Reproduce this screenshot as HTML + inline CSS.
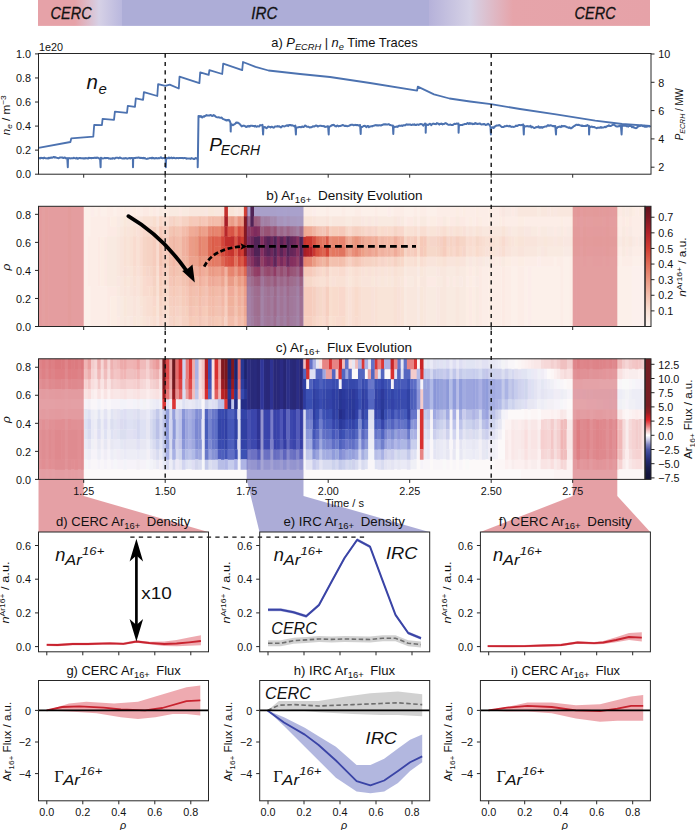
<!DOCTYPE html>
<html><head><meta charset="utf-8"><style>
html,body{margin:0;padding:0;background:#fff;}
body{width:695px;height:830px;position:relative;overflow:hidden;font-family:"Liberation Sans", sans-serif;}
</style></head><body>
<svg width="695" height="830" viewBox="0 0 695 830" style="position:absolute;left:0;top:0">
<defs>
<linearGradient id="band" x1="0" y1="0" x2="1" y2="0"><stop offset="0.0000" stop-color="#e6a2a8"/><stop offset="0.0605" stop-color="#e6a2a8"/><stop offset="0.0997" stop-color="#d6d1e6"/><stop offset="0.1364" stop-color="#bab8de"/><stop offset="0.1381" stop-color="#adadd7"/><stop offset="0.6381" stop-color="#adadd7"/><stop offset="0.6397" stop-color="#b6b2da"/><stop offset="0.7059" stop-color="#d6d2e6"/><stop offset="0.7761" stop-color="#e6a4aa"/><stop offset="1.0000" stop-color="#e6a2a8"/></linearGradient>
<linearGradient id="cbb" x1="0" y1="1" x2="0" y2="0"><stop offset="0.000" stop-color="#fcf5f2"/><stop offset="0.130" stop-color="#f9e0d4"/><stop offset="0.260" stop-color="#f3beac"/><stop offset="0.390" stop-color="#ea9680"/><stop offset="0.519" stop-color="#e06c56"/><stop offset="0.649" stop-color="#d23e32"/><stop offset="0.779" stop-color="#b22128"/><stop offset="0.909" stop-color="#7d1621"/><stop offset="1.000" stop-color="#5f121c"/></linearGradient>
<linearGradient id="cbc" x1="0" y1="1" x2="0" y2="0"><stop offset="-0.0019" stop-color="#121237"/><stop offset="0.0452" stop-color="#14143c"/><stop offset="0.1017" stop-color="#191e50"/><stop offset="0.1536" stop-color="#23286e"/><stop offset="0.2007" stop-color="#323c8c"/><stop offset="0.2478" stop-color="#4b55a5"/><stop offset="0.2902" stop-color="#8287c3"/><stop offset="0.3278" stop-color="#c8c8e6"/><stop offset="0.3655" stop-color="#ffffff"/><stop offset="0.4032" stop-color="#f5c8c8"/><stop offset="0.4456" stop-color="#eb7878"/><stop offset="0.4927" stop-color="#de2328"/><stop offset="0.5257" stop-color="#be1e23"/><stop offset="0.5539" stop-color="#961e23"/><stop offset="0.6105" stop-color="#781e23"/><stop offset="1.0014" stop-color="#731e23"/></linearGradient>
</defs>
<rect width="695" height="830" fill="#ffffff"/>
<rect x="38" y="0" width="612" height="25.9" fill="url(#band)"/>
<g font-family='"Liberation Sans", sans-serif' font-style="italic" font-size="17" fill="#111" stroke="#111" stroke-width="0.3">
<text x="50.6" y="19.2" textLength="41" lengthAdjust="spacingAndGlyphs">CERC</text>
<text x="251.3" y="19.2" textLength="26.2" lengthAdjust="spacingAndGlyphs">IRC</text>
<text x="574.6" y="19.2" textLength="41" lengthAdjust="spacingAndGlyphs">CERC</text>
</g>
<path fill="#fceae4" d="M38.50 206.30h3.61v10.37h-3.61zM38.50 216.32h3.61v10.37h-3.61zM38.50 226.33h3.61v10.37h-3.61zM38.50 236.35h3.61v10.37h-3.61zM38.50 246.37h3.61v10.37h-3.61zM38.50 256.38h3.61v10.37h-3.61zM38.50 266.40h3.61v10.37h-3.61zM38.50 276.42h3.61v10.37h-3.61zM38.50 286.43h3.61v10.37h-3.61zM38.50 296.45h3.61v10.37h-3.61zM38.50 306.47h3.61v10.37h-3.61zM38.50 316.48h3.61v10.37h-3.61zM97.18 236.35h3.61v10.37h-3.61zM97.18 246.37h3.61v10.37h-3.61zM97.18 256.38h3.61v10.37h-3.61zM97.18 266.40h3.61v10.37h-3.61zM97.18 276.42h3.61v10.37h-3.61zM103.70 236.35h3.61v10.37h-3.61zM103.70 246.37h3.61v10.37h-3.61zM103.70 256.38h3.61v10.37h-3.61zM103.70 266.40h3.61v10.37h-3.61zM103.70 276.42h3.61v10.37h-3.61zM106.96 216.32h3.61v10.37h-3.61zM106.96 226.33h3.61v10.37h-3.61zM106.96 286.43h3.61v10.37h-3.61zM106.96 296.45h3.61v10.37h-3.61zM106.96 306.47h3.61v10.37h-3.61zM106.96 316.48h3.61v10.37h-3.61zM110.22 226.33h3.61v10.37h-3.61zM110.22 286.43h3.61v10.37h-3.61zM113.48 226.33h3.61v10.37h-3.61zM113.48 286.43h3.61v10.37h-3.61zM116.74 316.48h3.61v10.37h-3.61zM142.82 206.30h3.61v10.37h-3.61zM146.08 206.30h3.61v10.37h-3.61zM152.60 206.30h3.61v10.37h-3.61zM178.68 206.30h3.61v10.37h-3.61zM253.66 206.30h3.61v10.37h-3.61zM256.92 206.30h3.61v10.37h-3.61zM403.62 276.42h3.61v10.37h-3.61zM406.88 216.32h3.61v10.37h-3.61zM410.14 216.32h3.61v10.37h-3.61zM426.44 276.42h3.61v10.37h-3.61zM429.70 276.42h3.61v10.37h-3.61zM432.96 276.42h3.61v10.37h-3.61zM436.22 216.32h3.61v10.37h-3.61zM439.48 216.32h3.61v10.37h-3.61zM446.00 276.42h3.61v10.37h-3.61zM449.26 216.32h3.61v10.37h-3.61zM452.52 216.32h3.61v10.37h-3.61zM452.52 276.42h3.61v10.37h-3.61zM459.04 216.32h3.61v10.37h-3.61zM462.30 216.32h3.61v10.37h-3.61zM468.82 266.40h3.61v10.37h-3.61zM468.82 286.43h3.61v10.37h-3.61zM468.82 296.45h3.61v10.37h-3.61zM468.82 306.47h3.61v10.37h-3.61zM468.82 316.48h3.61v10.37h-3.61zM475.34 216.32h3.61v10.37h-3.61zM478.60 266.40h3.61v10.37h-3.61zM478.60 276.42h3.61v10.37h-3.61zM478.60 286.43h3.61v10.37h-3.61zM478.60 296.45h3.61v10.37h-3.61zM478.60 306.47h3.61v10.37h-3.61zM478.60 316.48h3.61v10.37h-3.61zM491.64 256.38h3.61v10.37h-3.61zM498.16 206.30h3.61v10.37h-3.61zM498.16 256.38h3.61v10.37h-3.61zM501.42 216.32h3.61v10.37h-3.61zM501.42 266.40h3.61v10.37h-3.61zM501.42 276.42h3.61v10.37h-3.61zM501.42 286.43h3.61v10.37h-3.61zM501.42 296.45h3.61v10.37h-3.61zM501.42 306.47h3.61v10.37h-3.61zM501.42 316.48h3.61v10.37h-3.61zM511.20 206.30h3.61v10.37h-3.61zM537.28 226.33h3.61v10.37h-3.61zM553.58 226.33h3.61v10.37h-3.61zM563.36 226.33h3.61v10.37h-3.61zM576.40 216.32h3.61v10.37h-3.61zM579.66 206.30h3.61v10.37h-3.61zM579.66 236.35h3.61v10.37h-3.61zM586.18 226.33h3.61v10.37h-3.61zM586.18 246.37h3.61v10.37h-3.61zM589.44 226.33h3.61v10.37h-3.61zM589.44 246.37h3.61v10.37h-3.61zM602.48 226.33h3.61v10.37h-3.61zM602.48 246.37h3.61v10.37h-3.61zM605.74 216.32h3.61v10.37h-3.61zM612.26 206.30h3.61v10.37h-3.61zM615.52 226.33h3.61v10.37h-3.61zM615.52 246.37h3.61v10.37h-3.61zM618.78 206.30h3.61v10.37h-3.61zM622.04 216.32h3.61v10.37h-3.61zM625.30 226.33h3.61v10.37h-3.61zM625.30 246.37h3.61v10.37h-3.61zM628.56 216.32h3.61v10.37h-3.61zM635.08 236.35h3.61v10.37h-3.61zM644.86 236.35h0.49v10.37h-0.49z"/>
<path fill="#fcf0ea" d="M41.76 206.30h3.61v10.37h-3.61zM41.76 216.32h3.61v10.37h-3.61zM41.76 226.33h3.61v10.37h-3.61zM41.76 236.35h3.61v10.37h-3.61zM41.76 246.37h3.61v10.37h-3.61zM41.76 256.38h3.61v10.37h-3.61zM41.76 266.40h3.61v10.37h-3.61zM41.76 276.42h3.61v10.37h-3.61zM41.76 286.43h3.61v10.37h-3.61zM41.76 296.45h3.61v10.37h-3.61zM41.76 306.47h3.61v10.37h-3.61zM41.76 316.48h3.61v10.37h-3.61zM84.14 206.30h3.61v10.37h-3.61zM84.14 216.32h3.61v10.37h-3.61zM84.14 226.33h3.61v10.37h-3.61zM84.14 236.35h3.61v10.37h-3.61zM84.14 246.37h3.61v10.37h-3.61zM84.14 256.38h3.61v10.37h-3.61zM84.14 266.40h3.61v10.37h-3.61zM84.14 276.42h3.61v10.37h-3.61zM84.14 286.43h3.61v10.37h-3.61zM84.14 296.45h3.61v10.37h-3.61zM84.14 306.47h3.61v10.37h-3.61zM84.14 316.48h3.61v10.37h-3.61zM87.40 206.30h3.61v10.37h-3.61zM87.40 216.32h3.61v10.37h-3.61zM87.40 226.33h3.61v10.37h-3.61zM87.40 286.43h3.61v10.37h-3.61zM87.40 296.45h3.61v10.37h-3.61zM87.40 306.47h3.61v10.37h-3.61zM87.40 316.48h3.61v10.37h-3.61zM93.92 206.30h3.61v10.37h-3.61zM100.44 206.30h3.61v10.37h-3.61zM103.70 206.30h3.61v10.37h-3.61zM113.48 206.30h3.61v10.37h-3.61zM276.48 206.30h3.61v10.37h-3.61zM283.00 206.30h3.61v10.37h-3.61zM289.52 206.30h3.61v10.37h-3.61zM292.78 206.30h3.61v10.37h-3.61zM296.04 206.30h3.61v10.37h-3.61zM315.60 206.30h3.61v10.37h-3.61zM318.86 206.30h3.61v10.37h-3.61zM322.12 206.30h3.61v10.37h-3.61zM328.64 206.30h3.61v10.37h-3.61zM331.90 206.30h3.61v10.37h-3.61zM335.16 206.30h3.61v10.37h-3.61zM338.42 206.30h3.61v10.37h-3.61zM344.94 206.30h3.61v10.37h-3.61zM348.20 206.30h3.61v10.37h-3.61zM351.46 206.30h3.61v10.37h-3.61zM361.24 206.30h3.61v10.37h-3.61zM364.50 206.30h3.61v10.37h-3.61zM367.76 206.30h3.61v10.37h-3.61zM371.02 206.30h3.61v10.37h-3.61zM377.54 206.30h3.61v10.37h-3.61zM380.80 206.30h3.61v10.37h-3.61zM384.06 206.30h3.61v10.37h-3.61zM390.58 206.30h3.61v10.37h-3.61zM403.62 206.30h3.61v10.37h-3.61zM406.88 206.30h3.61v10.37h-3.61zM410.14 206.30h3.61v10.37h-3.61zM416.66 206.30h3.61v10.37h-3.61zM426.44 206.30h3.61v10.37h-3.61zM429.70 206.30h3.61v10.37h-3.61zM432.96 206.30h3.61v10.37h-3.61zM511.20 266.40h3.61v10.37h-3.61zM511.20 276.42h3.61v10.37h-3.61zM511.20 286.43h3.61v10.37h-3.61zM511.20 296.45h3.61v10.37h-3.61zM511.20 306.47h3.61v10.37h-3.61zM511.20 316.48h3.61v10.37h-3.61zM514.46 266.40h3.61v10.37h-3.61zM514.46 276.42h3.61v10.37h-3.61zM514.46 286.43h3.61v10.37h-3.61zM514.46 296.45h3.61v10.37h-3.61zM514.46 306.47h3.61v10.37h-3.61zM514.46 316.48h3.61v10.37h-3.61zM524.24 266.40h3.61v10.37h-3.61zM524.24 276.42h3.61v10.37h-3.61zM524.24 286.43h3.61v10.37h-3.61zM524.24 296.45h3.61v10.37h-3.61zM524.24 306.47h3.61v10.37h-3.61zM524.24 316.48h3.61v10.37h-3.61zM530.76 266.40h3.61v10.37h-3.61zM530.76 276.42h3.61v10.37h-3.61zM530.76 286.43h3.61v10.37h-3.61zM530.76 296.45h3.61v10.37h-3.61zM530.76 306.47h3.61v10.37h-3.61zM530.76 316.48h3.61v10.37h-3.61zM534.02 266.40h3.61v10.37h-3.61zM534.02 276.42h3.61v10.37h-3.61zM534.02 286.43h3.61v10.37h-3.61zM534.02 296.45h3.61v10.37h-3.61zM534.02 306.47h3.61v10.37h-3.61zM534.02 316.48h3.61v10.37h-3.61zM537.28 266.40h3.61v10.37h-3.61zM537.28 276.42h3.61v10.37h-3.61zM537.28 286.43h3.61v10.37h-3.61zM537.28 296.45h3.61v10.37h-3.61zM537.28 306.47h3.61v10.37h-3.61zM537.28 316.48h3.61v10.37h-3.61zM540.54 266.40h3.61v10.37h-3.61zM540.54 276.42h3.61v10.37h-3.61zM540.54 286.43h3.61v10.37h-3.61zM540.54 296.45h3.61v10.37h-3.61zM540.54 306.47h3.61v10.37h-3.61zM540.54 316.48h3.61v10.37h-3.61zM543.80 266.40h3.61v10.37h-3.61zM543.80 276.42h3.61v10.37h-3.61zM543.80 286.43h3.61v10.37h-3.61zM543.80 296.45h3.61v10.37h-3.61zM543.80 306.47h3.61v10.37h-3.61zM543.80 316.48h3.61v10.37h-3.61zM547.06 266.40h3.61v10.37h-3.61zM547.06 276.42h3.61v10.37h-3.61zM547.06 286.43h3.61v10.37h-3.61zM547.06 296.45h3.61v10.37h-3.61zM547.06 306.47h3.61v10.37h-3.61zM547.06 316.48h3.61v10.37h-3.61zM550.32 266.40h3.61v10.37h-3.61zM550.32 276.42h3.61v10.37h-3.61zM550.32 286.43h3.61v10.37h-3.61zM550.32 296.45h3.61v10.37h-3.61zM550.32 306.47h3.61v10.37h-3.61zM550.32 316.48h3.61v10.37h-3.61zM553.58 256.38h3.61v10.37h-3.61zM553.58 266.40h3.61v10.37h-3.61zM553.58 276.42h3.61v10.37h-3.61zM553.58 286.43h3.61v10.37h-3.61zM553.58 296.45h3.61v10.37h-3.61zM553.58 306.47h3.61v10.37h-3.61zM553.58 316.48h3.61v10.37h-3.61zM556.84 266.40h3.61v10.37h-3.61zM556.84 276.42h3.61v10.37h-3.61zM556.84 286.43h3.61v10.37h-3.61zM556.84 296.45h3.61v10.37h-3.61zM556.84 306.47h3.61v10.37h-3.61zM556.84 316.48h3.61v10.37h-3.61zM563.36 256.38h3.61v10.37h-3.61zM563.36 266.40h3.61v10.37h-3.61zM563.36 276.42h3.61v10.37h-3.61zM563.36 286.43h3.61v10.37h-3.61zM563.36 296.45h3.61v10.37h-3.61zM563.36 306.47h3.61v10.37h-3.61zM563.36 316.48h3.61v10.37h-3.61zM566.62 256.38h3.61v10.37h-3.61zM566.62 266.40h3.61v10.37h-3.61zM566.62 276.42h3.61v10.37h-3.61zM566.62 286.43h3.61v10.37h-3.61zM566.62 296.45h3.61v10.37h-3.61zM566.62 306.47h3.61v10.37h-3.61zM566.62 316.48h3.61v10.37h-3.61zM579.66 256.38h3.61v10.37h-3.61zM579.66 266.40h3.61v10.37h-3.61zM579.66 276.42h3.61v10.37h-3.61zM579.66 286.43h3.61v10.37h-3.61zM579.66 296.45h3.61v10.37h-3.61zM579.66 306.47h3.61v10.37h-3.61zM579.66 316.48h3.61v10.37h-3.61zM582.92 266.40h3.61v10.37h-3.61zM582.92 276.42h3.61v10.37h-3.61zM582.92 286.43h3.61v10.37h-3.61zM582.92 296.45h3.61v10.37h-3.61zM582.92 306.47h3.61v10.37h-3.61zM582.92 316.48h3.61v10.37h-3.61zM586.18 256.38h3.61v10.37h-3.61zM586.18 266.40h3.61v10.37h-3.61zM586.18 276.42h3.61v10.37h-3.61zM586.18 286.43h3.61v10.37h-3.61zM586.18 296.45h3.61v10.37h-3.61zM586.18 306.47h3.61v10.37h-3.61zM586.18 316.48h3.61v10.37h-3.61zM589.44 256.38h3.61v10.37h-3.61zM589.44 266.40h3.61v10.37h-3.61zM589.44 276.42h3.61v10.37h-3.61zM589.44 286.43h3.61v10.37h-3.61zM589.44 296.45h3.61v10.37h-3.61zM589.44 306.47h3.61v10.37h-3.61zM589.44 316.48h3.61v10.37h-3.61zM592.70 266.40h3.61v10.37h-3.61zM592.70 276.42h3.61v10.37h-3.61zM592.70 286.43h3.61v10.37h-3.61zM592.70 296.45h3.61v10.37h-3.61zM592.70 306.47h3.61v10.37h-3.61zM592.70 316.48h3.61v10.37h-3.61zM595.96 266.40h3.61v10.37h-3.61zM595.96 276.42h3.61v10.37h-3.61zM595.96 286.43h3.61v10.37h-3.61zM595.96 296.45h3.61v10.37h-3.61zM595.96 306.47h3.61v10.37h-3.61zM595.96 316.48h3.61v10.37h-3.61zM599.22 266.40h3.61v10.37h-3.61zM599.22 276.42h3.61v10.37h-3.61zM599.22 286.43h3.61v10.37h-3.61zM599.22 296.45h3.61v10.37h-3.61zM599.22 306.47h3.61v10.37h-3.61zM599.22 316.48h3.61v10.37h-3.61zM602.48 256.38h3.61v10.37h-3.61zM602.48 266.40h3.61v10.37h-3.61zM602.48 276.42h3.61v10.37h-3.61zM602.48 286.43h3.61v10.37h-3.61zM602.48 296.45h3.61v10.37h-3.61zM602.48 306.47h3.61v10.37h-3.61zM602.48 316.48h3.61v10.37h-3.61zM605.74 266.40h3.61v10.37h-3.61zM605.74 276.42h3.61v10.37h-3.61zM605.74 286.43h3.61v10.37h-3.61zM605.74 296.45h3.61v10.37h-3.61zM605.74 306.47h3.61v10.37h-3.61zM605.74 316.48h3.61v10.37h-3.61zM609.00 256.38h3.61v10.37h-3.61zM609.00 266.40h3.61v10.37h-3.61zM609.00 276.42h3.61v10.37h-3.61zM609.00 286.43h3.61v10.37h-3.61zM609.00 296.45h3.61v10.37h-3.61zM609.00 306.47h3.61v10.37h-3.61zM609.00 316.48h3.61v10.37h-3.61zM612.26 256.38h3.61v10.37h-3.61zM612.26 266.40h3.61v10.37h-3.61zM612.26 276.42h3.61v10.37h-3.61zM612.26 286.43h3.61v10.37h-3.61zM612.26 296.45h3.61v10.37h-3.61zM612.26 306.47h3.61v10.37h-3.61zM612.26 316.48h3.61v10.37h-3.61zM615.52 266.40h3.61v10.37h-3.61zM615.52 276.42h3.61v10.37h-3.61zM615.52 286.43h3.61v10.37h-3.61zM615.52 296.45h3.61v10.37h-3.61zM615.52 306.47h3.61v10.37h-3.61zM615.52 316.48h3.61v10.37h-3.61zM618.78 256.38h3.61v10.37h-3.61zM618.78 266.40h3.61v10.37h-3.61zM618.78 276.42h3.61v10.37h-3.61zM618.78 286.43h3.61v10.37h-3.61zM618.78 296.45h3.61v10.37h-3.61zM618.78 306.47h3.61v10.37h-3.61zM618.78 316.48h3.61v10.37h-3.61zM622.04 266.40h3.61v10.37h-3.61zM622.04 276.42h3.61v10.37h-3.61zM622.04 286.43h3.61v10.37h-3.61zM622.04 296.45h3.61v10.37h-3.61zM622.04 306.47h3.61v10.37h-3.61zM622.04 316.48h3.61v10.37h-3.61zM625.30 266.40h3.61v10.37h-3.61zM625.30 276.42h3.61v10.37h-3.61zM625.30 286.43h3.61v10.37h-3.61zM625.30 296.45h3.61v10.37h-3.61zM625.30 306.47h3.61v10.37h-3.61zM625.30 316.48h3.61v10.37h-3.61zM628.56 266.40h3.61v10.37h-3.61zM628.56 276.42h3.61v10.37h-3.61zM628.56 286.43h3.61v10.37h-3.61zM628.56 296.45h3.61v10.37h-3.61zM628.56 306.47h3.61v10.37h-3.61zM628.56 316.48h3.61v10.37h-3.61zM631.82 256.38h3.61v10.37h-3.61zM635.08 256.38h3.61v10.37h-3.61zM638.34 256.38h3.61v10.37h-3.61zM644.86 256.38h0.49v10.37h-0.49z"/>
<path fill="#fcede4" d="M45.02 206.30h3.61v10.37h-3.61zM45.02 216.32h3.61v10.37h-3.61zM45.02 226.33h3.61v10.37h-3.61zM45.02 236.35h3.61v10.37h-3.61zM45.02 246.37h3.61v10.37h-3.61zM45.02 256.38h3.61v10.37h-3.61zM45.02 266.40h3.61v10.37h-3.61zM45.02 276.42h3.61v10.37h-3.61zM45.02 286.43h3.61v10.37h-3.61zM45.02 296.45h3.61v10.37h-3.61zM45.02 306.47h3.61v10.37h-3.61zM45.02 316.48h3.61v10.37h-3.61zM100.44 236.35h3.61v10.37h-3.61zM100.44 246.37h3.61v10.37h-3.61zM100.44 256.38h3.61v10.37h-3.61zM100.44 266.40h3.61v10.37h-3.61zM100.44 276.42h3.61v10.37h-3.61zM110.22 216.32h3.61v10.37h-3.61zM110.22 296.45h3.61v10.37h-3.61zM110.22 306.47h3.61v10.37h-3.61zM110.22 316.48h3.61v10.37h-3.61zM113.48 216.32h3.61v10.37h-3.61zM113.48 296.45h3.61v10.37h-3.61zM113.48 306.47h3.61v10.37h-3.61zM113.48 316.48h3.61v10.37h-3.61zM123.26 206.30h3.61v10.37h-3.61zM133.04 206.30h3.61v10.37h-3.61zM149.34 206.30h3.61v10.37h-3.61zM162.38 206.30h3.61v10.37h-3.61zM165.64 206.30h3.61v10.37h-3.61zM416.66 276.42h3.61v10.37h-3.61zM429.70 216.32h3.61v10.37h-3.61zM432.96 216.32h3.61v10.37h-3.61zM446.00 216.32h3.61v10.37h-3.61zM455.78 206.30h3.61v10.37h-3.61zM462.30 206.30h3.61v10.37h-3.61zM465.56 266.40h3.61v10.37h-3.61zM465.56 286.43h3.61v10.37h-3.61zM465.56 296.45h3.61v10.37h-3.61zM465.56 306.47h3.61v10.37h-3.61zM465.56 316.48h3.61v10.37h-3.61zM468.82 216.32h3.61v10.37h-3.61zM468.82 276.42h3.61v10.37h-3.61zM472.08 266.40h3.61v10.37h-3.61zM472.08 286.43h3.61v10.37h-3.61zM472.08 296.45h3.61v10.37h-3.61zM472.08 306.47h3.61v10.37h-3.61zM472.08 316.48h3.61v10.37h-3.61zM475.34 206.30h3.61v10.37h-3.61zM478.60 216.32h3.61v10.37h-3.61zM488.38 206.30h3.61v10.37h-3.61zM488.38 216.32h3.61v10.37h-3.61zM488.38 266.40h3.61v10.37h-3.61zM488.38 276.42h3.61v10.37h-3.61zM488.38 286.43h3.61v10.37h-3.61zM488.38 296.45h3.61v10.37h-3.61zM488.38 306.47h3.61v10.37h-3.61zM488.38 316.48h3.61v10.37h-3.61zM494.90 256.38h3.61v10.37h-3.61zM498.16 216.32h3.61v10.37h-3.61zM504.68 256.38h3.61v10.37h-3.61zM507.94 256.38h3.61v10.37h-3.61zM517.72 216.32h3.61v10.37h-3.61zM517.72 256.38h3.61v10.37h-3.61zM520.98 216.32h3.61v10.37h-3.61zM520.98 256.38h3.61v10.37h-3.61zM560.10 216.32h3.61v10.37h-3.61zM569.88 216.32h3.61v10.37h-3.61zM573.14 216.32h3.61v10.37h-3.61zM582.92 216.32h3.61v10.37h-3.61zM592.70 216.32h3.61v10.37h-3.61zM595.96 216.32h3.61v10.37h-3.61zM599.22 216.32h3.61v10.37h-3.61zM609.00 226.33h3.61v10.37h-3.61zM609.00 246.37h3.61v10.37h-3.61zM612.26 226.33h3.61v10.37h-3.61zM612.26 246.37h3.61v10.37h-3.61zM615.52 216.32h3.61v10.37h-3.61zM625.30 216.32h3.61v10.37h-3.61zM631.82 206.30h3.61v10.37h-3.61zM638.34 206.30h3.61v10.37h-3.61zM641.60 206.30h3.61v10.37h-3.61zM641.60 216.32h3.61v10.37h-3.61zM641.60 226.33h3.61v10.37h-3.61zM641.60 246.37h3.61v10.37h-3.61z"/>
<path fill="#fcede7" d="M48.28 206.30h3.61v10.37h-3.61zM48.28 216.32h3.61v10.37h-3.61zM48.28 226.33h3.61v10.37h-3.61zM48.28 236.35h3.61v10.37h-3.61zM48.28 246.37h3.61v10.37h-3.61zM48.28 256.38h3.61v10.37h-3.61zM48.28 266.40h3.61v10.37h-3.61zM48.28 276.42h3.61v10.37h-3.61zM48.28 286.43h3.61v10.37h-3.61zM48.28 296.45h3.61v10.37h-3.61zM48.28 306.47h3.61v10.37h-3.61zM48.28 316.48h3.61v10.37h-3.61zM51.54 206.30h3.61v10.37h-3.61zM51.54 216.32h3.61v10.37h-3.61zM51.54 226.33h3.61v10.37h-3.61zM51.54 236.35h3.61v10.37h-3.61zM51.54 246.37h3.61v10.37h-3.61zM51.54 256.38h3.61v10.37h-3.61zM51.54 266.40h3.61v10.37h-3.61zM51.54 276.42h3.61v10.37h-3.61zM51.54 286.43h3.61v10.37h-3.61zM51.54 296.45h3.61v10.37h-3.61zM51.54 306.47h3.61v10.37h-3.61zM51.54 316.48h3.61v10.37h-3.61zM54.80 206.30h3.61v10.37h-3.61zM54.80 216.32h3.61v10.37h-3.61zM54.80 226.33h3.61v10.37h-3.61zM54.80 236.35h3.61v10.37h-3.61zM54.80 246.37h3.61v10.37h-3.61zM54.80 256.38h3.61v10.37h-3.61zM54.80 266.40h3.61v10.37h-3.61zM54.80 276.42h3.61v10.37h-3.61zM54.80 286.43h3.61v10.37h-3.61zM54.80 296.45h3.61v10.37h-3.61zM54.80 306.47h3.61v10.37h-3.61zM54.80 316.48h3.61v10.37h-3.61zM58.06 206.30h3.61v10.37h-3.61zM58.06 216.32h3.61v10.37h-3.61zM58.06 226.33h3.61v10.37h-3.61zM58.06 236.35h3.61v10.37h-3.61zM58.06 246.37h3.61v10.37h-3.61zM58.06 256.38h3.61v10.37h-3.61zM58.06 266.40h3.61v10.37h-3.61zM58.06 276.42h3.61v10.37h-3.61zM58.06 286.43h3.61v10.37h-3.61zM58.06 296.45h3.61v10.37h-3.61zM58.06 306.47h3.61v10.37h-3.61zM58.06 316.48h3.61v10.37h-3.61zM61.32 206.30h3.61v10.37h-3.61zM61.32 216.32h3.61v10.37h-3.61zM61.32 226.33h3.61v10.37h-3.61zM61.32 236.35h3.61v10.37h-3.61zM61.32 246.37h3.61v10.37h-3.61zM61.32 256.38h3.61v10.37h-3.61zM61.32 266.40h3.61v10.37h-3.61zM61.32 276.42h3.61v10.37h-3.61zM61.32 286.43h3.61v10.37h-3.61zM61.32 296.45h3.61v10.37h-3.61zM61.32 306.47h3.61v10.37h-3.61zM61.32 316.48h3.61v10.37h-3.61zM64.58 206.30h3.61v10.37h-3.61zM64.58 216.32h3.61v10.37h-3.61zM64.58 226.33h3.61v10.37h-3.61zM64.58 236.35h3.61v10.37h-3.61zM64.58 246.37h3.61v10.37h-3.61zM64.58 256.38h3.61v10.37h-3.61zM64.58 266.40h3.61v10.37h-3.61zM64.58 276.42h3.61v10.37h-3.61zM64.58 286.43h3.61v10.37h-3.61zM64.58 296.45h3.61v10.37h-3.61zM64.58 306.47h3.61v10.37h-3.61zM64.58 316.48h3.61v10.37h-3.61zM71.10 206.30h3.61v10.37h-3.61zM71.10 216.32h3.61v10.37h-3.61zM71.10 226.33h3.61v10.37h-3.61zM71.10 236.35h3.61v10.37h-3.61zM71.10 246.37h3.61v10.37h-3.61zM71.10 256.38h3.61v10.37h-3.61zM71.10 266.40h3.61v10.37h-3.61zM71.10 276.42h3.61v10.37h-3.61zM71.10 286.43h3.61v10.37h-3.61zM71.10 296.45h3.61v10.37h-3.61zM71.10 306.47h3.61v10.37h-3.61zM71.10 316.48h3.61v10.37h-3.61zM74.36 206.30h3.61v10.37h-3.61zM74.36 216.32h3.61v10.37h-3.61zM74.36 226.33h3.61v10.37h-3.61zM74.36 236.35h3.61v10.37h-3.61zM74.36 246.37h3.61v10.37h-3.61zM74.36 256.38h3.61v10.37h-3.61zM74.36 266.40h3.61v10.37h-3.61zM74.36 276.42h3.61v10.37h-3.61zM74.36 286.43h3.61v10.37h-3.61zM74.36 296.45h3.61v10.37h-3.61zM74.36 306.47h3.61v10.37h-3.61zM74.36 316.48h3.61v10.37h-3.61zM77.62 206.30h3.61v10.37h-3.61zM77.62 216.32h3.61v10.37h-3.61zM77.62 226.33h3.61v10.37h-3.61zM77.62 236.35h3.61v10.37h-3.61zM77.62 246.37h3.61v10.37h-3.61zM77.62 256.38h3.61v10.37h-3.61zM77.62 266.40h3.61v10.37h-3.61zM77.62 276.42h3.61v10.37h-3.61zM77.62 286.43h3.61v10.37h-3.61zM77.62 296.45h3.61v10.37h-3.61zM77.62 306.47h3.61v10.37h-3.61zM77.62 316.48h3.61v10.37h-3.61zM80.88 206.30h3.61v10.37h-3.61zM80.88 216.32h3.61v10.37h-3.61zM80.88 226.33h3.61v10.37h-3.61zM80.88 236.35h3.61v10.37h-3.61zM80.88 246.37h3.61v10.37h-3.61zM80.88 256.38h3.61v10.37h-3.61zM80.88 266.40h3.61v10.37h-3.61zM80.88 276.42h3.61v10.37h-3.61zM80.88 286.43h3.61v10.37h-3.61zM80.88 296.45h3.61v10.37h-3.61zM80.88 306.47h3.61v10.37h-3.61zM80.88 316.48h3.61v10.37h-3.61zM87.40 236.35h3.61v10.37h-3.61zM87.40 246.37h3.61v10.37h-3.61zM87.40 256.38h3.61v10.37h-3.61zM87.40 266.40h3.61v10.37h-3.61zM87.40 276.42h3.61v10.37h-3.61zM90.66 216.32h3.61v10.37h-3.61zM90.66 226.33h3.61v10.37h-3.61zM90.66 236.35h3.61v10.37h-3.61zM90.66 246.37h3.61v10.37h-3.61zM90.66 256.38h3.61v10.37h-3.61zM90.66 266.40h3.61v10.37h-3.61zM90.66 276.42h3.61v10.37h-3.61zM90.66 286.43h3.61v10.37h-3.61zM90.66 296.45h3.61v10.37h-3.61zM90.66 306.47h3.61v10.37h-3.61zM90.66 316.48h3.61v10.37h-3.61zM93.92 216.32h3.61v10.37h-3.61zM93.92 226.33h3.61v10.37h-3.61zM93.92 236.35h3.61v10.37h-3.61zM93.92 246.37h3.61v10.37h-3.61zM93.92 256.38h3.61v10.37h-3.61zM93.92 266.40h3.61v10.37h-3.61zM93.92 276.42h3.61v10.37h-3.61zM93.92 286.43h3.61v10.37h-3.61zM93.92 296.45h3.61v10.37h-3.61zM93.92 306.47h3.61v10.37h-3.61zM93.92 316.48h3.61v10.37h-3.61zM97.18 206.30h3.61v10.37h-3.61zM97.18 216.32h3.61v10.37h-3.61zM97.18 226.33h3.61v10.37h-3.61zM97.18 286.43h3.61v10.37h-3.61zM97.18 296.45h3.61v10.37h-3.61zM97.18 306.47h3.61v10.37h-3.61zM97.18 316.48h3.61v10.37h-3.61zM100.44 216.32h3.61v10.37h-3.61zM100.44 226.33h3.61v10.37h-3.61zM100.44 286.43h3.61v10.37h-3.61zM100.44 296.45h3.61v10.37h-3.61zM100.44 306.47h3.61v10.37h-3.61zM100.44 316.48h3.61v10.37h-3.61zM103.70 216.32h3.61v10.37h-3.61zM103.70 226.33h3.61v10.37h-3.61zM103.70 286.43h3.61v10.37h-3.61zM103.70 296.45h3.61v10.37h-3.61zM103.70 306.47h3.61v10.37h-3.61zM103.70 316.48h3.61v10.37h-3.61zM106.96 206.30h3.61v10.37h-3.61zM110.22 206.30h3.61v10.37h-3.61zM116.74 206.30h3.61v10.37h-3.61zM120.00 206.30h3.61v10.37h-3.61zM126.52 206.30h3.61v10.37h-3.61zM129.78 206.30h3.61v10.37h-3.61zM136.30 206.30h3.61v10.37h-3.61zM139.56 206.30h3.61v10.37h-3.61zM155.86 206.30h3.61v10.37h-3.61zM247.14 206.30h3.61v10.37h-3.61zM260.18 206.30h3.61v10.37h-3.61zM263.44 206.30h3.61v10.37h-3.61zM266.70 206.30h3.61v10.37h-3.61zM269.96 206.30h3.61v10.37h-3.61zM273.22 206.30h3.61v10.37h-3.61zM286.26 206.30h3.61v10.37h-3.61zM299.30 206.30h3.61v10.37h-3.61zM302.56 206.30h3.61v10.37h-3.61zM305.82 206.30h3.61v10.37h-3.61zM309.08 206.30h3.61v10.37h-3.61zM325.38 206.30h3.61v10.37h-3.61zM341.68 206.30h3.61v10.37h-3.61zM354.72 206.30h3.61v10.37h-3.61zM357.98 206.30h3.61v10.37h-3.61zM374.28 206.30h3.61v10.37h-3.61zM393.84 206.30h3.61v10.37h-3.61zM397.10 206.30h3.61v10.37h-3.61zM400.36 206.30h3.61v10.37h-3.61zM403.62 216.32h3.61v10.37h-3.61zM413.40 206.30h3.61v10.37h-3.61zM416.66 216.32h3.61v10.37h-3.61zM419.92 206.30h3.61v10.37h-3.61zM423.18 206.30h3.61v10.37h-3.61zM426.44 216.32h3.61v10.37h-3.61zM436.22 206.30h3.61v10.37h-3.61zM439.48 206.30h3.61v10.37h-3.61zM442.74 206.30h3.61v10.37h-3.61zM446.00 206.30h3.61v10.37h-3.61zM449.26 206.30h3.61v10.37h-3.61zM452.52 206.30h3.61v10.37h-3.61zM459.04 206.30h3.61v10.37h-3.61zM465.56 206.30h3.61v10.37h-3.61zM465.56 216.32h3.61v10.37h-3.61zM465.56 276.42h3.61v10.37h-3.61zM468.82 206.30h3.61v10.37h-3.61zM472.08 206.30h3.61v10.37h-3.61zM472.08 216.32h3.61v10.37h-3.61zM472.08 276.42h3.61v10.37h-3.61zM478.60 206.30h3.61v10.37h-3.61zM481.86 206.30h3.61v10.37h-3.61zM481.86 216.32h3.61v10.37h-3.61zM481.86 266.40h3.61v10.37h-3.61zM481.86 276.42h3.61v10.37h-3.61zM481.86 286.43h3.61v10.37h-3.61zM481.86 296.45h3.61v10.37h-3.61zM481.86 306.47h3.61v10.37h-3.61zM481.86 316.48h3.61v10.37h-3.61zM485.12 206.30h3.61v10.37h-3.61zM485.12 216.32h3.61v10.37h-3.61zM485.12 266.40h3.61v10.37h-3.61zM485.12 276.42h3.61v10.37h-3.61zM485.12 286.43h3.61v10.37h-3.61zM485.12 296.45h3.61v10.37h-3.61zM485.12 306.47h3.61v10.37h-3.61zM485.12 316.48h3.61v10.37h-3.61zM491.64 206.30h3.61v10.37h-3.61zM491.64 216.32h3.61v10.37h-3.61zM491.64 266.40h3.61v10.37h-3.61zM491.64 276.42h3.61v10.37h-3.61zM491.64 286.43h3.61v10.37h-3.61zM491.64 296.45h3.61v10.37h-3.61zM491.64 306.47h3.61v10.37h-3.61zM491.64 316.48h3.61v10.37h-3.61zM494.90 206.30h3.61v10.37h-3.61zM494.90 216.32h3.61v10.37h-3.61zM494.90 266.40h3.61v10.37h-3.61zM494.90 276.42h3.61v10.37h-3.61zM494.90 286.43h3.61v10.37h-3.61zM494.90 296.45h3.61v10.37h-3.61zM494.90 306.47h3.61v10.37h-3.61zM494.90 316.48h3.61v10.37h-3.61zM498.16 266.40h3.61v10.37h-3.61zM498.16 276.42h3.61v10.37h-3.61zM498.16 286.43h3.61v10.37h-3.61zM498.16 296.45h3.61v10.37h-3.61zM498.16 306.47h3.61v10.37h-3.61zM498.16 316.48h3.61v10.37h-3.61zM504.68 216.32h3.61v10.37h-3.61zM504.68 266.40h3.61v10.37h-3.61zM504.68 276.42h3.61v10.37h-3.61zM504.68 286.43h3.61v10.37h-3.61zM504.68 296.45h3.61v10.37h-3.61zM504.68 306.47h3.61v10.37h-3.61zM504.68 316.48h3.61v10.37h-3.61zM507.94 216.32h3.61v10.37h-3.61zM507.94 266.40h3.61v10.37h-3.61zM507.94 276.42h3.61v10.37h-3.61zM507.94 286.43h3.61v10.37h-3.61zM507.94 296.45h3.61v10.37h-3.61zM507.94 306.47h3.61v10.37h-3.61zM507.94 316.48h3.61v10.37h-3.61zM511.20 216.32h3.61v10.37h-3.61zM511.20 256.38h3.61v10.37h-3.61zM514.46 216.32h3.61v10.37h-3.61zM514.46 256.38h3.61v10.37h-3.61zM517.72 266.40h3.61v10.37h-3.61zM517.72 276.42h3.61v10.37h-3.61zM517.72 286.43h3.61v10.37h-3.61zM517.72 296.45h3.61v10.37h-3.61zM517.72 306.47h3.61v10.37h-3.61zM517.72 316.48h3.61v10.37h-3.61zM520.98 266.40h3.61v10.37h-3.61zM520.98 276.42h3.61v10.37h-3.61zM520.98 286.43h3.61v10.37h-3.61zM520.98 296.45h3.61v10.37h-3.61zM520.98 306.47h3.61v10.37h-3.61zM520.98 316.48h3.61v10.37h-3.61zM524.24 216.32h3.61v10.37h-3.61zM524.24 256.38h3.61v10.37h-3.61zM527.50 216.32h3.61v10.37h-3.61zM527.50 256.38h3.61v10.37h-3.61zM530.76 216.32h3.61v10.37h-3.61zM530.76 256.38h3.61v10.37h-3.61zM534.02 216.32h3.61v10.37h-3.61zM534.02 256.38h3.61v10.37h-3.61zM537.28 216.32h3.61v10.37h-3.61zM540.54 216.32h3.61v10.37h-3.61zM540.54 256.38h3.61v10.37h-3.61zM543.80 216.32h3.61v10.37h-3.61zM543.80 256.38h3.61v10.37h-3.61zM547.06 216.32h3.61v10.37h-3.61zM547.06 256.38h3.61v10.37h-3.61zM550.32 216.32h3.61v10.37h-3.61zM550.32 256.38h3.61v10.37h-3.61zM553.58 216.32h3.61v10.37h-3.61zM556.84 216.32h3.61v10.37h-3.61zM556.84 256.38h3.61v10.37h-3.61zM560.10 256.38h3.61v10.37h-3.61zM560.10 266.40h3.61v10.37h-3.61zM560.10 276.42h3.61v10.37h-3.61zM560.10 286.43h3.61v10.37h-3.61zM560.10 296.45h3.61v10.37h-3.61zM560.10 306.47h3.61v10.37h-3.61zM560.10 316.48h3.61v10.37h-3.61zM563.36 216.32h3.61v10.37h-3.61zM566.62 216.32h3.61v10.37h-3.61zM569.88 256.38h3.61v10.37h-3.61zM569.88 266.40h3.61v10.37h-3.61zM569.88 276.42h3.61v10.37h-3.61zM569.88 286.43h3.61v10.37h-3.61zM569.88 296.45h3.61v10.37h-3.61zM569.88 306.47h3.61v10.37h-3.61zM569.88 316.48h3.61v10.37h-3.61zM573.14 256.38h3.61v10.37h-3.61zM576.40 256.38h3.61v10.37h-3.61zM576.40 266.40h3.61v10.37h-3.61zM576.40 276.42h3.61v10.37h-3.61zM576.40 286.43h3.61v10.37h-3.61zM576.40 296.45h3.61v10.37h-3.61zM576.40 306.47h3.61v10.37h-3.61zM576.40 316.48h3.61v10.37h-3.61zM579.66 226.33h3.61v10.37h-3.61zM579.66 246.37h3.61v10.37h-3.61zM582.92 256.38h3.61v10.37h-3.61zM586.18 216.32h3.61v10.37h-3.61zM589.44 216.32h3.61v10.37h-3.61zM592.70 256.38h3.61v10.37h-3.61zM595.96 256.38h3.61v10.37h-3.61zM599.22 256.38h3.61v10.37h-3.61zM602.48 216.32h3.61v10.37h-3.61zM605.74 256.38h3.61v10.37h-3.61zM609.00 216.32h3.61v10.37h-3.61zM612.26 216.32h3.61v10.37h-3.61zM615.52 256.38h3.61v10.37h-3.61zM618.78 216.32h3.61v10.37h-3.61zM618.78 226.33h3.61v10.37h-3.61zM618.78 246.37h3.61v10.37h-3.61zM622.04 256.38h3.61v10.37h-3.61zM625.30 256.38h3.61v10.37h-3.61zM628.56 256.38h3.61v10.37h-3.61zM631.82 216.32h3.61v10.37h-3.61zM631.82 226.33h3.61v10.37h-3.61zM631.82 246.37h3.61v10.37h-3.61zM635.08 206.30h3.61v10.37h-3.61zM635.08 216.32h3.61v10.37h-3.61zM635.08 226.33h3.61v10.37h-3.61zM635.08 246.37h3.61v10.37h-3.61zM638.34 216.32h3.61v10.37h-3.61zM638.34 226.33h3.61v10.37h-3.61zM638.34 246.37h3.61v10.37h-3.61zM641.60 256.38h3.61v10.37h-3.61zM644.86 206.30h0.49v10.37h-0.49zM644.86 216.32h0.49v10.37h-0.49zM644.86 226.33h0.49v10.37h-0.49zM644.86 246.37h0.49v10.37h-0.49z"/>
<path fill="#f9eae1" d="M67.84 206.30h3.61v10.37h-3.61zM67.84 216.32h3.61v10.37h-3.61zM67.84 226.33h3.61v10.37h-3.61zM67.84 236.35h3.61v10.37h-3.61zM67.84 246.37h3.61v10.37h-3.61zM67.84 256.38h3.61v10.37h-3.61zM67.84 266.40h3.61v10.37h-3.61zM67.84 276.42h3.61v10.37h-3.61zM67.84 286.43h3.61v10.37h-3.61zM67.84 296.45h3.61v10.37h-3.61zM67.84 306.47h3.61v10.37h-3.61zM67.84 316.48h3.61v10.37h-3.61zM106.96 236.35h3.61v10.37h-3.61zM106.96 246.37h3.61v10.37h-3.61zM106.96 256.38h3.61v10.37h-3.61zM106.96 266.40h3.61v10.37h-3.61zM106.96 276.42h3.61v10.37h-3.61zM110.22 236.35h3.61v10.37h-3.61zM110.22 246.37h3.61v10.37h-3.61zM110.22 256.38h3.61v10.37h-3.61zM110.22 266.40h3.61v10.37h-3.61zM110.22 276.42h3.61v10.37h-3.61zM113.48 236.35h3.61v10.37h-3.61zM113.48 246.37h3.61v10.37h-3.61zM113.48 256.38h3.61v10.37h-3.61zM113.48 266.40h3.61v10.37h-3.61zM113.48 276.42h3.61v10.37h-3.61zM116.74 226.33h3.61v10.37h-3.61zM116.74 286.43h3.61v10.37h-3.61zM120.00 216.32h3.61v10.37h-3.61zM120.00 296.45h3.61v10.37h-3.61zM120.00 306.47h3.61v10.37h-3.61zM120.00 316.48h3.61v10.37h-3.61zM126.52 316.48h3.61v10.37h-3.61zM159.12 206.30h3.61v10.37h-3.61zM168.90 206.30h3.61v10.37h-3.61zM172.16 206.30h3.61v10.37h-3.61zM175.42 206.30h3.61v10.37h-3.61zM181.94 206.30h3.61v10.37h-3.61zM185.20 206.30h3.61v10.37h-3.61zM328.64 216.32h3.61v10.37h-3.61zM344.94 216.32h3.61v10.37h-3.61zM348.20 216.32h3.61v10.37h-3.61zM364.50 216.32h3.61v10.37h-3.61zM371.02 216.32h3.61v10.37h-3.61zM377.54 216.32h3.61v10.37h-3.61zM380.80 216.32h3.61v10.37h-3.61zM384.06 216.32h3.61v10.37h-3.61zM387.32 216.32h3.61v10.37h-3.61zM390.58 216.32h3.61v10.37h-3.61zM400.36 216.32h3.61v10.37h-3.61zM403.62 266.40h3.61v10.37h-3.61zM403.62 286.43h3.61v10.37h-3.61zM403.62 296.45h3.61v10.37h-3.61zM403.62 306.47h3.61v10.37h-3.61zM403.62 316.48h3.61v10.37h-3.61zM406.88 276.42h3.61v10.37h-3.61zM410.14 276.42h3.61v10.37h-3.61zM413.40 216.32h3.61v10.37h-3.61zM419.92 216.32h3.61v10.37h-3.61zM423.18 216.32h3.61v10.37h-3.61zM426.44 266.40h3.61v10.37h-3.61zM426.44 286.43h3.61v10.37h-3.61zM426.44 296.45h3.61v10.37h-3.61zM426.44 306.47h3.61v10.37h-3.61zM426.44 316.48h3.61v10.37h-3.61zM429.70 266.40h3.61v10.37h-3.61zM429.70 286.43h3.61v10.37h-3.61zM429.70 296.45h3.61v10.37h-3.61zM429.70 306.47h3.61v10.37h-3.61zM429.70 316.48h3.61v10.37h-3.61zM432.96 266.40h3.61v10.37h-3.61zM432.96 286.43h3.61v10.37h-3.61zM432.96 296.45h3.61v10.37h-3.61zM432.96 306.47h3.61v10.37h-3.61zM432.96 316.48h3.61v10.37h-3.61zM436.22 276.42h3.61v10.37h-3.61zM439.48 276.42h3.61v10.37h-3.61zM442.74 216.32h3.61v10.37h-3.61zM446.00 266.40h3.61v10.37h-3.61zM446.00 286.43h3.61v10.37h-3.61zM446.00 296.45h3.61v10.37h-3.61zM446.00 306.47h3.61v10.37h-3.61zM446.00 316.48h3.61v10.37h-3.61zM449.26 266.40h3.61v10.37h-3.61zM449.26 276.42h3.61v10.37h-3.61zM449.26 286.43h3.61v10.37h-3.61zM449.26 296.45h3.61v10.37h-3.61zM449.26 306.47h3.61v10.37h-3.61zM449.26 316.48h3.61v10.37h-3.61zM452.52 266.40h3.61v10.37h-3.61zM452.52 286.43h3.61v10.37h-3.61zM452.52 296.45h3.61v10.37h-3.61zM452.52 306.47h3.61v10.37h-3.61zM452.52 316.48h3.61v10.37h-3.61zM455.78 216.32h3.61v10.37h-3.61zM455.78 276.42h3.61v10.37h-3.61zM459.04 266.40h3.61v10.37h-3.61zM459.04 286.43h3.61v10.37h-3.61zM459.04 296.45h3.61v10.37h-3.61zM459.04 306.47h3.61v10.37h-3.61zM459.04 316.48h3.61v10.37h-3.61zM462.30 266.40h3.61v10.37h-3.61zM462.30 276.42h3.61v10.37h-3.61zM462.30 286.43h3.61v10.37h-3.61zM462.30 296.45h3.61v10.37h-3.61zM462.30 306.47h3.61v10.37h-3.61zM462.30 316.48h3.61v10.37h-3.61zM465.56 256.38h3.61v10.37h-3.61zM472.08 256.38h3.61v10.37h-3.61zM475.34 266.40h3.61v10.37h-3.61zM475.34 286.43h3.61v10.37h-3.61zM475.34 296.45h3.61v10.37h-3.61zM475.34 306.47h3.61v10.37h-3.61zM475.34 316.48h3.61v10.37h-3.61zM481.86 256.38h3.61v10.37h-3.61zM488.38 256.38h3.61v10.37h-3.61zM501.42 256.38h3.61v10.37h-3.61zM511.20 226.33h3.61v10.37h-3.61zM514.46 226.33h3.61v10.37h-3.61zM530.76 226.33h3.61v10.37h-3.61zM534.02 226.33h3.61v10.37h-3.61zM537.28 206.30h3.61v10.37h-3.61zM537.28 246.37h3.61v10.37h-3.61zM540.54 226.33h3.61v10.37h-3.61zM543.80 226.33h3.61v10.37h-3.61zM547.06 246.37h3.61v10.37h-3.61zM550.32 246.37h3.61v10.37h-3.61zM553.58 246.37h3.61v10.37h-3.61zM556.84 246.37h3.61v10.37h-3.61zM560.10 226.33h3.61v10.37h-3.61zM560.10 246.37h3.61v10.37h-3.61zM569.88 226.33h3.61v10.37h-3.61zM569.88 246.37h3.61v10.37h-3.61zM573.14 226.33h3.61v10.37h-3.61zM573.14 246.37h3.61v10.37h-3.61zM576.40 226.33h3.61v10.37h-3.61zM576.40 246.37h3.61v10.37h-3.61zM582.92 226.33h3.61v10.37h-3.61zM582.92 246.37h3.61v10.37h-3.61zM586.18 206.30h3.61v10.37h-3.61zM586.18 236.35h3.61v10.37h-3.61zM589.44 206.30h3.61v10.37h-3.61zM589.44 236.35h3.61v10.37h-3.61zM602.48 206.30h3.61v10.37h-3.61zM602.48 236.35h3.61v10.37h-3.61zM605.74 226.33h3.61v10.37h-3.61zM605.74 246.37h3.61v10.37h-3.61zM609.00 236.35h3.61v10.37h-3.61zM612.26 236.35h3.61v10.37h-3.61zM615.52 206.30h3.61v10.37h-3.61zM615.52 236.35h3.61v10.37h-3.61zM622.04 206.30h3.61v10.37h-3.61zM622.04 226.33h3.61v10.37h-3.61zM622.04 246.37h3.61v10.37h-3.61zM625.30 236.35h3.61v10.37h-3.61zM628.56 206.30h3.61v10.37h-3.61zM641.60 236.35h3.61v10.37h-3.61z"/>
<path fill="#fcedea" d="M90.66 206.30h3.61v10.37h-3.61zM279.74 206.30h3.61v10.37h-3.61zM312.34 206.30h3.61v10.37h-3.61zM387.32 206.30h3.61v10.37h-3.61zM527.50 266.40h3.61v10.37h-3.61zM527.50 276.42h3.61v10.37h-3.61zM527.50 286.43h3.61v10.37h-3.61zM527.50 296.45h3.61v10.37h-3.61zM527.50 306.47h3.61v10.37h-3.61zM527.50 316.48h3.61v10.37h-3.61zM537.28 256.38h3.61v10.37h-3.61zM573.14 266.40h3.61v10.37h-3.61zM573.14 276.42h3.61v10.37h-3.61zM573.14 286.43h3.61v10.37h-3.61zM573.14 296.45h3.61v10.37h-3.61zM573.14 306.47h3.61v10.37h-3.61zM573.14 316.48h3.61v10.37h-3.61zM579.66 216.32h3.61v10.37h-3.61z"/>
<path fill="#f9eae4" d="M116.74 216.32h3.61v10.37h-3.61zM116.74 296.45h3.61v10.37h-3.61zM116.74 306.47h3.61v10.37h-3.61zM416.66 266.40h3.61v10.37h-3.61zM416.66 286.43h3.61v10.37h-3.61zM416.66 296.45h3.61v10.37h-3.61zM416.66 306.47h3.61v10.37h-3.61zM416.66 316.48h3.61v10.37h-3.61zM459.04 276.42h3.61v10.37h-3.61zM475.34 276.42h3.61v10.37h-3.61zM485.12 256.38h3.61v10.37h-3.61zM504.68 206.30h3.61v10.37h-3.61zM507.94 206.30h3.61v10.37h-3.61zM514.46 206.30h3.61v10.37h-3.61zM547.06 226.33h3.61v10.37h-3.61zM550.32 226.33h3.61v10.37h-3.61zM556.84 226.33h3.61v10.37h-3.61zM563.36 246.37h3.61v10.37h-3.61zM566.62 226.33h3.61v10.37h-3.61zM566.62 246.37h3.61v10.37h-3.61zM592.70 226.33h3.61v10.37h-3.61zM592.70 246.37h3.61v10.37h-3.61zM595.96 226.33h3.61v10.37h-3.61zM595.96 246.37h3.61v10.37h-3.61zM599.22 226.33h3.61v10.37h-3.61zM599.22 246.37h3.61v10.37h-3.61zM609.00 206.30h3.61v10.37h-3.61zM618.78 236.35h3.61v10.37h-3.61zM625.30 206.30h3.61v10.37h-3.61zM628.56 226.33h3.61v10.37h-3.61zM628.56 246.37h3.61v10.37h-3.61zM631.82 236.35h3.61v10.37h-3.61zM638.34 236.35h3.61v10.37h-3.61z"/>
<path fill="#f9e7de" d="M116.74 236.35h3.61v10.37h-3.61zM116.74 246.37h3.61v10.37h-3.61zM116.74 256.38h3.61v10.37h-3.61zM116.74 266.40h3.61v10.37h-3.61zM120.00 226.33h3.61v10.37h-3.61zM120.00 276.42h3.61v10.37h-3.61zM120.00 286.43h3.61v10.37h-3.61zM123.26 316.48h3.61v10.37h-3.61zM126.52 216.32h3.61v10.37h-3.61zM126.52 286.43h3.61v10.37h-3.61zM126.52 296.45h3.61v10.37h-3.61zM126.52 306.47h3.61v10.37h-3.61zM129.78 216.32h3.61v10.37h-3.61zM129.78 296.45h3.61v10.37h-3.61zM129.78 306.47h3.61v10.37h-3.61zM136.30 216.32h3.61v10.37h-3.61zM136.30 296.45h3.61v10.37h-3.61zM136.30 306.47h3.61v10.37h-3.61zM136.30 316.48h3.61v10.37h-3.61zM188.46 206.30h3.61v10.37h-3.61zM191.72 206.30h3.61v10.37h-3.61zM194.98 206.30h3.61v10.37h-3.61zM198.24 206.30h3.61v10.37h-3.61zM201.50 206.30h3.61v10.37h-3.61zM214.54 206.30h3.61v10.37h-3.61zM217.80 206.30h3.61v10.37h-3.61zM234.10 206.30h3.61v10.37h-3.61zM315.60 216.32h3.61v10.37h-3.61zM318.86 216.32h3.61v10.37h-3.61zM322.12 216.32h3.61v10.37h-3.61zM331.90 216.32h3.61v10.37h-3.61zM335.16 216.32h3.61v10.37h-3.61zM338.42 216.32h3.61v10.37h-3.61zM341.68 216.32h3.61v10.37h-3.61zM351.46 216.32h3.61v10.37h-3.61zM354.72 216.32h3.61v10.37h-3.61zM357.98 216.32h3.61v10.37h-3.61zM377.54 276.42h3.61v10.37h-3.61zM384.06 276.42h3.61v10.37h-3.61zM390.58 276.42h3.61v10.37h-3.61zM393.84 216.32h3.61v10.37h-3.61zM406.88 266.40h3.61v10.37h-3.61zM406.88 286.43h3.61v10.37h-3.61zM406.88 296.45h3.61v10.37h-3.61zM406.88 306.47h3.61v10.37h-3.61zM406.88 316.48h3.61v10.37h-3.61zM410.14 266.40h3.61v10.37h-3.61zM410.14 286.43h3.61v10.37h-3.61zM410.14 296.45h3.61v10.37h-3.61zM410.14 306.47h3.61v10.37h-3.61zM410.14 316.48h3.61v10.37h-3.61zM413.40 266.40h3.61v10.37h-3.61zM413.40 276.42h3.61v10.37h-3.61zM413.40 286.43h3.61v10.37h-3.61zM413.40 296.45h3.61v10.37h-3.61zM413.40 306.47h3.61v10.37h-3.61zM413.40 316.48h3.61v10.37h-3.61zM419.92 276.42h3.61v10.37h-3.61zM423.18 266.40h3.61v10.37h-3.61zM423.18 276.42h3.61v10.37h-3.61zM423.18 286.43h3.61v10.37h-3.61zM423.18 296.45h3.61v10.37h-3.61zM423.18 306.47h3.61v10.37h-3.61zM423.18 316.48h3.61v10.37h-3.61zM439.48 266.40h3.61v10.37h-3.61zM439.48 286.43h3.61v10.37h-3.61zM439.48 296.45h3.61v10.37h-3.61zM439.48 306.47h3.61v10.37h-3.61zM439.48 316.48h3.61v10.37h-3.61zM442.74 266.40h3.61v10.37h-3.61zM442.74 276.42h3.61v10.37h-3.61zM442.74 286.43h3.61v10.37h-3.61zM442.74 296.45h3.61v10.37h-3.61zM442.74 306.47h3.61v10.37h-3.61zM442.74 316.48h3.61v10.37h-3.61zM455.78 266.40h3.61v10.37h-3.61zM455.78 286.43h3.61v10.37h-3.61zM455.78 296.45h3.61v10.37h-3.61zM455.78 306.47h3.61v10.37h-3.61zM455.78 316.48h3.61v10.37h-3.61zM465.56 226.33h3.61v10.37h-3.61zM472.08 226.33h3.61v10.37h-3.61zM475.34 256.38h3.61v10.37h-3.61zM481.86 226.33h3.61v10.37h-3.61zM485.12 226.33h3.61v10.37h-3.61zM491.64 226.33h3.61v10.37h-3.61zM494.90 226.33h3.61v10.37h-3.61zM498.16 226.33h3.61v10.37h-3.61zM504.68 226.33h3.61v10.37h-3.61zM511.20 246.37h3.61v10.37h-3.61zM514.46 246.37h3.61v10.37h-3.61zM517.72 206.30h3.61v10.37h-3.61zM517.72 226.33h3.61v10.37h-3.61zM520.98 206.30h3.61v10.37h-3.61zM520.98 226.33h3.61v10.37h-3.61zM524.24 206.30h3.61v10.37h-3.61zM524.24 246.37h3.61v10.37h-3.61zM527.50 206.30h3.61v10.37h-3.61zM527.50 246.37h3.61v10.37h-3.61zM530.76 206.30h3.61v10.37h-3.61zM530.76 246.37h3.61v10.37h-3.61zM534.02 206.30h3.61v10.37h-3.61zM534.02 246.37h3.61v10.37h-3.61zM537.28 236.35h3.61v10.37h-3.61zM540.54 206.30h3.61v10.37h-3.61zM540.54 236.35h3.61v10.37h-3.61zM543.80 206.30h3.61v10.37h-3.61zM543.80 246.37h3.61v10.37h-3.61zM547.06 236.35h3.61v10.37h-3.61zM550.32 206.30h3.61v10.37h-3.61zM550.32 236.35h3.61v10.37h-3.61zM556.84 206.30h3.61v10.37h-3.61zM556.84 236.35h3.61v10.37h-3.61zM560.10 206.30h3.61v10.37h-3.61zM560.10 236.35h3.61v10.37h-3.61zM563.36 206.30h3.61v10.37h-3.61zM566.62 206.30h3.61v10.37h-3.61zM569.88 206.30h3.61v10.37h-3.61zM569.88 236.35h3.61v10.37h-3.61zM573.14 206.30h3.61v10.37h-3.61zM573.14 236.35h3.61v10.37h-3.61zM576.40 236.35h3.61v10.37h-3.61zM582.92 206.30h3.61v10.37h-3.61zM582.92 236.35h3.61v10.37h-3.61zM592.70 206.30h3.61v10.37h-3.61zM592.70 236.35h3.61v10.37h-3.61zM595.96 206.30h3.61v10.37h-3.61zM595.96 236.35h3.61v10.37h-3.61zM599.22 236.35h3.61v10.37h-3.61zM605.74 236.35h3.61v10.37h-3.61zM622.04 236.35h3.61v10.37h-3.61zM628.56 236.35h3.61v10.37h-3.61z"/>
<path fill="#f9e7e1" d="M116.74 276.42h3.61v10.37h-3.61zM129.78 316.48h3.61v10.37h-3.61zM204.76 206.30h3.61v10.37h-3.61zM361.24 216.32h3.61v10.37h-3.61zM367.76 216.32h3.61v10.37h-3.61zM374.28 216.32h3.61v10.37h-3.61zM397.10 216.32h3.61v10.37h-3.61zM436.22 266.40h3.61v10.37h-3.61zM436.22 286.43h3.61v10.37h-3.61zM436.22 296.45h3.61v10.37h-3.61zM436.22 306.47h3.61v10.37h-3.61zM436.22 316.48h3.61v10.37h-3.61zM468.82 256.38h3.61v10.37h-3.61zM478.60 256.38h3.61v10.37h-3.61zM501.42 206.30h3.61v10.37h-3.61zM507.94 226.33h3.61v10.37h-3.61zM524.24 226.33h3.61v10.37h-3.61zM527.50 226.33h3.61v10.37h-3.61zM540.54 246.37h3.61v10.37h-3.61zM547.06 206.30h3.61v10.37h-3.61zM553.58 206.30h3.61v10.37h-3.61zM553.58 236.35h3.61v10.37h-3.61zM563.36 236.35h3.61v10.37h-3.61zM566.62 236.35h3.61v10.37h-3.61zM599.22 206.30h3.61v10.37h-3.61zM605.74 206.30h3.61v10.37h-3.61z"/>
<path fill="#f9e4db" d="M120.00 236.35h3.61v10.37h-3.61zM120.00 246.37h3.61v10.37h-3.61zM120.00 256.38h3.61v10.37h-3.61zM120.00 266.40h3.61v10.37h-3.61zM123.26 286.43h3.61v10.37h-3.61zM126.52 226.33h3.61v10.37h-3.61zM126.52 266.40h3.61v10.37h-3.61zM129.78 276.42h3.61v10.37h-3.61zM129.78 286.43h3.61v10.37h-3.61zM133.04 216.32h3.61v10.37h-3.61zM133.04 296.45h3.61v10.37h-3.61zM133.04 306.47h3.61v10.37h-3.61zM136.30 276.42h3.61v10.37h-3.61zM136.30 286.43h3.61v10.37h-3.61zM139.56 216.32h3.61v10.37h-3.61zM139.56 306.47h3.61v10.37h-3.61zM155.86 216.32h3.61v10.37h-3.61zM155.86 316.48h3.61v10.37h-3.61zM221.06 206.30h3.61v10.37h-3.61zM237.36 206.30h3.61v10.37h-3.61zM296.04 216.32h3.61v10.37h-3.61zM312.34 216.32h3.61v10.37h-3.61zM325.38 216.32h3.61v10.37h-3.61zM344.94 276.42h3.61v10.37h-3.61zM361.24 276.42h3.61v10.37h-3.61zM364.50 276.42h3.61v10.37h-3.61zM367.76 276.42h3.61v10.37h-3.61zM374.28 276.42h3.61v10.37h-3.61zM377.54 266.40h3.61v10.37h-3.61zM384.06 266.40h3.61v10.37h-3.61zM390.58 266.40h3.61v10.37h-3.61zM397.10 276.42h3.61v10.37h-3.61zM416.66 226.33h3.61v10.37h-3.61zM426.44 226.33h3.61v10.37h-3.61zM426.44 256.38h3.61v10.37h-3.61zM429.70 256.38h3.61v10.37h-3.61zM432.96 256.38h3.61v10.37h-3.61zM446.00 256.38h3.61v10.37h-3.61zM449.26 256.38h3.61v10.37h-3.61zM452.52 256.38h3.61v10.37h-3.61zM459.04 256.38h3.61v10.37h-3.61zM462.30 256.38h3.61v10.37h-3.61zM468.82 226.33h3.61v10.37h-3.61zM478.60 226.33h3.61v10.37h-3.61zM488.38 226.33h3.61v10.37h-3.61zM494.90 246.37h3.61v10.37h-3.61zM504.68 246.37h3.61v10.37h-3.61zM507.94 246.37h3.61v10.37h-3.61zM511.20 236.35h3.61v10.37h-3.61zM517.72 246.37h3.61v10.37h-3.61zM520.98 246.37h3.61v10.37h-3.61zM524.24 236.35h3.61v10.37h-3.61zM527.50 236.35h3.61v10.37h-3.61zM530.76 236.35h3.61v10.37h-3.61zM534.02 236.35h3.61v10.37h-3.61zM576.40 206.30h3.61v10.37h-3.61z"/>
<path fill="#f9e7db" d="M123.26 216.32h3.61v10.37h-3.61zM123.26 296.45h3.61v10.37h-3.61zM123.26 306.47h3.61v10.37h-3.61zM126.52 276.42h3.61v10.37h-3.61zM133.04 316.48h3.61v10.37h-3.61zM139.56 316.48h3.61v10.37h-3.61zM208.02 206.30h3.61v10.37h-3.61zM211.28 206.30h3.61v10.37h-3.61zM240.62 206.30h3.61v10.37h-3.61zM348.20 276.42h3.61v10.37h-3.61zM371.02 276.42h3.61v10.37h-3.61zM380.80 276.42h3.61v10.37h-3.61zM387.32 276.42h3.61v10.37h-3.61zM400.36 276.42h3.61v10.37h-3.61zM416.66 256.38h3.61v10.37h-3.61zM419.92 266.40h3.61v10.37h-3.61zM419.92 286.43h3.61v10.37h-3.61zM419.92 296.45h3.61v10.37h-3.61zM419.92 306.47h3.61v10.37h-3.61zM419.92 316.48h3.61v10.37h-3.61zM514.46 236.35h3.61v10.37h-3.61zM543.80 236.35h3.61v10.37h-3.61z"/>
<path fill="#f9e4d8" d="M123.26 226.33h3.61v10.37h-3.61zM123.26 276.42h3.61v10.37h-3.61zM126.52 236.35h3.61v10.37h-3.61zM126.52 246.37h3.61v10.37h-3.61zM126.52 256.38h3.61v10.37h-3.61zM129.78 226.33h3.61v10.37h-3.61zM129.78 266.40h3.61v10.37h-3.61zM139.56 296.45h3.61v10.37h-3.61zM142.82 316.48h3.61v10.37h-3.61zM155.86 296.45h3.61v10.37h-3.61zM155.86 306.47h3.61v10.37h-3.61zM227.58 206.30h3.61v10.37h-3.61zM230.84 206.30h3.61v10.37h-3.61zM302.56 216.32h3.61v10.37h-3.61zM305.82 216.32h3.61v10.37h-3.61zM309.08 216.32h3.61v10.37h-3.61zM328.64 276.42h3.61v10.37h-3.61zM348.20 266.40h3.61v10.37h-3.61zM351.46 276.42h3.61v10.37h-3.61zM357.98 276.42h3.61v10.37h-3.61zM364.50 266.40h3.61v10.37h-3.61zM371.02 266.40h3.61v10.37h-3.61zM377.54 286.43h3.61v10.37h-3.61zM377.54 296.45h3.61v10.37h-3.61zM377.54 306.47h3.61v10.37h-3.61zM377.54 316.48h3.61v10.37h-3.61zM380.80 266.40h3.61v10.37h-3.61zM380.80 286.43h3.61v10.37h-3.61zM380.80 296.45h3.61v10.37h-3.61zM380.80 306.47h3.61v10.37h-3.61zM380.80 316.48h3.61v10.37h-3.61zM384.06 286.43h3.61v10.37h-3.61zM384.06 296.45h3.61v10.37h-3.61zM384.06 306.47h3.61v10.37h-3.61zM384.06 316.48h3.61v10.37h-3.61zM387.32 266.40h3.61v10.37h-3.61zM387.32 286.43h3.61v10.37h-3.61zM387.32 296.45h3.61v10.37h-3.61zM387.32 306.47h3.61v10.37h-3.61zM387.32 316.48h3.61v10.37h-3.61zM390.58 286.43h3.61v10.37h-3.61zM390.58 296.45h3.61v10.37h-3.61zM390.58 306.47h3.61v10.37h-3.61zM390.58 316.48h3.61v10.37h-3.61zM393.84 276.42h3.61v10.37h-3.61zM397.10 266.40h3.61v10.37h-3.61zM400.36 266.40h3.61v10.37h-3.61zM400.36 286.43h3.61v10.37h-3.61zM400.36 296.45h3.61v10.37h-3.61zM400.36 306.47h3.61v10.37h-3.61zM400.36 316.48h3.61v10.37h-3.61zM403.62 226.33h3.61v10.37h-3.61zM403.62 256.38h3.61v10.37h-3.61zM429.70 226.33h3.61v10.37h-3.61zM432.96 226.33h3.61v10.37h-3.61zM436.22 256.38h3.61v10.37h-3.61zM439.48 256.38h3.61v10.37h-3.61zM446.00 226.33h3.61v10.37h-3.61zM452.52 226.33h3.61v10.37h-3.61zM455.78 256.38h3.61v10.37h-3.61zM459.04 226.33h3.61v10.37h-3.61zM475.34 226.33h3.61v10.37h-3.61zM491.64 246.37h3.61v10.37h-3.61zM494.90 236.35h3.61v10.37h-3.61zM501.42 226.33h3.61v10.37h-3.61zM507.94 236.35h3.61v10.37h-3.61zM517.72 236.35h3.61v10.37h-3.61zM520.98 236.35h3.61v10.37h-3.61z"/>
<path fill="#f9e1d5" d="M123.26 236.35h3.61v10.37h-3.61zM123.26 246.37h3.61v10.37h-3.61zM123.26 256.38h3.61v10.37h-3.61zM129.78 236.35h3.61v10.37h-3.61zM129.78 246.37h3.61v10.37h-3.61zM129.78 256.38h3.61v10.37h-3.61zM133.04 226.33h3.61v10.37h-3.61zM133.04 276.42h3.61v10.37h-3.61zM136.30 236.35h3.61v10.37h-3.61zM136.30 246.37h3.61v10.37h-3.61zM136.30 256.38h3.61v10.37h-3.61zM139.56 276.42h3.61v10.37h-3.61zM139.56 286.43h3.61v10.37h-3.61zM142.82 216.32h3.61v10.37h-3.61zM142.82 296.45h3.61v10.37h-3.61zM142.82 306.47h3.61v10.37h-3.61zM146.08 216.32h3.61v10.37h-3.61zM149.34 216.32h3.61v10.37h-3.61zM149.34 316.48h3.61v10.37h-3.61zM155.86 276.42h3.61v10.37h-3.61zM155.86 286.43h3.61v10.37h-3.61zM283.00 216.32h3.61v10.37h-3.61zM289.52 216.32h3.61v10.37h-3.61zM292.78 216.32h3.61v10.37h-3.61zM299.30 216.32h3.61v10.37h-3.61zM318.86 276.42h3.61v10.37h-3.61zM322.12 276.42h3.61v10.37h-3.61zM328.64 266.40h3.61v10.37h-3.61zM335.16 276.42h3.61v10.37h-3.61zM338.42 276.42h3.61v10.37h-3.61zM341.68 276.42h3.61v10.37h-3.61zM344.94 286.43h3.61v10.37h-3.61zM344.94 296.45h3.61v10.37h-3.61zM344.94 306.47h3.61v10.37h-3.61zM344.94 316.48h3.61v10.37h-3.61zM351.46 266.40h3.61v10.37h-3.61zM354.72 276.42h3.61v10.37h-3.61zM357.98 266.40h3.61v10.37h-3.61zM361.24 286.43h3.61v10.37h-3.61zM361.24 296.45h3.61v10.37h-3.61zM361.24 306.47h3.61v10.37h-3.61zM361.24 316.48h3.61v10.37h-3.61zM364.50 286.43h3.61v10.37h-3.61zM364.50 296.45h3.61v10.37h-3.61zM364.50 306.47h3.61v10.37h-3.61zM364.50 316.48h3.61v10.37h-3.61zM367.76 286.43h3.61v10.37h-3.61zM367.76 296.45h3.61v10.37h-3.61zM367.76 306.47h3.61v10.37h-3.61zM367.76 316.48h3.61v10.37h-3.61zM374.28 286.43h3.61v10.37h-3.61zM374.28 296.45h3.61v10.37h-3.61zM374.28 306.47h3.61v10.37h-3.61zM374.28 316.48h3.61v10.37h-3.61zM393.84 266.40h3.61v10.37h-3.61zM393.84 286.43h3.61v10.37h-3.61zM393.84 296.45h3.61v10.37h-3.61zM393.84 306.47h3.61v10.37h-3.61zM393.84 316.48h3.61v10.37h-3.61zM406.88 226.33h3.61v10.37h-3.61zM406.88 256.38h3.61v10.37h-3.61zM410.14 226.33h3.61v10.37h-3.61zM410.14 256.38h3.61v10.37h-3.61zM423.18 256.38h3.61v10.37h-3.61zM439.48 226.33h3.61v10.37h-3.61zM442.74 256.38h3.61v10.37h-3.61zM455.78 226.33h3.61v10.37h-3.61zM465.56 246.37h3.61v10.37h-3.61zM472.08 246.37h3.61v10.37h-3.61zM481.86 246.37h3.61v10.37h-3.61zM485.12 236.35h3.61v10.37h-3.61zM488.38 246.37h3.61v10.37h-3.61zM491.64 236.35h3.61v10.37h-3.61zM498.16 236.35h3.61v10.37h-3.61z"/>
<path fill="#f9e1d8" d="M123.26 266.40h3.61v10.37h-3.61zM133.04 286.43h3.61v10.37h-3.61zM136.30 226.33h3.61v10.37h-3.61zM136.30 266.40h3.61v10.37h-3.61zM146.08 316.48h3.61v10.37h-3.61zM331.90 276.42h3.61v10.37h-3.61zM344.94 266.40h3.61v10.37h-3.61zM348.20 286.43h3.61v10.37h-3.61zM348.20 296.45h3.61v10.37h-3.61zM348.20 306.47h3.61v10.37h-3.61zM348.20 316.48h3.61v10.37h-3.61zM361.24 266.40h3.61v10.37h-3.61zM367.76 266.40h3.61v10.37h-3.61zM371.02 286.43h3.61v10.37h-3.61zM371.02 296.45h3.61v10.37h-3.61zM371.02 306.47h3.61v10.37h-3.61zM371.02 316.48h3.61v10.37h-3.61zM374.28 266.40h3.61v10.37h-3.61zM397.10 286.43h3.61v10.37h-3.61zM397.10 296.45h3.61v10.37h-3.61zM397.10 306.47h3.61v10.37h-3.61zM397.10 316.48h3.61v10.37h-3.61zM436.22 226.33h3.61v10.37h-3.61zM449.26 226.33h3.61v10.37h-3.61zM462.30 226.33h3.61v10.37h-3.61zM485.12 246.37h3.61v10.37h-3.61zM498.16 246.37h3.61v10.37h-3.61zM504.68 236.35h3.61v10.37h-3.61z"/>
<path fill="#f9dbcf" d="M133.04 236.35h3.61v10.37h-3.61zM133.04 246.37h3.61v10.37h-3.61zM133.04 256.38h3.61v10.37h-3.61zM139.56 236.35h3.61v10.37h-3.61zM139.56 246.37h3.61v10.37h-3.61zM139.56 256.38h3.61v10.37h-3.61zM142.82 276.42h3.61v10.37h-3.61zM142.82 286.43h3.61v10.37h-3.61zM146.08 286.43h3.61v10.37h-3.61zM155.86 236.35h3.61v10.37h-3.61zM155.86 246.37h3.61v10.37h-3.61zM155.86 256.38h3.61v10.37h-3.61zM162.38 306.47h3.61v10.37h-3.61zM276.48 216.32h3.61v10.37h-3.61zM312.34 276.42h3.61v10.37h-3.61zM322.12 316.48h3.61v10.37h-3.61zM325.38 276.42h3.61v10.37h-3.61zM335.16 316.48h3.61v10.37h-3.61zM338.42 266.40h3.61v10.37h-3.61zM338.42 316.48h3.61v10.37h-3.61zM341.68 266.40h3.61v10.37h-3.61zM354.72 316.48h3.61v10.37h-3.61zM384.06 226.33h3.61v10.37h-3.61zM390.58 226.33h3.61v10.37h-3.61zM468.82 236.35h3.61v10.37h-3.61zM478.60 236.35h3.61v10.37h-3.61zM501.42 236.35h3.61v10.37h-3.61z"/>
<path fill="#f9ded2" d="M133.04 266.40h3.61v10.37h-3.61zM139.56 226.33h3.61v10.37h-3.61zM139.56 266.40h3.61v10.37h-3.61zM146.08 296.45h3.61v10.37h-3.61zM146.08 306.47h3.61v10.37h-3.61zM149.34 296.45h3.61v10.37h-3.61zM149.34 306.47h3.61v10.37h-3.61zM152.60 316.48h3.61v10.37h-3.61zM155.86 226.33h3.61v10.37h-3.61zM155.86 266.40h3.61v10.37h-3.61zM162.38 216.32h3.61v10.37h-3.61zM162.38 316.48h3.61v10.37h-3.61zM165.64 216.32h3.61v10.37h-3.61zM165.64 316.48h3.61v10.37h-3.61zM315.60 276.42h3.61v10.37h-3.61zM331.90 266.40h3.61v10.37h-3.61zM335.16 266.40h3.61v10.37h-3.61zM351.46 286.43h3.61v10.37h-3.61zM351.46 296.45h3.61v10.37h-3.61zM351.46 306.47h3.61v10.37h-3.61zM351.46 316.48h3.61v10.37h-3.61zM354.72 266.40h3.61v10.37h-3.61zM357.98 286.43h3.61v10.37h-3.61zM357.98 296.45h3.61v10.37h-3.61zM357.98 306.47h3.61v10.37h-3.61zM357.98 316.48h3.61v10.37h-3.61zM413.40 226.33h3.61v10.37h-3.61zM413.40 256.38h3.61v10.37h-3.61zM419.92 226.33h3.61v10.37h-3.61zM419.92 256.38h3.61v10.37h-3.61zM423.18 226.33h3.61v10.37h-3.61zM442.74 226.33h3.61v10.37h-3.61zM465.56 236.35h3.61v10.37h-3.61zM468.82 246.37h3.61v10.37h-3.61zM472.08 236.35h3.61v10.37h-3.61zM478.60 246.37h3.61v10.37h-3.61zM481.86 236.35h3.61v10.37h-3.61zM488.38 236.35h3.61v10.37h-3.61zM501.42 246.37h3.61v10.37h-3.61z"/>
<path fill="#f9d8cc" d="M142.82 226.33h3.61v10.37h-3.61zM146.08 276.42h3.61v10.37h-3.61zM149.34 276.42h3.61v10.37h-3.61zM152.60 296.45h3.61v10.37h-3.61zM159.12 316.48h3.61v10.37h-3.61zM178.68 216.32h3.61v10.37h-3.61zM178.68 316.48h3.61v10.37h-3.61zM279.74 216.32h3.61v10.37h-3.61zM286.26 216.32h3.61v10.37h-3.61zM315.60 316.48h3.61v10.37h-3.61zM318.86 266.40h3.61v10.37h-3.61zM322.12 286.43h3.61v10.37h-3.61zM322.12 296.45h3.61v10.37h-3.61zM322.12 306.47h3.61v10.37h-3.61zM338.42 286.43h3.61v10.37h-3.61zM338.42 296.45h3.61v10.37h-3.61zM338.42 306.47h3.61v10.37h-3.61zM341.68 286.43h3.61v10.37h-3.61zM341.68 296.45h3.61v10.37h-3.61zM341.68 306.47h3.61v10.37h-3.61zM348.20 226.33h3.61v10.37h-3.61zM364.50 226.33h3.61v10.37h-3.61zM371.02 226.33h3.61v10.37h-3.61zM377.54 256.38h3.61v10.37h-3.61zM384.06 256.38h3.61v10.37h-3.61zM390.58 256.38h3.61v10.37h-3.61zM397.10 226.33h3.61v10.37h-3.61zM400.36 226.33h3.61v10.37h-3.61zM452.52 246.37h3.61v10.37h-3.61z"/>
<path fill="#f6d5c6" d="M142.82 236.35h3.61v10.37h-3.61zM142.82 246.37h3.61v10.37h-3.61zM142.82 256.38h3.61v10.37h-3.61zM149.34 266.40h3.61v10.37h-3.61zM152.60 286.43h3.61v10.37h-3.61zM159.12 306.47h3.61v10.37h-3.61zM162.38 286.43h3.61v10.37h-3.61zM165.64 276.42h3.61v10.37h-3.61zM178.68 306.47h3.61v10.37h-3.61zM312.34 316.48h3.61v10.37h-3.61zM344.94 226.33h3.61v10.37h-3.61zM361.24 226.33h3.61v10.37h-3.61zM371.02 256.38h3.61v10.37h-3.61zM393.84 226.33h3.61v10.37h-3.61zM403.62 236.35h3.61v10.37h-3.61zM403.62 246.37h3.61v10.37h-3.61zM436.22 246.37h3.61v10.37h-3.61zM449.26 246.37h3.61v10.37h-3.61zM459.04 236.35h3.61v10.37h-3.61zM462.30 236.35h3.61v10.37h-3.61z"/>
<path fill="#f9d8c9" d="M142.82 266.40h3.61v10.37h-3.61zM159.12 216.32h3.61v10.37h-3.61zM162.38 296.45h3.61v10.37h-3.61zM400.36 256.38h3.61v10.37h-3.61zM446.00 246.37h3.61v10.37h-3.61zM459.04 246.37h3.61v10.37h-3.61z"/>
<path fill="#f6d8c9" d="M146.08 226.33h3.61v10.37h-3.61zM165.64 286.43h3.61v10.37h-3.61zM175.42 216.32h3.61v10.37h-3.61zM175.42 316.48h3.61v10.37h-3.61zM305.82 276.42h3.61v10.37h-3.61zM309.08 276.42h3.61v10.37h-3.61zM318.86 286.43h3.61v10.37h-3.61zM318.86 296.45h3.61v10.37h-3.61zM318.86 306.47h3.61v10.37h-3.61zM387.32 256.38h3.61v10.37h-3.61zM397.10 256.38h3.61v10.37h-3.61zM426.44 236.35h3.61v10.37h-3.61zM426.44 246.37h3.61v10.37h-3.61zM429.70 246.37h3.61v10.37h-3.61zM432.96 246.37h3.61v10.37h-3.61zM475.34 236.35h3.61v10.37h-3.61z"/>
<path fill="#f6d2c3" d="M146.08 236.35h3.61v10.37h-3.61zM146.08 246.37h3.61v10.37h-3.61zM146.08 256.38h3.61v10.37h-3.61zM149.34 236.35h3.61v10.37h-3.61zM149.34 246.37h3.61v10.37h-3.61zM149.34 256.38h3.61v10.37h-3.61zM152.60 226.33h3.61v10.37h-3.61zM152.60 276.42h3.61v10.37h-3.61zM159.12 296.45h3.61v10.37h-3.61zM162.38 226.33h3.61v10.37h-3.61zM162.38 276.42h3.61v10.37h-3.61zM165.64 266.40h3.61v10.37h-3.61zM168.90 306.47h3.61v10.37h-3.61zM172.16 216.32h3.61v10.37h-3.61zM172.16 316.48h3.61v10.37h-3.61zM178.68 296.45h3.61v10.37h-3.61zM181.94 216.32h3.61v10.37h-3.61zM181.94 316.48h3.61v10.37h-3.61zM185.20 216.32h3.61v10.37h-3.61zM185.20 316.48h3.61v10.37h-3.61zM348.20 256.38h3.61v10.37h-3.61zM351.46 226.33h3.61v10.37h-3.61zM357.98 226.33h3.61v10.37h-3.61zM364.50 256.38h3.61v10.37h-3.61zM367.76 256.38h3.61v10.37h-3.61zM374.28 256.38h3.61v10.37h-3.61zM393.84 256.38h3.61v10.37h-3.61zM436.22 236.35h3.61v10.37h-3.61zM439.48 246.37h3.61v10.37h-3.61zM449.26 236.35h3.61v10.37h-3.61zM455.78 246.37h3.61v10.37h-3.61z"/>
<path fill="#f6d5c9" d="M146.08 266.40h3.61v10.37h-3.61zM149.34 226.33h3.61v10.37h-3.61zM168.90 216.32h3.61v10.37h-3.61zM168.90 316.48h3.61v10.37h-3.61zM302.56 276.42h3.61v10.37h-3.61zM315.60 266.40h3.61v10.37h-3.61zM315.60 286.43h3.61v10.37h-3.61zM315.60 296.45h3.61v10.37h-3.61zM315.60 306.47h3.61v10.37h-3.61zM367.76 226.33h3.61v10.37h-3.61zM374.28 226.33h3.61v10.37h-3.61zM380.80 256.38h3.61v10.37h-3.61zM429.70 236.35h3.61v10.37h-3.61zM432.96 236.35h3.61v10.37h-3.61zM446.00 236.35h3.61v10.37h-3.61zM452.52 236.35h3.61v10.37h-3.61zM462.30 246.37h3.61v10.37h-3.61z"/>
<path fill="#f9dbcc" d="M149.34 286.43h3.61v10.37h-3.61zM152.60 306.47h3.61v10.37h-3.61zM165.64 296.45h3.61v10.37h-3.61zM318.86 316.48h3.61v10.37h-3.61zM322.12 266.40h3.61v10.37h-3.61zM331.90 286.43h3.61v10.37h-3.61zM331.90 296.45h3.61v10.37h-3.61zM331.90 306.47h3.61v10.37h-3.61zM335.16 286.43h3.61v10.37h-3.61zM335.16 296.45h3.61v10.37h-3.61zM335.16 306.47h3.61v10.37h-3.61zM341.68 316.48h3.61v10.37h-3.61zM354.72 286.43h3.61v10.37h-3.61zM354.72 296.45h3.61v10.37h-3.61zM354.72 306.47h3.61v10.37h-3.61zM380.80 226.33h3.61v10.37h-3.61zM387.32 226.33h3.61v10.37h-3.61zM416.66 236.35h3.61v10.37h-3.61zM416.66 246.37h3.61v10.37h-3.61zM475.34 246.37h3.61v10.37h-3.61z"/>
<path fill="#f9decf" d="M152.60 216.32h3.61v10.37h-3.61zM165.64 306.47h3.61v10.37h-3.61zM328.64 286.43h3.61v10.37h-3.61zM328.64 296.45h3.61v10.37h-3.61zM328.64 306.47h3.61v10.37h-3.61zM331.90 316.48h3.61v10.37h-3.61zM377.54 226.33h3.61v10.37h-3.61z"/>
<path fill="#f6ccbd" d="M152.60 236.35h3.61v10.37h-3.61zM152.60 246.37h3.61v10.37h-3.61zM152.60 256.38h3.61v10.37h-3.61zM162.38 236.35h3.61v10.37h-3.61zM162.38 246.37h3.61v10.37h-3.61zM162.38 256.38h3.61v10.37h-3.61zM165.64 236.35h3.61v10.37h-3.61zM165.64 246.37h3.61v10.37h-3.61zM168.90 286.43h3.61v10.37h-3.61zM172.16 296.45h3.61v10.37h-3.61zM175.42 286.43h3.61v10.37h-3.61zM194.98 316.48h3.61v10.37h-3.61zM201.50 316.48h3.61v10.37h-3.61zM224.32 296.45h3.61v10.37h-3.61zM302.56 286.43h3.61v10.37h-3.61zM302.56 296.45h3.61v10.37h-3.61zM302.56 306.47h3.61v10.37h-3.61zM305.82 286.43h3.61v10.37h-3.61zM305.82 296.45h3.61v10.37h-3.61zM305.82 306.47h3.61v10.37h-3.61zM309.08 286.43h3.61v10.37h-3.61zM309.08 296.45h3.61v10.37h-3.61zM309.08 306.47h3.61v10.37h-3.61zM344.94 256.38h3.61v10.37h-3.61zM406.88 236.35h3.61v10.37h-3.61zM406.88 246.37h3.61v10.37h-3.61zM442.74 246.37h3.61v10.37h-3.61z"/>
<path fill="#f6cfc0" d="M152.60 266.40h3.61v10.37h-3.61zM162.38 266.40h3.61v10.37h-3.61zM168.90 296.45h3.61v10.37h-3.61zM172.16 306.47h3.61v10.37h-3.61zM175.42 296.45h3.61v10.37h-3.61zM178.68 286.43h3.61v10.37h-3.61zM181.94 306.47h3.61v10.37h-3.61zM204.76 316.48h3.61v10.37h-3.61zM224.32 306.47h3.61v10.37h-3.61zM302.56 316.48h3.61v10.37h-3.61zM305.82 316.48h3.61v10.37h-3.61zM309.08 316.48h3.61v10.37h-3.61zM312.34 266.40h3.61v10.37h-3.61zM312.34 286.43h3.61v10.37h-3.61zM312.34 296.45h3.61v10.37h-3.61zM312.34 306.47h3.61v10.37h-3.61zM325.38 286.43h3.61v10.37h-3.61zM325.38 296.45h3.61v10.37h-3.61zM325.38 306.47h3.61v10.37h-3.61zM328.64 226.33h3.61v10.37h-3.61zM354.72 226.33h3.61v10.37h-3.61zM361.24 256.38h3.61v10.37h-3.61zM410.14 236.35h3.61v10.37h-3.61zM410.14 246.37h3.61v10.37h-3.61zM455.78 236.35h3.61v10.37h-3.61z"/>
<path fill="#f6c9ba" d="M159.12 226.33h3.61v10.37h-3.61zM178.68 276.42h3.61v10.37h-3.61zM185.20 296.45h3.61v10.37h-3.61zM191.72 216.32h3.61v10.37h-3.61zM194.98 216.32h3.61v10.37h-3.61zM204.76 216.32h3.61v10.37h-3.61zM224.32 286.43h3.61v10.37h-3.61zM234.10 316.48h3.61v10.37h-3.61zM305.82 266.40h3.61v10.37h-3.61zM309.08 266.40h3.61v10.37h-3.61zM338.42 226.33h3.61v10.37h-3.61zM341.68 226.33h3.61v10.37h-3.61zM351.46 256.38h3.61v10.37h-3.61zM357.98 256.38h3.61v10.37h-3.61zM413.40 236.35h3.61v10.37h-3.61zM413.40 246.37h3.61v10.37h-3.61zM419.92 246.37h3.61v10.37h-3.61zM423.18 236.35h3.61v10.37h-3.61z"/>
<path fill="#f3c3b1" d="M159.12 236.35h3.61v10.37h-3.61zM159.12 246.37h3.61v10.37h-3.61zM159.12 256.38h3.61v10.37h-3.61zM168.90 266.40h3.61v10.37h-3.61zM172.16 276.42h3.61v10.37h-3.61zM175.42 266.40h3.61v10.37h-3.61zM181.94 276.42h3.61v10.37h-3.61zM191.72 296.45h3.61v10.37h-3.61zM198.24 216.32h3.61v10.37h-3.61zM214.54 306.47h3.61v10.37h-3.61zM221.06 316.48h3.61v10.37h-3.61zM234.10 306.47h3.61v10.37h-3.61zM328.64 256.38h3.61v10.37h-3.61z"/>
<path fill="#f6c6b7" d="M159.12 266.40h3.61v10.37h-3.61zM168.90 276.42h3.61v10.37h-3.61zM178.68 226.33h3.61v10.37h-3.61zM185.20 286.43h3.61v10.37h-3.61zM191.72 306.47h3.61v10.37h-3.61zM201.50 216.32h3.61v10.37h-3.61zM204.76 296.45h3.61v10.37h-3.61z"/>
<path fill="#f6ccba" d="M159.12 276.42h3.61v10.37h-3.61zM181.94 296.45h3.61v10.37h-3.61zM191.72 316.48h3.61v10.37h-3.61zM204.76 306.47h3.61v10.37h-3.61zM217.80 316.48h3.61v10.37h-3.61zM331.90 226.33h3.61v10.37h-3.61zM335.16 226.33h3.61v10.37h-3.61zM423.18 246.37h3.61v10.37h-3.61zM442.74 236.35h3.61v10.37h-3.61z"/>
<path fill="#f6cfbd" d="M159.12 286.43h3.61v10.37h-3.61zM165.64 256.38h3.61v10.37h-3.61zM185.20 306.47h3.61v10.37h-3.61z"/>
<path fill="#f6d2c6" d="M165.64 226.33h3.61v10.37h-3.61zM175.42 306.47h3.61v10.37h-3.61zM224.32 316.48h3.61v10.37h-3.61zM325.38 266.40h3.61v10.37h-3.61zM325.38 316.48h3.61v10.37h-3.61z"/>
<path fill="#f3c6b4" d="M168.90 226.33h3.61v10.37h-3.61zM175.42 226.33h3.61v10.37h-3.61zM178.68 266.40h3.61v10.37h-3.61zM194.98 296.45h3.61v10.37h-3.61zM211.28 316.48h3.61v10.37h-3.61zM273.22 216.32h3.61v10.37h-3.61zM354.72 256.38h3.61v10.37h-3.61z"/>
<path fill="#f3bdab" d="M168.90 236.35h3.61v10.37h-3.61zM168.90 246.37h3.61v10.37h-3.61zM172.16 266.40h3.61v10.37h-3.61zM175.42 236.35h3.61v10.37h-3.61zM175.42 246.37h3.61v10.37h-3.61zM181.94 226.33h3.61v10.37h-3.61zM188.46 286.43h3.61v10.37h-3.61zM198.24 296.45h3.61v10.37h-3.61zM204.76 276.42h3.61v10.37h-3.61zM208.02 216.32h3.61v10.37h-3.61zM208.02 296.45h3.61v10.37h-3.61zM211.28 306.47h3.61v10.37h-3.61zM214.54 216.32h3.61v10.37h-3.61zM217.80 216.32h3.61v10.37h-3.61zM217.80 286.43h3.61v10.37h-3.61zM221.06 306.47h3.61v10.37h-3.61zM227.58 316.48h3.61v10.37h-3.61zM230.84 316.48h3.61v10.37h-3.61zM234.10 286.43h3.61v10.37h-3.61zM260.18 316.48h3.61v10.37h-3.61zM296.04 316.48h3.61v10.37h-3.61zM338.42 256.38h3.61v10.37h-3.61zM377.54 236.35h3.61v10.37h-3.61zM390.58 236.35h3.61v10.37h-3.61zM400.36 236.35h3.61v10.37h-3.61z"/>
<path fill="#f3c0ae" d="M168.90 256.38h3.61v10.37h-3.61zM172.16 226.33h3.61v10.37h-3.61zM175.42 256.38h3.61v10.37h-3.61zM178.68 236.35h3.61v10.37h-3.61zM178.68 246.37h3.61v10.37h-3.61zM178.68 256.38h3.61v10.37h-3.61zM185.20 276.42h3.61v10.37h-3.61zM188.46 296.45h3.61v10.37h-3.61zM191.72 286.43h3.61v10.37h-3.61zM201.50 286.43h3.61v10.37h-3.61zM208.02 306.47h3.61v10.37h-3.61zM214.54 296.45h3.61v10.37h-3.61zM224.32 276.42h3.61v10.37h-3.61zM234.10 296.45h3.61v10.37h-3.61zM240.62 316.48h3.61v10.37h-3.61zM315.60 226.33h3.61v10.37h-3.61zM331.90 256.38h3.61v10.37h-3.61zM335.16 256.38h3.61v10.37h-3.61zM341.68 256.38h3.61v10.37h-3.61z"/>
<path fill="#f0b7a5" d="M172.16 236.35h3.61v10.37h-3.61zM172.16 246.37h3.61v10.37h-3.61zM191.72 276.42h3.61v10.37h-3.61zM240.62 296.45h3.61v10.37h-3.61zM296.04 286.43h3.61v10.37h-3.61zM380.80 236.35h3.61v10.37h-3.61z"/>
<path fill="#f3b7a5" d="M172.16 256.38h3.61v10.37h-3.61zM201.50 276.42h3.61v10.37h-3.61zM208.02 286.43h3.61v10.37h-3.61zM221.06 296.45h3.61v10.37h-3.61zM247.14 296.45h3.61v10.37h-3.61zM247.14 306.47h3.61v10.37h-3.61zM266.70 216.32h3.61v10.37h-3.61zM377.54 246.37h3.61v10.37h-3.61zM384.06 246.37h3.61v10.37h-3.61zM397.10 246.37h3.61v10.37h-3.61z"/>
<path fill="#f6c9b7" d="M172.16 286.43h3.61v10.37h-3.61zM175.42 276.42h3.61v10.37h-3.61zM181.94 286.43h3.61v10.37h-3.61zM188.46 216.32h3.61v10.37h-3.61zM188.46 316.48h3.61v10.37h-3.61zM194.98 306.47h3.61v10.37h-3.61zM201.50 306.47h3.61v10.37h-3.61zM214.54 316.48h3.61v10.37h-3.61zM269.96 216.32h3.61v10.37h-3.61zM302.56 266.40h3.61v10.37h-3.61zM419.92 236.35h3.61v10.37h-3.61z"/>
<path fill="#f0b19f" d="M181.94 236.35h3.61v10.37h-3.61zM181.94 246.37h3.61v10.37h-3.61zM217.80 276.42h3.61v10.37h-3.61zM224.32 266.40h3.61v10.37h-3.61zM276.48 296.45h3.61v10.37h-3.61zM276.48 306.47h3.61v10.37h-3.61zM283.00 296.45h3.61v10.37h-3.61zM283.00 306.47h3.61v10.37h-3.61zM318.86 256.38h3.61v10.37h-3.61zM371.02 236.35h3.61v10.37h-3.61zM380.80 246.37h3.61v10.37h-3.61z"/>
<path fill="#f0b4a2" d="M181.94 256.38h3.61v10.37h-3.61zM188.46 276.42h3.61v10.37h-3.61zM221.06 286.43h3.61v10.37h-3.61zM227.58 306.47h3.61v10.37h-3.61zM230.84 306.47h3.61v10.37h-3.61zM247.14 286.43h3.61v10.37h-3.61zM263.44 216.32h3.61v10.37h-3.61zM283.00 316.48h3.61v10.37h-3.61zM312.34 226.33h3.61v10.37h-3.61zM387.32 246.37h3.61v10.37h-3.61z"/>
<path fill="#f3bda8" d="M181.94 266.40h3.61v10.37h-3.61zM400.36 246.37h3.61v10.37h-3.61z"/>
<path fill="#f3baa8" d="M185.20 226.33h3.61v10.37h-3.61zM185.20 266.40h3.61v10.37h-3.61zM211.28 216.32h3.61v10.37h-3.61zM211.28 296.45h3.61v10.37h-3.61zM214.54 286.43h3.61v10.37h-3.61zM237.36 316.48h3.61v10.37h-3.61zM240.62 306.47h3.61v10.37h-3.61zM247.14 316.48h3.61v10.37h-3.61zM260.18 216.32h3.61v10.37h-3.61zM260.18 296.45h3.61v10.37h-3.61zM260.18 306.47h3.61v10.37h-3.61zM296.04 296.45h3.61v10.37h-3.61zM296.04 306.47h3.61v10.37h-3.61zM325.38 226.33h3.61v10.37h-3.61zM384.06 236.35h3.61v10.37h-3.61zM390.58 246.37h3.61v10.37h-3.61zM397.10 236.35h3.61v10.37h-3.61z"/>
<path fill="#f0ae9c" d="M185.20 236.35h3.61v10.37h-3.61zM185.20 246.37h3.61v10.37h-3.61zM194.98 266.40h3.61v10.37h-3.61zM198.24 276.42h3.61v10.37h-3.61zM214.54 276.42h3.61v10.37h-3.61zM221.06 216.32h3.61v10.37h-3.61zM234.10 216.32h3.61v10.37h-3.61zM237.36 296.45h3.61v10.37h-3.61zM269.96 316.48h3.61v10.37h-3.61zM276.48 286.43h3.61v10.37h-3.61zM283.00 286.43h3.61v10.37h-3.61zM393.84 236.35h3.61v10.37h-3.61z"/>
<path fill="#f0b49f" d="M185.20 256.38h3.61v10.37h-3.61zM237.36 306.47h3.61v10.37h-3.61zM240.62 286.43h3.61v10.37h-3.61zM296.04 226.33h3.61v10.37h-3.61z"/>
<path fill="#f0ab96" d="M188.46 226.33h3.61v10.37h-3.61zM188.46 266.40h3.61v10.37h-3.61zM191.72 226.33h3.61v10.37h-3.61zM237.36 286.43h3.61v10.37h-3.61zM269.96 296.45h3.61v10.37h-3.61zM269.96 306.47h3.61v10.37h-3.61zM305.82 226.33h3.61v10.37h-3.61zM309.08 226.33h3.61v10.37h-3.61zM315.60 256.38h3.61v10.37h-3.61zM348.20 236.35h3.61v10.37h-3.61zM367.76 236.35h3.61v10.37h-3.61zM374.28 236.35h3.61v10.37h-3.61z"/>
<path fill="#ed9c87" d="M188.46 236.35h3.61v10.37h-3.61zM188.46 246.37h3.61v10.37h-3.61zM276.48 276.42h3.61v10.37h-3.61zM283.00 276.42h3.61v10.37h-3.61zM299.30 316.48h3.61v10.37h-3.61z"/>
<path fill="#eda28d" d="M188.46 256.38h3.61v10.37h-3.61zM191.72 256.38h3.61v10.37h-3.61zM194.98 256.38h3.61v10.37h-3.61zM198.24 266.40h3.61v10.37h-3.61zM204.76 226.33h3.61v10.37h-3.61zM217.80 266.40h3.61v10.37h-3.61zM227.58 216.32h3.61v10.37h-3.61zM247.14 276.42h3.61v10.37h-3.61zM279.74 296.45h3.61v10.37h-3.61zM279.74 306.47h3.61v10.37h-3.61zM292.78 226.33h3.61v10.37h-3.61zM344.94 236.35h3.61v10.37h-3.61zM348.20 246.37h3.61v10.37h-3.61z"/>
<path fill="#f3c3b4" d="M188.46 306.47h3.61v10.37h-3.61zM201.50 296.45h3.61v10.37h-3.61zM204.76 286.43h3.61v10.37h-3.61zM217.80 306.47h3.61v10.37h-3.61zM318.86 226.33h3.61v10.37h-3.61z"/>
<path fill="#ea9c87" d="M191.72 236.35h3.61v10.37h-3.61zM191.72 246.37h3.61v10.37h-3.61zM208.02 266.40h3.61v10.37h-3.61zM227.58 276.42h3.61v10.37h-3.61zM230.84 216.32h3.61v10.37h-3.61zM230.84 276.42h3.61v10.37h-3.61zM234.10 266.40h3.61v10.37h-3.61zM240.62 216.32h3.61v10.37h-3.61zM266.70 286.43h3.61v10.37h-3.61zM357.98 236.35h3.61v10.37h-3.61z"/>
<path fill="#f0ae99" d="M191.72 266.40h3.61v10.37h-3.61zM364.50 236.35h3.61v10.37h-3.61z"/>
<path fill="#eda896" d="M194.98 226.33h3.61v10.37h-3.61zM211.28 276.42h3.61v10.37h-3.61zM296.04 276.42h3.61v10.37h-3.61z"/>
<path fill="#ea9981" d="M194.98 236.35h3.61v10.37h-3.61zM194.98 246.37h3.61v10.37h-3.61zM198.24 226.33h3.61v10.37h-3.61zM201.50 256.38h3.61v10.37h-3.61zM292.78 276.42h3.61v10.37h-3.61z"/>
<path fill="#f3baa5" d="M194.98 276.42h3.61v10.37h-3.61zM198.24 286.43h3.61v10.37h-3.61zM387.32 236.35h3.61v10.37h-3.61z"/>
<path fill="#f3c0b1" d="M194.98 286.43h3.61v10.37h-3.61zM198.24 306.47h3.61v10.37h-3.61zM217.80 296.45h3.61v10.37h-3.61z"/>
<path fill="#e4816c" d="M198.24 236.35h3.61v10.37h-3.61zM198.24 246.37h3.61v10.37h-3.61zM328.64 246.37h3.61v10.37h-3.61z"/>
<path fill="#e79078" d="M198.24 256.38h3.61v10.37h-3.61zM273.22 286.43h3.61v10.37h-3.61z"/>
<path fill="#f3c6b7" d="M198.24 316.48h3.61v10.37h-3.61zM208.02 316.48h3.61v10.37h-3.61zM322.12 226.33h3.61v10.37h-3.61z"/>
<path fill="#ed9f8a" d="M201.50 226.33h3.61v10.37h-3.61zM214.54 266.40h3.61v10.37h-3.61zM243.88 286.43h3.61v10.37h-3.61zM253.66 316.48h3.61v10.37h-3.61zM266.70 296.45h3.61v10.37h-3.61zM266.70 306.47h3.61v10.37h-3.61zM279.74 286.43h3.61v10.37h-3.61zM283.00 226.33h3.61v10.37h-3.61z"/>
<path fill="#e78a72" d="M201.50 236.35h3.61v10.37h-3.61zM201.50 246.37h3.61v10.37h-3.61z"/>
<path fill="#f0ab99" d="M201.50 266.40h3.61v10.37h-3.61zM208.02 276.42h3.61v10.37h-3.61zM227.58 286.43h3.61v10.37h-3.61zM230.84 286.43h3.61v10.37h-3.61zM250.40 296.45h3.61v10.37h-3.61zM250.40 306.47h3.61v10.37h-3.61zM263.44 316.48h3.61v10.37h-3.61zM289.52 316.48h3.61v10.37h-3.61zM292.78 296.45h3.61v10.37h-3.61zM292.78 306.47h3.61v10.37h-3.61zM371.02 246.37h3.61v10.37h-3.61zM393.84 246.37h3.61v10.37h-3.61z"/>
<path fill="#e78a75" d="M204.76 236.35h3.61v10.37h-3.61zM204.76 246.37h3.61v10.37h-3.61zM240.62 266.40h3.61v10.37h-3.61zM279.74 226.33h3.61v10.37h-3.61zM279.74 276.42h3.61v10.37h-3.61zM305.82 256.38h3.61v10.37h-3.61zM309.08 256.38h3.61v10.37h-3.61z"/>
<path fill="#ea9984" d="M204.76 256.38h3.61v10.37h-3.61zM211.28 266.40h3.61v10.37h-3.61zM253.66 296.45h3.61v10.37h-3.61zM253.66 306.47h3.61v10.37h-3.61zM256.92 316.48h3.61v10.37h-3.61zM273.22 316.48h3.61v10.37h-3.61zM276.48 226.33h3.61v10.37h-3.61zM286.26 296.45h3.61v10.37h-3.61zM286.26 306.47h3.61v10.37h-3.61zM289.52 226.33h3.61v10.37h-3.61zM299.30 296.45h3.61v10.37h-3.61zM299.30 306.47h3.61v10.37h-3.61z"/>
<path fill="#f0b19c" d="M204.76 266.40h3.61v10.37h-3.61zM227.58 296.45h3.61v10.37h-3.61zM230.84 296.45h3.61v10.37h-3.61zM234.10 276.42h3.61v10.37h-3.61zM243.88 316.48h3.61v10.37h-3.61zM250.40 316.48h3.61v10.37h-3.61zM292.78 316.48h3.61v10.37h-3.61z"/>
<path fill="#e78772" d="M208.02 226.33h3.61v10.37h-3.61zM296.04 266.40h3.61v10.37h-3.61zM354.72 246.37h3.61v10.37h-3.61z"/>
<path fill="#de6954" d="M208.02 236.35h3.61v10.37h-3.61zM208.02 246.37h3.61v10.37h-3.61zM243.88 266.40h3.61v10.37h-3.61zM250.40 266.40h3.61v10.37h-3.61zM269.96 266.40h3.61v10.37h-3.61zM289.52 266.40h3.61v10.37h-3.61zM315.60 236.35h3.61v10.37h-3.61z"/>
<path fill="#e47e69" d="M208.02 256.38h3.61v10.37h-3.61zM217.80 256.38h3.61v10.37h-3.61zM237.36 266.40h3.61v10.37h-3.61zM269.96 226.33h3.61v10.37h-3.61zM286.26 276.42h3.61v10.37h-3.61z"/>
<path fill="#e48169" d="M211.28 226.33h3.61v10.37h-3.61zM260.18 266.40h3.61v10.37h-3.61zM299.30 276.42h3.61v10.37h-3.61z"/>
<path fill="#db5d48" d="M211.28 236.35h3.61v10.37h-3.61zM211.28 246.37h3.61v10.37h-3.61z"/>
<path fill="#e47860" d="M211.28 256.38h3.61v10.37h-3.61zM234.10 226.33h3.61v10.37h-3.61zM331.90 246.37h3.61v10.37h-3.61z"/>
<path fill="#f0b7a2" d="M211.28 286.43h3.61v10.37h-3.61zM260.18 286.43h3.61v10.37h-3.61zM276.48 316.48h3.61v10.37h-3.61zM322.12 256.38h3.61v10.37h-3.61z"/>
<path fill="#e7846f" d="M214.54 226.33h3.61v10.37h-3.61zM230.84 266.40h3.61v10.37h-3.61zM256.92 216.32h3.61v10.37h-3.61zM286.26 226.33h3.61v10.37h-3.61zM302.56 256.38h3.61v10.37h-3.61zM338.42 236.35h3.61v10.37h-3.61zM341.68 236.35h3.61v10.37h-3.61z"/>
<path fill="#de604e" d="M214.54 236.35h3.61v10.37h-3.61zM263.44 266.40h3.61v10.37h-3.61z"/>
<path fill="#de634e" d="M214.54 246.37h3.61v10.37h-3.61zM266.70 226.33h3.61v10.37h-3.61z"/>
<path fill="#e47b66" d="M214.54 256.38h3.61v10.37h-3.61zM253.66 276.42h3.61v10.37h-3.61z"/>
<path fill="#e7876f" d="M217.80 226.33h3.61v10.37h-3.61zM227.58 266.40h3.61v10.37h-3.61zM247.14 216.32h3.61v10.37h-3.61zM331.90 236.35h3.61v10.37h-3.61zM335.16 236.35h3.61v10.37h-3.61z"/>
<path fill="#de6351" d="M217.80 236.35h3.61v10.37h-3.61z"/>
<path fill="#de6651" d="M217.80 246.37h3.61v10.37h-3.61zM221.06 256.38h3.61v10.37h-3.61zM263.44 226.33h3.61v10.37h-3.61zM273.22 226.33h3.61v10.37h-3.61zM322.12 246.37h3.61v10.37h-3.61z"/>
<path fill="#e16f5a" d="M221.06 226.33h3.61v10.37h-3.61zM292.78 266.40h3.61v10.37h-3.61z"/>
<path fill="#d54539" d="M221.06 236.35h3.61v10.37h-3.61zM253.66 266.40h3.61v10.37h-3.61z"/>
<path fill="#d54b3c" d="M221.06 246.37h3.61v10.37h-3.61zM230.84 256.38h3.61v10.37h-3.61zM237.36 256.38h3.61v10.37h-3.61zM286.26 266.40h3.61v10.37h-3.61zM296.04 256.38h3.61v10.37h-3.61zM299.30 266.40h3.61v10.37h-3.61z"/>
<path fill="#ea937e" d="M221.06 266.40h3.61v10.37h-3.61zM237.36 216.32h3.61v10.37h-3.61zM273.22 296.45h3.61v10.37h-3.61zM273.22 306.47h3.61v10.37h-3.61zM286.26 286.43h3.61v10.37h-3.61zM299.30 286.43h3.61v10.37h-3.61zM357.98 246.37h3.61v10.37h-3.61z"/>
<path fill="#eda590" d="M221.06 276.42h3.61v10.37h-3.61zM240.62 276.42h3.61v10.37h-3.61zM263.44 286.43h3.61v10.37h-3.61zM266.70 316.48h3.61v10.37h-3.61zM289.52 286.43h3.61v10.37h-3.61zM361.24 236.35h3.61v10.37h-3.61zM374.28 246.37h3.61v10.37h-3.61z"/>
<path fill="#c3302d" d="M224.32 206.30h3.61v10.37h-3.61zM224.32 236.35h3.61v10.37h-3.61zM227.58 236.35h3.61v10.37h-3.61zM237.36 246.37h3.61v10.37h-3.61zM250.40 226.33h3.61v10.37h-3.61z"/>
<path fill="#a81e27" d="M224.32 216.32h3.61v10.37h-3.61zM276.48 236.35h3.61v10.37h-3.61zM276.48 246.37h3.61v10.37h-3.61zM279.74 256.38h3.61v10.37h-3.61zM283.00 236.35h3.61v10.37h-3.61z"/>
<path fill="#b7272a" d="M224.32 226.33h3.61v10.37h-3.61z"/>
<path fill="#d23f33" d="M224.32 246.37h3.61v10.37h-3.61zM243.88 206.30h3.61v10.37h-3.61zM273.22 266.40h3.61v10.37h-3.61z"/>
<path fill="#d85445" d="M224.32 256.38h3.61v10.37h-3.61zM230.84 226.33h3.61v10.37h-3.61zM234.10 236.35h3.61v10.37h-3.61z"/>
<path fill="#db5748" d="M227.58 226.33h3.61v10.37h-3.61z"/>
<path fill="#c93630" d="M227.58 246.37h3.61v10.37h-3.61zM276.48 256.38h3.61v10.37h-3.61zM283.00 256.38h3.61v10.37h-3.61zM312.34 246.37h3.61v10.37h-3.61z"/>
<path fill="#d84e3f" d="M227.58 256.38h3.61v10.37h-3.61zM237.36 226.33h3.61v10.37h-3.61zM312.34 236.35h3.61v10.37h-3.61z"/>
<path fill="#c02d2d" d="M230.84 236.35h3.61v10.37h-3.61zM237.36 236.35h3.61v10.37h-3.61zM292.78 256.38h3.61v10.37h-3.61zM296.04 236.35h3.61v10.37h-3.61z"/>
<path fill="#c6332d" d="M230.84 246.37h3.61v10.37h-3.61zM302.56 236.35h3.61v10.37h-3.61z"/>
<path fill="#db5a48" d="M234.10 246.37h3.61v10.37h-3.61zM240.62 256.38h3.61v10.37h-3.61zM325.38 236.35h3.61v10.37h-3.61z"/>
<path fill="#e1725d" d="M234.10 256.38h3.61v10.37h-3.61zM318.86 236.35h3.61v10.37h-3.61z"/>
<path fill="#ea9c84" d="M237.36 276.42h3.61v10.37h-3.61zM312.34 256.38h3.61v10.37h-3.61zM351.46 236.35h3.61v10.37h-3.61z"/>
<path fill="#db5d4b" d="M240.62 226.33h3.61v10.37h-3.61zM279.74 266.40h3.61v10.37h-3.61zM318.86 246.37h3.61v10.37h-3.61z"/>
<path fill="#cf3c30" d="M240.62 236.35h3.61v10.37h-3.61z"/>
<path fill="#d23c33" d="M240.62 246.37h3.61v10.37h-3.61zM256.92 266.40h3.61v10.37h-3.61z"/>
<path fill="#871821" d="M243.88 216.32h3.61v10.37h-3.61zM243.88 226.33h3.61v10.37h-3.61zM243.88 236.35h3.61v10.37h-3.61zM243.88 246.37h3.61v10.37h-3.61zM263.44 236.35h3.61v10.37h-3.61zM263.44 246.37h3.61v10.37h-3.61zM289.52 236.35h3.61v10.37h-3.61z"/>
<path fill="#c63330" d="M243.88 256.38h3.61v10.37h-3.61z"/>
<path fill="#e78d78" d="M243.88 276.42h3.61v10.37h-3.61zM263.44 276.42h3.61v10.37h-3.61zM328.64 236.35h3.61v10.37h-3.61z"/>
<path fill="#eda290" d="M243.88 296.45h3.61v10.37h-3.61zM260.18 276.42h3.61v10.37h-3.61zM367.76 246.37h3.61v10.37h-3.61z"/>
<path fill="#eda893" d="M243.88 306.47h3.61v10.37h-3.61zM250.40 286.43h3.61v10.37h-3.61zM263.44 296.45h3.61v10.37h-3.61zM263.44 306.47h3.61v10.37h-3.61zM269.96 286.43h3.61v10.37h-3.61zM279.74 316.48h3.61v10.37h-3.61zM289.52 296.45h3.61v10.37h-3.61zM289.52 306.47h3.61v10.37h-3.61zM292.78 286.43h3.61v10.37h-3.61zM302.56 226.33h3.61v10.37h-3.61zM325.38 256.38h3.61v10.37h-3.61zM364.50 246.37h3.61v10.37h-3.61z"/>
<path fill="#cc3930" d="M247.14 226.33h3.61v10.37h-3.61zM305.82 236.35h3.61v10.37h-3.61zM309.08 236.35h3.61v10.37h-3.61z"/>
<path fill="#b7242a" d="M247.14 236.35h3.61v10.37h-3.61zM263.44 256.38h3.61v10.37h-3.61z"/>
<path fill="#ba2a2a" d="M247.14 246.37h3.61v10.37h-3.61zM256.92 226.33h3.61v10.37h-3.61zM269.96 256.38h3.61v10.37h-3.61z"/>
<path fill="#d24233" d="M247.14 256.38h3.61v10.37h-3.61z"/>
<path fill="#e47e66" d="M247.14 266.40h3.61v10.37h-3.61z"/>
<path fill="#60121b" d="M250.40 206.30h3.61v10.37h-3.61zM250.40 216.32h3.61v10.37h-3.61zM253.66 236.35h3.61v10.37h-3.61zM253.66 246.37h3.61v10.37h-3.61zM256.92 236.35h3.61v10.37h-3.61zM256.92 246.37h3.61v10.37h-3.61zM273.22 236.35h3.61v10.37h-3.61zM273.22 246.37h3.61v10.37h-3.61zM286.26 236.35h3.61v10.37h-3.61zM286.26 246.37h3.61v10.37h-3.61zM299.30 236.35h3.61v10.37h-3.61zM299.30 246.37h3.61v10.37h-3.61z"/>
<path fill="#901b24" d="M250.40 236.35h3.61v10.37h-3.61zM253.66 256.38h3.61v10.37h-3.61zM269.96 236.35h3.61v10.37h-3.61zM269.96 246.37h3.61v10.37h-3.61zM292.78 246.37h3.61v10.37h-3.61z"/>
<path fill="#961b24" d="M250.40 246.37h3.61v10.37h-3.61zM292.78 236.35h3.61v10.37h-3.61z"/>
<path fill="#bd2d2d" d="M250.40 256.38h3.61v10.37h-3.61z"/>
<path fill="#ea937b" d="M250.40 276.42h3.61v10.37h-3.61zM269.96 276.42h3.61v10.37h-3.61zM289.52 276.42h3.61v10.37h-3.61zM354.72 236.35h3.61v10.37h-3.61z"/>
<path fill="#e47863" d="M253.66 216.32h3.61v10.37h-3.61zM276.48 266.40h3.61v10.37h-3.61zM283.00 266.40h3.61v10.37h-3.61zM322.12 236.35h3.61v10.37h-3.61zM335.16 246.37h3.61v10.37h-3.61z"/>
<path fill="#b12127" d="M253.66 226.33h3.61v10.37h-3.61zM305.82 246.37h3.61v10.37h-3.61z"/>
<path fill="#ea9681" d="M253.66 286.43h3.61v10.37h-3.61zM344.94 246.37h3.61v10.37h-3.61z"/>
<path fill="#811821" d="M256.92 256.38h3.61v10.37h-3.61z"/>
<path fill="#e17560" d="M256.92 276.42h3.61v10.37h-3.61zM273.22 276.42h3.61v10.37h-3.61zM338.42 246.37h3.61v10.37h-3.61zM341.68 246.37h3.61v10.37h-3.61z"/>
<path fill="#ea907b" d="M256.92 286.43h3.61v10.37h-3.61zM299.30 226.33h3.61v10.37h-3.61zM351.46 246.37h3.61v10.37h-3.61z"/>
<path fill="#ea967e" d="M256.92 296.45h3.61v10.37h-3.61zM256.92 306.47h3.61v10.37h-3.61z"/>
<path fill="#e47b63" d="M260.18 226.33h3.61v10.37h-3.61z"/>
<path fill="#bd2a2a" d="M260.18 236.35h3.61v10.37h-3.61zM296.04 246.37h3.61v10.37h-3.61z"/>
<path fill="#bd2a2d" d="M260.18 246.37h3.61v10.37h-3.61z"/>
<path fill="#d54536" d="M260.18 256.38h3.61v10.37h-3.61zM325.38 246.37h3.61v10.37h-3.61z"/>
<path fill="#6c151e" d="M266.70 236.35h3.61v10.37h-3.61zM266.70 246.37h3.61v10.37h-3.61z"/>
<path fill="#9f1e27" d="M266.70 256.38h3.61v10.37h-3.61z"/>
<path fill="#d85442" d="M266.70 266.40h3.61v10.37h-3.61z"/>
<path fill="#e7846c" d="M266.70 276.42h3.61v10.37h-3.61z"/>
<path fill="#7b1521" d="M273.22 256.38h3.61v10.37h-3.61z"/>
<path fill="#75151e" d="M279.74 236.35h3.61v10.37h-3.61z"/>
<path fill="#72151e" d="M279.74 246.37h3.61v10.37h-3.61z"/>
<path fill="#a51e27" d="M283.00 246.37h3.61v10.37h-3.61zM302.56 246.37h3.61v10.37h-3.61z"/>
<path fill="#8d1824" d="M286.26 256.38h3.61v10.37h-3.61z"/>
<path fill="#ed9f87" d="M286.26 316.48h3.61v10.37h-3.61zM361.24 246.37h3.61v10.37h-3.61z"/>
<path fill="#841821" d="M289.52 246.37h3.61v10.37h-3.61z"/>
<path fill="#ba272a" d="M289.52 256.38h3.61v10.37h-3.61z"/>
<path fill="#931b24" d="M299.30 256.38h3.61v10.37h-3.61z"/>
<path fill="#b42127" d="M309.08 246.37h3.61v10.37h-3.61z"/>
<path fill="#d8513f" d="M315.60 246.37h3.61v10.37h-3.61z"/>
<path fill="#f9e1d2" d="M328.64 316.48h3.61v10.37h-3.61z"/>
<path fill="#f6cfc3" d="M439.48 236.35h3.61v10.37h-3.61z"/>
<path fill="#fcf0ed" d="M631.82 266.40h3.61v10.37h-3.61zM631.82 276.42h3.61v10.37h-3.61zM631.82 286.43h3.61v10.37h-3.61zM631.82 296.45h3.61v10.37h-3.61zM631.82 306.47h3.61v10.37h-3.61zM631.82 316.48h3.61v10.37h-3.61zM635.08 266.40h3.61v10.37h-3.61zM635.08 276.42h3.61v10.37h-3.61zM635.08 286.43h3.61v10.37h-3.61zM635.08 296.45h3.61v10.37h-3.61zM635.08 306.47h3.61v10.37h-3.61zM635.08 316.48h3.61v10.37h-3.61zM638.34 266.40h3.61v10.37h-3.61zM638.34 276.42h3.61v10.37h-3.61zM638.34 286.43h3.61v10.37h-3.61zM638.34 296.45h3.61v10.37h-3.61zM638.34 306.47h3.61v10.37h-3.61zM638.34 316.48h3.61v10.37h-3.61zM641.60 266.40h3.61v10.37h-3.61zM641.60 276.42h3.61v10.37h-3.61zM641.60 286.43h3.61v10.37h-3.61zM641.60 296.45h3.61v10.37h-3.61zM641.60 306.47h3.61v10.37h-3.61zM641.60 316.48h3.61v10.37h-3.61zM644.86 266.40h0.49v10.37h-0.49zM644.86 276.42h0.49v10.37h-0.49zM644.86 286.43h0.49v10.37h-0.49zM644.86 296.45h0.49v10.37h-0.49zM644.86 306.47h0.49v10.37h-0.49zM644.86 316.48h0.49v10.37h-0.49z"/>
<path fill="#f3c0c0" d="M38.50 358.80h3.61v10.40h-3.61zM45.02 358.80h3.61v10.40h-3.61zM64.58 358.80h3.61v10.40h-3.61zM582.92 358.80h3.61v10.40h-3.61zM586.18 449.25h3.61v10.40h-3.61zM595.96 419.10h3.61v10.40h-3.61zM602.48 358.80h3.61v10.40h-3.61zM609.00 358.80h3.61v10.40h-3.61zM615.52 429.15h3.61v10.40h-3.61zM615.52 439.20h3.61v10.40h-3.61z"/>
<path fill="#f3c6c6" d="M38.50 368.85h3.61v10.40h-3.61zM45.02 368.85h3.61v10.40h-3.61zM54.80 378.90h3.61v10.40h-3.61zM58.06 378.90h3.61v10.40h-3.61zM64.58 368.85h3.61v10.40h-3.61zM67.84 378.90h3.61v10.40h-3.61zM80.88 378.90h3.61v10.40h-3.61zM87.40 378.90h3.61v10.40h-3.61zM113.48 368.85h3.61v10.40h-3.61zM139.56 368.85h3.61v10.40h-3.61zM142.82 368.85h3.61v10.40h-3.61zM159.12 358.80h3.61v10.40h-3.61zM550.32 429.15h3.61v10.40h-3.61zM550.32 439.20h3.61v10.40h-3.61zM589.44 358.80h3.61v10.40h-3.61zM592.70 429.15h3.61v10.40h-3.61zM592.70 439.20h3.61v10.40h-3.61zM599.22 419.10h3.61v10.40h-3.61zM602.48 429.15h3.61v10.40h-3.61zM602.48 439.20h3.61v10.40h-3.61zM605.74 358.80h3.61v10.40h-3.61zM609.00 429.15h3.61v10.40h-3.61zM609.00 439.20h3.61v10.40h-3.61zM615.52 449.25h3.61v10.40h-3.61zM631.82 358.80h3.61v10.40h-3.61zM638.34 358.80h3.61v10.40h-3.61z"/>
<path fill="#f6d5d5" d="M38.50 378.90h3.61v10.40h-3.61zM41.76 419.10h3.61v10.40h-3.61zM45.02 378.90h3.61v10.40h-3.61zM48.28 419.10h3.61v10.40h-3.61zM51.54 459.30h3.61v10.40h-3.61zM64.58 378.90h3.61v10.40h-3.61zM71.10 419.10h3.61v10.40h-3.61zM74.36 419.10h3.61v10.40h-3.61zM77.62 459.30h3.61v10.40h-3.61zM93.92 358.80h3.61v10.40h-3.61zM100.44 358.80h3.61v10.40h-3.61zM106.96 358.80h3.61v10.40h-3.61zM113.48 378.90h3.61v10.40h-3.61zM139.56 378.90h3.61v10.40h-3.61zM540.54 419.10h3.61v10.40h-3.61zM540.54 449.25h3.61v10.40h-3.61zM547.06 429.15h3.61v10.40h-3.61zM547.06 439.20h3.61v10.40h-3.61zM553.58 358.80h3.61v10.40h-3.61zM560.10 459.30h3.61v10.40h-3.61zM573.14 419.10h3.61v10.40h-3.61zM573.14 449.25h3.61v10.40h-3.61zM576.40 459.30h3.61v10.40h-3.61zM586.18 368.85h3.61v10.40h-3.61zM589.44 419.10h3.61v10.40h-3.61zM589.44 449.25h3.61v10.40h-3.61zM605.74 419.10h3.61v10.40h-3.61zM605.74 429.15h3.61v10.40h-3.61zM605.74 439.20h3.61v10.40h-3.61zM612.26 419.10h3.61v10.40h-3.61zM612.26 429.15h3.61v10.40h-3.61zM612.26 439.20h3.61v10.40h-3.61zM625.30 358.80h3.61v10.40h-3.61zM631.82 449.25h3.61v10.40h-3.61z"/>
<path fill="#f9eded" d="M38.50 388.95h3.61v10.40h-3.61zM38.50 409.05h3.61v10.40h-3.61zM45.02 388.95h3.61v10.40h-3.61zM45.02 409.05h3.61v10.40h-3.61zM54.80 469.35h3.61v10.40h-3.61zM58.06 469.35h3.61v10.40h-3.61zM61.32 469.35h3.61v10.40h-3.61zM64.58 388.95h3.61v10.40h-3.61zM64.58 409.05h3.61v10.40h-3.61zM67.84 469.35h3.61v10.40h-3.61zM74.36 469.35h3.61v10.40h-3.61zM80.88 469.35h3.61v10.40h-3.61zM90.66 388.95h3.61v10.40h-3.61zM159.12 388.95h3.61v10.40h-3.61zM504.68 429.15h3.61v10.40h-3.61zM511.20 459.30h3.61v10.40h-3.61zM514.46 419.10h3.61v10.40h-3.61zM517.72 449.25h3.61v10.40h-3.61zM527.50 419.10h3.61v10.40h-3.61zM530.76 459.30h3.61v10.40h-3.61zM534.02 459.30h3.61v10.40h-3.61zM537.28 429.15h3.61v10.40h-3.61zM537.28 439.20h3.61v10.40h-3.61zM579.66 409.05h3.61v10.40h-3.61zM582.92 409.05h3.61v10.40h-3.61zM592.70 409.05h3.61v10.40h-3.61zM602.48 409.05h3.61v10.40h-3.61zM609.00 409.05h3.61v10.40h-3.61zM625.30 419.10h3.61v10.40h-3.61zM625.30 429.15h3.61v10.40h-3.61zM625.30 439.20h3.61v10.40h-3.61zM628.56 368.85h3.61v10.40h-3.61zM631.82 368.85h3.61v10.40h-3.61zM635.08 368.85h3.61v10.40h-3.61z"/>
<path fill="#fcf3f3" d="M38.50 399.00h3.61v10.40h-3.61zM41.76 399.00h3.61v10.40h-3.61zM45.02 399.00h3.61v10.40h-3.61zM48.28 399.00h3.61v10.40h-3.61zM51.54 399.00h3.61v10.40h-3.61zM64.58 399.00h3.61v10.40h-3.61zM71.10 399.00h3.61v10.40h-3.61zM74.36 399.00h3.61v10.40h-3.61zM77.62 399.00h3.61v10.40h-3.61zM504.68 419.10h3.61v10.40h-3.61zM507.94 419.10h3.61v10.40h-3.61zM507.94 459.30h3.61v10.40h-3.61zM520.98 358.80h3.61v10.40h-3.61zM537.28 459.30h3.61v10.40h-3.61zM540.54 409.05h3.61v10.40h-3.61zM543.80 409.05h3.61v10.40h-3.61zM547.06 409.05h3.61v10.40h-3.61zM553.58 409.05h3.61v10.40h-3.61zM553.58 469.35h3.61v10.40h-3.61zM556.84 469.35h3.61v10.40h-3.61zM560.10 469.35h3.61v10.40h-3.61zM563.36 469.35h3.61v10.40h-3.61zM566.62 469.35h3.61v10.40h-3.61zM569.88 459.30h3.61v10.40h-3.61zM569.88 469.35h3.61v10.40h-3.61zM573.14 378.90h3.61v10.40h-3.61zM573.14 469.35h3.61v10.40h-3.61zM576.40 378.90h3.61v10.40h-3.61zM576.40 469.35h3.61v10.40h-3.61zM579.66 378.90h3.61v10.40h-3.61zM579.66 469.35h3.61v10.40h-3.61zM582.92 469.35h3.61v10.40h-3.61zM586.18 469.35h3.61v10.40h-3.61zM589.44 469.35h3.61v10.40h-3.61zM592.70 469.35h3.61v10.40h-3.61zM595.96 469.35h3.61v10.40h-3.61zM599.22 469.35h3.61v10.40h-3.61zM602.48 469.35h3.61v10.40h-3.61zM605.74 469.35h3.61v10.40h-3.61zM609.00 469.35h3.61v10.40h-3.61zM612.26 469.35h3.61v10.40h-3.61zM615.52 469.35h3.61v10.40h-3.61zM622.04 409.05h3.61v10.40h-3.61zM625.30 459.30h3.61v10.40h-3.61zM628.56 409.05h3.61v10.40h-3.61zM641.60 368.85h3.61v10.40h-3.61zM641.60 409.05h3.61v10.40h-3.61zM644.86 368.85h0.49v10.40h-0.49zM644.86 409.05h0.49v10.40h-0.49z"/>
<path fill="#f6dede" d="M38.50 419.10h3.61v10.40h-3.61zM45.02 419.10h3.61v10.40h-3.61zM64.58 419.10h3.61v10.40h-3.61zM198.24 378.90h3.61v10.40h-3.61zM553.58 419.10h3.61v10.40h-3.61zM553.58 449.25h3.61v10.40h-3.61zM589.44 368.85h3.61v10.40h-3.61zM599.22 368.85h3.61v10.40h-3.61zM599.22 459.30h3.61v10.40h-3.61zM622.04 449.25h3.61v10.40h-3.61zM628.56 449.25h3.61v10.40h-3.61z"/>
<path fill="#f6d8d8" d="M38.50 429.15h3.61v10.40h-3.61zM38.50 439.20h3.61v10.40h-3.61zM38.50 449.25h3.61v10.40h-3.61zM45.02 429.15h3.61v10.40h-3.61zM45.02 439.20h3.61v10.40h-3.61zM45.02 449.25h3.61v10.40h-3.61zM51.54 419.10h3.61v10.40h-3.61zM64.58 429.15h3.61v10.40h-3.61zM64.58 439.20h3.61v10.40h-3.61zM64.58 449.25h3.61v10.40h-3.61zM77.62 419.10h3.61v10.40h-3.61zM142.82 378.90h3.61v10.40h-3.61zM543.80 358.80h3.61v10.40h-3.61zM543.80 419.10h3.61v10.40h-3.61zM543.80 449.25h3.61v10.40h-3.61zM547.06 358.80h3.61v10.40h-3.61zM563.36 459.30h3.61v10.40h-3.61zM573.14 368.85h3.61v10.40h-3.61zM579.66 368.85h3.61v10.40h-3.61zM582.92 368.85h3.61v10.40h-3.61zM605.74 449.25h3.61v10.40h-3.61zM612.26 449.25h3.61v10.40h-3.61zM628.56 429.15h3.61v10.40h-3.61zM628.56 439.20h3.61v10.40h-3.61z"/>
<path fill="#f6dbdb" d="M38.50 459.30h3.61v10.40h-3.61zM45.02 459.30h3.61v10.40h-3.61zM64.58 459.30h3.61v10.40h-3.61zM93.92 368.85h3.61v10.40h-3.61zM100.44 368.85h3.61v10.40h-3.61zM106.96 368.85h3.61v10.40h-3.61zM198.24 358.80h3.61v10.40h-3.61zM198.24 368.85h3.61v10.40h-3.61zM540.54 358.80h3.61v10.40h-3.61zM547.06 419.10h3.61v10.40h-3.61zM547.06 449.25h3.61v10.40h-3.61zM553.58 429.15h3.61v10.40h-3.61zM553.58 439.20h3.61v10.40h-3.61zM563.36 368.85h3.61v10.40h-3.61zM586.18 459.30h3.61v10.40h-3.61zM592.70 368.85h3.61v10.40h-3.61zM595.96 368.85h3.61v10.40h-3.61zM595.96 459.30h3.61v10.40h-3.61zM615.52 459.30h3.61v10.40h-3.61zM622.04 419.10h3.61v10.40h-3.61zM622.04 429.15h3.61v10.40h-3.61zM622.04 439.20h3.61v10.40h-3.61zM628.56 419.10h3.61v10.40h-3.61z"/>
<path fill="#fcf0f0" d="M38.50 469.35h3.61v10.40h-3.61zM45.02 469.35h3.61v10.40h-3.61zM51.54 469.35h3.61v10.40h-3.61zM54.80 399.00h3.61v10.40h-3.61zM58.06 399.00h3.61v10.40h-3.61zM61.32 399.00h3.61v10.40h-3.61zM64.58 469.35h3.61v10.40h-3.61zM67.84 399.00h3.61v10.40h-3.61zM77.62 469.35h3.61v10.40h-3.61zM80.88 399.00h3.61v10.40h-3.61zM93.92 388.95h3.61v10.40h-3.61zM100.44 388.95h3.61v10.40h-3.61zM106.96 388.95h3.61v10.40h-3.61zM504.68 459.30h3.61v10.40h-3.61zM507.94 429.15h3.61v10.40h-3.61zM507.94 439.20h3.61v10.40h-3.61zM507.94 449.25h3.61v10.40h-3.61zM514.46 459.30h3.61v10.40h-3.61zM517.72 459.30h3.61v10.40h-3.61zM520.98 459.30h3.61v10.40h-3.61zM524.24 358.80h3.61v10.40h-3.61zM527.50 459.30h3.61v10.40h-3.61zM537.28 419.10h3.61v10.40h-3.61zM537.28 449.25h3.61v10.40h-3.61zM550.32 409.05h3.61v10.40h-3.61zM553.58 368.85h3.61v10.40h-3.61zM556.84 409.05h3.61v10.40h-3.61zM566.62 459.30h3.61v10.40h-3.61zM573.14 409.05h3.61v10.40h-3.61zM589.44 409.05h3.61v10.40h-3.61zM605.74 409.05h3.61v10.40h-3.61zM612.26 409.05h3.61v10.40h-3.61zM631.82 409.05h3.61v10.40h-3.61zM638.34 368.85h3.61v10.40h-3.61zM638.34 409.05h3.61v10.40h-3.61z"/>
<path fill="#f0b4b4" d="M41.76 358.80h3.61v10.40h-3.61zM54.80 368.85h3.61v10.40h-3.61zM58.06 368.85h3.61v10.40h-3.61zM61.32 368.85h3.61v10.40h-3.61zM67.84 368.85h3.61v10.40h-3.61zM80.88 368.85h3.61v10.40h-3.61zM84.14 358.80h3.61v10.40h-3.61zM123.26 368.85h3.61v10.40h-3.61zM126.52 358.80h3.61v10.40h-3.61zM129.78 358.80h3.61v10.40h-3.61zM136.30 368.85h3.61v10.40h-3.61zM560.10 429.15h3.61v10.40h-3.61zM560.10 439.20h3.61v10.40h-3.61z"/>
<path fill="#f0baba" d="M41.76 368.85h3.61v10.40h-3.61zM110.22 368.85h3.61v10.40h-3.61zM139.56 358.80h3.61v10.40h-3.61zM142.82 358.80h3.61v10.40h-3.61zM560.10 419.10h3.61v10.40h-3.61zM560.10 449.25h3.61v10.40h-3.61zM563.36 429.15h3.61v10.40h-3.61zM563.36 439.20h3.61v10.40h-3.61zM618.78 358.80h3.61v10.40h-3.61zM618.78 419.10h3.61v10.40h-3.61z"/>
<path fill="#f3cccc" d="M41.76 378.90h3.61v10.40h-3.61zM48.28 429.15h3.61v10.40h-3.61zM48.28 439.20h3.61v10.40h-3.61zM48.28 449.25h3.61v10.40h-3.61zM51.54 378.90h3.61v10.40h-3.61zM61.32 429.15h3.61v10.40h-3.61zM61.32 439.20h3.61v10.40h-3.61zM61.32 449.25h3.61v10.40h-3.61zM67.84 429.15h3.61v10.40h-3.61zM67.84 439.20h3.61v10.40h-3.61zM67.84 449.25h3.61v10.40h-3.61zM71.10 429.15h3.61v10.40h-3.61zM71.10 439.20h3.61v10.40h-3.61zM71.10 449.25h3.61v10.40h-3.61zM74.36 429.15h3.61v10.40h-3.61zM74.36 439.20h3.61v10.40h-3.61zM74.36 449.25h3.61v10.40h-3.61zM77.62 378.90h3.61v10.40h-3.61zM90.66 358.80h3.61v10.40h-3.61zM97.18 378.90h3.61v10.40h-3.61zM120.00 378.90h3.61v10.40h-3.61zM123.26 378.90h3.61v10.40h-3.61zM146.08 358.80h3.61v10.40h-3.61zM335.16 368.85h3.61v10.40h-3.61zM410.14 368.85h3.61v10.40h-3.61zM413.40 368.85h3.61v10.40h-3.61zM419.92 388.95h3.61v10.40h-3.61zM419.92 399.00h3.61v10.40h-3.61zM550.32 419.10h3.61v10.40h-3.61zM550.32 449.25h3.61v10.40h-3.61zM556.84 358.80h3.61v10.40h-3.61zM579.66 419.10h3.61v10.40h-3.61zM579.66 449.25h3.61v10.40h-3.61zM582.92 449.25h3.61v10.40h-3.61zM609.00 449.25h3.61v10.40h-3.61zM622.04 358.80h3.61v10.40h-3.61zM628.56 358.80h3.61v10.40h-3.61zM635.08 419.10h3.61v10.40h-3.61zM635.08 429.15h3.61v10.40h-3.61zM635.08 439.20h3.61v10.40h-3.61z"/>
<path fill="#f9eaea" d="M41.76 388.95h3.61v10.40h-3.61zM41.76 409.05h3.61v10.40h-3.61zM48.28 388.95h3.61v10.40h-3.61zM48.28 409.05h3.61v10.40h-3.61zM51.54 388.95h3.61v10.40h-3.61zM51.54 409.05h3.61v10.40h-3.61zM61.32 388.95h3.61v10.40h-3.61zM61.32 409.05h3.61v10.40h-3.61zM67.84 388.95h3.61v10.40h-3.61zM67.84 409.05h3.61v10.40h-3.61zM71.10 388.95h3.61v10.40h-3.61zM71.10 409.05h3.61v10.40h-3.61zM74.36 388.95h3.61v10.40h-3.61zM74.36 409.05h3.61v10.40h-3.61zM77.62 388.95h3.61v10.40h-3.61zM77.62 409.05h3.61v10.40h-3.61zM504.68 439.20h3.61v10.40h-3.61zM504.68 449.25h3.61v10.40h-3.61zM511.20 419.10h3.61v10.40h-3.61zM514.46 429.15h3.61v10.40h-3.61zM514.46 439.20h3.61v10.40h-3.61zM514.46 449.25h3.61v10.40h-3.61zM517.72 429.15h3.61v10.40h-3.61zM517.72 439.20h3.61v10.40h-3.61zM520.98 419.10h3.61v10.40h-3.61zM520.98 449.25h3.61v10.40h-3.61zM524.24 459.30h3.61v10.40h-3.61zM527.50 429.15h3.61v10.40h-3.61zM527.50 439.20h3.61v10.40h-3.61zM527.50 449.25h3.61v10.40h-3.61zM530.76 358.80h3.61v10.40h-3.61zM553.58 459.30h3.61v10.40h-3.61zM556.84 368.85h3.61v10.40h-3.61zM563.36 409.05h3.61v10.40h-3.61zM566.62 419.10h3.61v10.40h-3.61zM566.62 449.25h3.61v10.40h-3.61zM569.88 419.10h3.61v10.40h-3.61zM569.88 449.25h3.61v10.40h-3.61zM586.18 409.05h3.61v10.40h-3.61zM595.96 409.05h3.61v10.40h-3.61zM599.22 409.05h3.61v10.40h-3.61zM615.52 409.05h3.61v10.40h-3.61zM622.04 368.85h3.61v10.40h-3.61zM622.04 459.30h3.61v10.40h-3.61zM641.60 459.30h3.61v10.40h-3.61zM644.86 459.30h0.49v10.40h-0.49z"/>
<path fill="#f3cfcf" d="M41.76 429.15h3.61v10.40h-3.61zM41.76 439.20h3.61v10.40h-3.61zM41.76 449.25h3.61v10.40h-3.61zM54.80 459.30h3.61v10.40h-3.61zM58.06 459.30h3.61v10.40h-3.61zM61.32 459.30h3.61v10.40h-3.61zM67.84 459.30h3.61v10.40h-3.61zM80.88 459.30h3.61v10.40h-3.61zM103.70 378.90h3.61v10.40h-3.61zM110.22 378.90h3.61v10.40h-3.61zM152.60 378.90h3.61v10.40h-3.61zM550.32 358.80h3.61v10.40h-3.61zM556.84 429.15h3.61v10.40h-3.61zM556.84 439.20h3.61v10.40h-3.61zM566.62 358.80h3.61v10.40h-3.61zM569.88 358.80h3.61v10.40h-3.61zM638.34 419.10h3.61v10.40h-3.61zM638.34 429.15h3.61v10.40h-3.61zM638.34 439.20h3.61v10.40h-3.61zM641.60 358.80h3.61v10.40h-3.61zM644.86 358.80h0.49v10.40h-0.49z"/>
<path fill="#f6d2d2" d="M41.76 459.30h3.61v10.40h-3.61zM48.28 459.30h3.61v10.40h-3.61zM51.54 429.15h3.61v10.40h-3.61zM51.54 439.20h3.61v10.40h-3.61zM51.54 449.25h3.61v10.40h-3.61zM54.80 419.10h3.61v10.40h-3.61zM58.06 419.10h3.61v10.40h-3.61zM61.32 419.10h3.61v10.40h-3.61zM67.84 419.10h3.61v10.40h-3.61zM71.10 459.30h3.61v10.40h-3.61zM77.62 429.15h3.61v10.40h-3.61zM77.62 439.20h3.61v10.40h-3.61zM77.62 449.25h3.61v10.40h-3.61zM80.88 419.10h3.61v10.40h-3.61zM84.14 378.90h3.61v10.40h-3.61zM90.66 368.85h3.61v10.40h-3.61zM116.74 378.90h3.61v10.40h-3.61zM126.52 378.90h3.61v10.40h-3.61zM129.78 378.90h3.61v10.40h-3.61zM146.08 368.85h3.61v10.40h-3.61zM149.34 378.90h3.61v10.40h-3.61zM543.80 429.15h3.61v10.40h-3.61zM543.80 439.20h3.61v10.40h-3.61zM556.84 419.10h3.61v10.40h-3.61zM556.84 449.25h3.61v10.40h-3.61zM573.14 429.15h3.61v10.40h-3.61zM573.14 439.20h3.61v10.40h-3.61zM589.44 429.15h3.61v10.40h-3.61zM589.44 439.20h3.61v10.40h-3.61zM618.78 459.30h3.61v10.40h-3.61zM631.82 419.10h3.61v10.40h-3.61zM631.82 429.15h3.61v10.40h-3.61zM631.82 439.20h3.61v10.40h-3.61zM635.08 449.25h3.61v10.40h-3.61zM638.34 449.25h3.61v10.40h-3.61z"/>
<path fill="#fceded" d="M41.76 469.35h3.61v10.40h-3.61zM48.28 469.35h3.61v10.40h-3.61zM71.10 469.35h3.61v10.40h-3.61zM146.08 388.95h3.61v10.40h-3.61zM517.72 419.10h3.61v10.40h-3.61zM527.50 358.80h3.61v10.40h-3.61zM625.30 368.85h3.61v10.40h-3.61zM625.30 449.25h3.61v10.40h-3.61zM635.08 409.05h3.61v10.40h-3.61z"/>
<path fill="#edb1b1" d="M48.28 358.80h3.61v10.40h-3.61zM71.10 358.80h3.61v10.40h-3.61zM103.70 358.80h3.61v10.40h-3.61zM110.22 358.80h3.61v10.40h-3.61zM149.34 358.80h3.61v10.40h-3.61zM155.86 368.85h3.61v10.40h-3.61z"/>
<path fill="#f0b7b7" d="M48.28 368.85h3.61v10.40h-3.61zM51.54 358.80h3.61v10.40h-3.61zM71.10 368.85h3.61v10.40h-3.61zM74.36 368.85h3.61v10.40h-3.61zM77.62 358.80h3.61v10.40h-3.61zM97.18 368.85h3.61v10.40h-3.61zM116.74 358.80h3.61v10.40h-3.61zM120.00 368.85h3.61v10.40h-3.61zM152.60 368.85h3.61v10.40h-3.61zM168.90 388.95h3.61v10.40h-3.61zM191.72 378.90h3.61v10.40h-3.61zM217.80 388.95h3.61v10.40h-3.61zM576.40 358.80h3.61v10.40h-3.61zM576.40 419.10h3.61v10.40h-3.61zM576.40 449.25h3.61v10.40h-3.61zM618.78 429.15h3.61v10.40h-3.61zM618.78 439.20h3.61v10.40h-3.61z"/>
<path fill="#f3c9c9" d="M48.28 378.90h3.61v10.40h-3.61zM54.80 429.15h3.61v10.40h-3.61zM54.80 439.20h3.61v10.40h-3.61zM54.80 449.25h3.61v10.40h-3.61zM58.06 429.15h3.61v10.40h-3.61zM58.06 439.20h3.61v10.40h-3.61zM58.06 449.25h3.61v10.40h-3.61zM61.32 378.90h3.61v10.40h-3.61zM71.10 378.90h3.61v10.40h-3.61zM74.36 378.90h3.61v10.40h-3.61zM80.88 429.15h3.61v10.40h-3.61zM80.88 439.20h3.61v10.40h-3.61zM80.88 449.25h3.61v10.40h-3.61zM136.30 378.90h3.61v10.40h-3.61zM155.86 378.90h3.61v10.40h-3.61zM201.50 378.90h3.61v10.40h-3.61zM579.66 429.15h3.61v10.40h-3.61zM579.66 439.20h3.61v10.40h-3.61zM582.92 419.10h3.61v10.40h-3.61zM582.92 429.15h3.61v10.40h-3.61zM582.92 439.20h3.61v10.40h-3.61zM592.70 419.10h3.61v10.40h-3.61zM592.70 449.25h3.61v10.40h-3.61zM599.22 449.25h3.61v10.40h-3.61zM602.48 419.10h3.61v10.40h-3.61zM602.48 449.25h3.61v10.40h-3.61zM609.00 419.10h3.61v10.40h-3.61zM612.26 358.80h3.61v10.40h-3.61z"/>
<path fill="#f0bdbd" d="M51.54 368.85h3.61v10.40h-3.61zM77.62 368.85h3.61v10.40h-3.61zM84.14 368.85h3.61v10.40h-3.61zM103.70 368.85h3.61v10.40h-3.61zM113.48 358.80h3.61v10.40h-3.61zM133.04 368.85h3.61v10.40h-3.61zM302.56 358.80h3.61v10.40h-3.61zM341.68 358.80h3.61v10.40h-3.61zM354.72 358.80h3.61v10.40h-3.61zM563.36 419.10h3.61v10.40h-3.61zM563.36 449.25h3.61v10.40h-3.61zM586.18 358.80h3.61v10.40h-3.61zM586.18 429.15h3.61v10.40h-3.61zM586.18 439.20h3.61v10.40h-3.61zM595.96 358.80h3.61v10.40h-3.61zM615.52 358.80h3.61v10.40h-3.61zM618.78 449.25h3.61v10.40h-3.61z"/>
<path fill="#edabab" d="M54.80 358.80h3.61v10.40h-3.61zM58.06 358.80h3.61v10.40h-3.61zM67.84 358.80h3.61v10.40h-3.61zM80.88 358.80h3.61v10.40h-3.61zM97.18 358.80h3.61v10.40h-3.61zM120.00 358.80h3.61v10.40h-3.61z"/>
<path fill="#f9e7e7" d="M54.80 388.95h3.61v10.40h-3.61zM54.80 409.05h3.61v10.40h-3.61zM58.06 388.95h3.61v10.40h-3.61zM58.06 409.05h3.61v10.40h-3.61zM80.88 388.95h3.61v10.40h-3.61zM80.88 409.05h3.61v10.40h-3.61zM113.48 388.95h3.61v10.40h-3.61zM116.74 388.95h3.61v10.40h-3.61zM126.52 388.95h3.61v10.40h-3.61zM129.78 388.95h3.61v10.40h-3.61zM139.56 388.95h3.61v10.40h-3.61zM142.82 388.95h3.61v10.40h-3.61zM149.34 388.95h3.61v10.40h-3.61zM211.28 388.95h3.61v10.40h-3.61zM511.20 429.15h3.61v10.40h-3.61zM511.20 439.20h3.61v10.40h-3.61zM511.20 449.25h3.61v10.40h-3.61zM520.98 429.15h3.61v10.40h-3.61zM520.98 439.20h3.61v10.40h-3.61zM530.76 419.10h3.61v10.40h-3.61zM530.76 449.25h3.61v10.40h-3.61zM534.02 358.80h3.61v10.40h-3.61zM534.02 419.10h3.61v10.40h-3.61zM534.02 449.25h3.61v10.40h-3.61zM537.28 358.80h3.61v10.40h-3.61zM547.06 459.30h3.61v10.40h-3.61zM560.10 409.05h3.61v10.40h-3.61zM566.62 429.15h3.61v10.40h-3.61zM566.62 439.20h3.61v10.40h-3.61zM569.88 429.15h3.61v10.40h-3.61zM569.88 439.20h3.61v10.40h-3.61zM573.14 459.30h3.61v10.40h-3.61zM576.40 409.05h3.61v10.40h-3.61zM589.44 459.30h3.61v10.40h-3.61zM605.74 459.30h3.61v10.40h-3.61zM612.26 459.30h3.61v10.40h-3.61zM618.78 409.05h3.61v10.40h-3.61zM628.56 459.30h3.61v10.40h-3.61z"/>
<path fill="#edaeae" d="M61.32 358.80h3.61v10.40h-3.61zM74.36 358.80h3.61v10.40h-3.61zM87.40 368.85h3.61v10.40h-3.61zM191.72 358.80h3.61v10.40h-3.61zM191.72 368.85h3.61v10.40h-3.61z"/>
<path fill="#f6cfcf" d="M74.36 459.30h3.61v10.40h-3.61zM133.04 378.90h3.61v10.40h-3.61zM159.12 368.85h3.61v10.40h-3.61zM201.50 388.95h3.61v10.40h-3.61zM540.54 429.15h3.61v10.40h-3.61zM540.54 439.20h3.61v10.40h-3.61zM576.40 368.85h3.61v10.40h-3.61z"/>
<path fill="#f9e4e4" d="M84.14 388.95h3.61v10.40h-3.61zM93.92 378.90h3.61v10.40h-3.61zM97.18 388.95h3.61v10.40h-3.61zM100.44 378.90h3.61v10.40h-3.61zM103.70 388.95h3.61v10.40h-3.61zM106.96 378.90h3.61v10.40h-3.61zM110.22 388.95h3.61v10.40h-3.61zM120.00 388.95h3.61v10.40h-3.61zM133.04 388.95h3.61v10.40h-3.61zM152.60 388.95h3.61v10.40h-3.61zM211.28 378.90h3.61v10.40h-3.61zM524.24 419.10h3.61v10.40h-3.61zM530.76 429.15h3.61v10.40h-3.61zM530.76 439.20h3.61v10.40h-3.61zM534.02 429.15h3.61v10.40h-3.61zM534.02 439.20h3.61v10.40h-3.61zM540.54 459.30h3.61v10.40h-3.61zM543.80 459.30h3.61v10.40h-3.61zM556.84 459.30h3.61v10.40h-3.61zM579.66 459.30h3.61v10.40h-3.61zM605.74 368.85h3.61v10.40h-3.61zM612.26 368.85h3.61v10.40h-3.61zM615.52 368.85h3.61v10.40h-3.61zM641.60 449.25h3.61v10.40h-3.61zM644.86 449.25h0.49v10.40h-0.49z"/>
<path fill="#f6f3f9" d="M84.14 399.00h3.61v10.40h-3.61zM87.40 459.30h3.61v10.40h-3.61zM90.66 449.25h3.61v10.40h-3.61zM93.92 449.25h3.61v10.40h-3.61zM97.18 459.30h3.61v10.40h-3.61zM100.44 449.25h3.61v10.40h-3.61zM103.70 399.00h3.61v10.40h-3.61zM103.70 459.30h3.61v10.40h-3.61zM106.96 449.25h3.61v10.40h-3.61zM110.22 399.00h3.61v10.40h-3.61zM110.22 459.30h3.61v10.40h-3.61zM113.48 399.00h3.61v10.40h-3.61zM116.74 399.00h3.61v10.40h-3.61zM116.74 459.30h3.61v10.40h-3.61zM120.00 459.30h3.61v10.40h-3.61zM126.52 399.00h3.61v10.40h-3.61zM126.52 459.30h3.61v10.40h-3.61zM129.78 399.00h3.61v10.40h-3.61zM129.78 459.30h3.61v10.40h-3.61zM133.04 459.30h3.61v10.40h-3.61zM139.56 459.30h3.61v10.40h-3.61zM142.82 459.30h3.61v10.40h-3.61zM146.08 399.00h3.61v10.40h-3.61zM305.82 378.90h3.61v10.40h-3.61zM338.42 378.90h3.61v10.40h-3.61zM390.58 378.90h3.61v10.40h-3.61zM419.92 378.90h3.61v10.40h-3.61zM419.92 459.30h3.61v10.40h-3.61zM429.70 419.10h3.61v10.40h-3.61zM449.26 419.10h3.61v10.40h-3.61zM455.78 419.10h3.61v10.40h-3.61zM494.90 439.20h3.61v10.40h-3.61zM494.90 449.25h3.61v10.40h-3.61zM504.68 409.05h3.61v10.40h-3.61zM543.80 368.85h3.61v10.40h-3.61zM553.58 378.90h3.61v10.40h-3.61zM553.58 399.00h3.61v10.40h-3.61zM556.84 399.00h3.61v10.40h-3.61zM566.62 388.95h3.61v10.40h-3.61zM573.14 388.95h3.61v10.40h-3.61zM579.66 388.95h3.61v10.40h-3.61zM602.48 399.00h3.61v10.40h-3.61zM605.74 399.00h3.61v10.40h-3.61zM612.26 399.00h3.61v10.40h-3.61zM625.30 399.00h3.61v10.40h-3.61zM635.08 378.90h3.61v10.40h-3.61zM638.34 378.90h3.61v10.40h-3.61zM641.60 378.90h3.61v10.40h-3.61zM644.86 378.90h0.49v10.40h-0.49z"/>
<path fill="#e4e7f3" d="M84.14 409.05h3.61v10.40h-3.61zM120.00 439.20h3.61v10.40h-3.61zM296.04 459.30h3.61v10.40h-3.61zM485.12 449.25h3.61v10.40h-3.61zM540.54 378.90h3.61v10.40h-3.61z"/>
<path fill="#dee1f3" d="M84.14 419.10h3.61v10.40h-3.61zM87.40 409.05h3.61v10.40h-3.61zM103.70 429.15h3.61v10.40h-3.61zM110.22 429.15h3.61v10.40h-3.61zM120.00 409.05h3.61v10.40h-3.61zM126.52 419.10h3.61v10.40h-3.61zM129.78 419.10h3.61v10.40h-3.61zM139.56 419.10h3.61v10.40h-3.61zM139.56 429.15h3.61v10.40h-3.61zM142.82 419.10h3.61v10.40h-3.61zM142.82 429.15h3.61v10.40h-3.61zM149.34 409.05h3.61v10.40h-3.61zM159.12 439.20h3.61v10.40h-3.61zM168.90 449.25h3.61v10.40h-3.61zM181.94 399.00h3.61v10.40h-3.61zM185.20 459.30h3.61v10.40h-3.61zM194.98 399.00h3.61v10.40h-3.61zM247.14 459.30h3.61v10.40h-3.61zM302.56 439.20h3.61v10.40h-3.61zM309.08 368.85h3.61v10.40h-3.61zM312.34 368.85h3.61v10.40h-3.61zM364.50 459.30h3.61v10.40h-3.61zM374.28 459.30h3.61v10.40h-3.61zM377.54 368.85h3.61v10.40h-3.61zM393.84 368.85h3.61v10.40h-3.61zM400.36 368.85h3.61v10.40h-3.61zM413.40 449.25h3.61v10.40h-3.61zM436.22 358.80h3.61v10.40h-3.61zM478.60 419.10h3.61v10.40h-3.61zM494.90 419.10h3.61v10.40h-3.61zM520.98 399.00h3.61v10.40h-3.61zM530.76 378.90h3.61v10.40h-3.61zM530.76 388.95h3.61v10.40h-3.61z"/>
<path fill="#e1e4f3" d="M84.14 429.15h3.61v10.40h-3.61zM97.18 409.05h3.61v10.40h-3.61zM110.22 409.05h3.61v10.40h-3.61zM113.48 419.10h3.61v10.40h-3.61zM116.74 429.15h3.61v10.40h-3.61zM126.52 409.05h3.61v10.40h-3.61zM129.78 409.05h3.61v10.40h-3.61zM149.34 439.20h3.61v10.40h-3.61zM188.46 459.30h3.61v10.40h-3.61zM198.24 399.00h3.61v10.40h-3.61zM208.02 399.00h3.61v10.40h-3.61zM237.36 449.25h3.61v10.40h-3.61zM367.76 419.10h3.61v10.40h-3.61zM371.02 419.10h3.61v10.40h-3.61zM426.44 358.80h3.61v10.40h-3.61zM432.96 439.20h3.61v10.40h-3.61zM442.74 358.80h3.61v10.40h-3.61zM465.56 358.80h3.61v10.40h-3.61zM468.82 358.80h3.61v10.40h-3.61zM472.08 358.80h3.61v10.40h-3.61zM520.98 368.85h3.61v10.40h-3.61zM524.24 368.85h3.61v10.40h-3.61z"/>
<path fill="#eaeaf6" d="M84.14 439.20h3.61v10.40h-3.61zM90.66 419.10h3.61v10.40h-3.61zM90.66 429.15h3.61v10.40h-3.61zM113.48 439.20h3.61v10.40h-3.61zM116.74 439.20h3.61v10.40h-3.61zM123.26 449.25h3.61v10.40h-3.61zM136.30 449.25h3.61v10.40h-3.61zM146.08 409.05h3.61v10.40h-3.61zM149.34 449.25h3.61v10.40h-3.61zM155.86 399.00h3.61v10.40h-3.61zM155.86 459.30h3.61v10.40h-3.61zM188.46 399.00h3.61v10.40h-3.61zM201.50 409.05h3.61v10.40h-3.61zM201.50 439.20h3.61v10.40h-3.61zM286.26 459.30h3.61v10.40h-3.61zM357.98 459.30h3.61v10.40h-3.61zM367.76 429.15h3.61v10.40h-3.61zM371.02 429.15h3.61v10.40h-3.61zM393.84 459.30h3.61v10.40h-3.61zM400.36 459.30h3.61v10.40h-3.61zM403.62 459.30h3.61v10.40h-3.61zM416.66 409.05h3.61v10.40h-3.61zM426.44 439.20h3.61v10.40h-3.61zM426.44 449.25h3.61v10.40h-3.61zM429.70 358.80h3.61v10.40h-3.61zM439.48 439.20h3.61v10.40h-3.61zM439.48 449.25h3.61v10.40h-3.61zM449.26 358.80h3.61v10.40h-3.61zM455.78 358.80h3.61v10.40h-3.61zM465.56 439.20h3.61v10.40h-3.61zM468.82 439.20h3.61v10.40h-3.61zM472.08 449.25h3.61v10.40h-3.61zM475.34 439.20h3.61v10.40h-3.61zM494.90 358.80h3.61v10.40h-3.61zM494.90 429.15h3.61v10.40h-3.61zM530.76 368.85h3.61v10.40h-3.61zM534.02 399.00h3.61v10.40h-3.61zM537.28 378.90h3.61v10.40h-3.61zM537.28 388.95h3.61v10.40h-3.61zM543.80 378.90h3.61v10.40h-3.61zM547.06 388.95h3.61v10.40h-3.61zM550.32 388.95h3.61v10.40h-3.61z"/>
<path fill="#f0f0f6" d="M84.14 449.25h3.61v10.40h-3.61zM90.66 439.20h3.61v10.40h-3.61zM93.92 409.05h3.61v10.40h-3.61zM100.44 409.05h3.61v10.40h-3.61zM106.96 409.05h3.61v10.40h-3.61zM113.48 449.25h3.61v10.40h-3.61zM149.34 399.00h3.61v10.40h-3.61zM152.60 459.30h3.61v10.40h-3.61zM159.12 399.00h3.61v10.40h-3.61zM175.42 399.00h3.61v10.40h-3.61zM269.96 459.30h3.61v10.40h-3.61zM410.14 459.30h3.61v10.40h-3.61zM413.40 459.30h3.61v10.40h-3.61zM462.30 449.25h3.61v10.40h-3.61zM491.64 439.20h3.61v10.40h-3.61zM491.64 449.25h3.61v10.40h-3.61zM537.28 368.85h3.61v10.40h-3.61zM537.28 399.00h3.61v10.40h-3.61zM543.80 399.00h3.61v10.40h-3.61zM550.32 378.90h3.61v10.40h-3.61zM563.36 388.95h3.61v10.40h-3.61zM609.00 388.95h3.61v10.40h-3.61zM618.78 399.00h3.61v10.40h-3.61zM622.04 388.95h3.61v10.40h-3.61zM628.56 388.95h3.61v10.40h-3.61zM628.56 399.00h3.61v10.40h-3.61zM631.82 399.00h3.61v10.40h-3.61zM641.60 388.95h3.61v10.40h-3.61zM641.60 399.00h3.61v10.40h-3.61z"/>
<path fill="#f6f6f9" d="M84.14 459.30h3.61v10.40h-3.61zM113.48 459.30h3.61v10.40h-3.61zM146.08 459.30h3.61v10.40h-3.61zM201.50 459.30h3.61v10.40h-3.61zM260.18 459.30h3.61v10.40h-3.61zM302.56 459.30h3.61v10.40h-3.61zM416.66 439.20h3.61v10.40h-3.61zM429.70 429.15h3.61v10.40h-3.61zM449.26 429.15h3.61v10.40h-3.61zM455.78 429.15h3.61v10.40h-3.61zM556.84 378.90h3.61v10.40h-3.61zM560.10 399.00h3.61v10.40h-3.61zM569.88 388.95h3.61v10.40h-3.61zM595.96 399.00h3.61v10.40h-3.61zM599.22 399.00h3.61v10.40h-3.61zM631.82 378.90h3.61v10.40h-3.61z"/>
<path fill="#fcf9f9" d="M84.14 469.35h3.61v10.40h-3.61zM87.40 469.35h3.61v10.40h-3.61zM90.66 469.35h3.61v10.40h-3.61zM93.92 469.35h3.61v10.40h-3.61zM97.18 469.35h3.61v10.40h-3.61zM100.44 469.35h3.61v10.40h-3.61zM103.70 469.35h3.61v10.40h-3.61zM106.96 469.35h3.61v10.40h-3.61zM110.22 469.35h3.61v10.40h-3.61zM113.48 469.35h3.61v10.40h-3.61zM116.74 469.35h3.61v10.40h-3.61zM120.00 469.35h3.61v10.40h-3.61zM123.26 469.35h3.61v10.40h-3.61zM126.52 469.35h3.61v10.40h-3.61zM129.78 469.35h3.61v10.40h-3.61zM133.04 469.35h3.61v10.40h-3.61zM136.30 469.35h3.61v10.40h-3.61zM139.56 469.35h3.61v10.40h-3.61zM142.82 469.35h3.61v10.40h-3.61zM146.08 469.35h3.61v10.40h-3.61zM149.34 469.35h3.61v10.40h-3.61zM152.60 469.35h3.61v10.40h-3.61zM155.86 469.35h3.61v10.40h-3.61zM159.12 469.35h3.61v10.40h-3.61zM162.38 469.35h3.61v10.40h-3.61zM165.64 469.35h3.61v10.40h-3.61zM168.90 469.35h3.61v10.40h-3.61zM172.16 469.35h3.61v10.40h-3.61zM175.42 469.35h3.61v10.40h-3.61zM178.68 469.35h3.61v10.40h-3.61zM181.94 469.35h3.61v10.40h-3.61zM185.20 469.35h3.61v10.40h-3.61zM188.46 469.35h3.61v10.40h-3.61zM191.72 469.35h3.61v10.40h-3.61zM194.98 469.35h3.61v10.40h-3.61zM198.24 469.35h3.61v10.40h-3.61zM201.50 469.35h3.61v10.40h-3.61zM204.76 469.35h3.61v10.40h-3.61zM208.02 469.35h3.61v10.40h-3.61zM211.28 469.35h3.61v10.40h-3.61zM214.54 469.35h3.61v10.40h-3.61zM217.80 469.35h3.61v10.40h-3.61zM221.06 469.35h3.61v10.40h-3.61zM224.32 469.35h3.61v10.40h-3.61zM227.58 469.35h3.61v10.40h-3.61zM230.84 469.35h3.61v10.40h-3.61zM234.10 469.35h3.61v10.40h-3.61zM237.36 469.35h3.61v10.40h-3.61zM240.62 469.35h3.61v10.40h-3.61zM243.88 469.35h3.61v10.40h-3.61zM247.14 469.35h3.61v10.40h-3.61zM250.40 469.35h3.61v10.40h-3.61zM253.66 469.35h3.61v10.40h-3.61zM256.92 469.35h3.61v10.40h-3.61zM260.18 469.35h3.61v10.40h-3.61zM263.44 469.35h3.61v10.40h-3.61zM266.70 469.35h3.61v10.40h-3.61zM269.96 469.35h3.61v10.40h-3.61zM273.22 469.35h3.61v10.40h-3.61zM276.48 469.35h3.61v10.40h-3.61zM279.74 469.35h3.61v10.40h-3.61zM283.00 469.35h3.61v10.40h-3.61zM286.26 469.35h3.61v10.40h-3.61zM289.52 469.35h3.61v10.40h-3.61zM292.78 469.35h3.61v10.40h-3.61zM296.04 469.35h3.61v10.40h-3.61zM299.30 469.35h3.61v10.40h-3.61zM302.56 469.35h3.61v10.40h-3.61zM305.82 469.35h3.61v10.40h-3.61zM309.08 469.35h3.61v10.40h-3.61zM312.34 469.35h3.61v10.40h-3.61zM315.60 469.35h3.61v10.40h-3.61zM318.86 469.35h3.61v10.40h-3.61zM322.12 469.35h3.61v10.40h-3.61zM325.38 469.35h3.61v10.40h-3.61zM328.64 469.35h3.61v10.40h-3.61zM331.90 469.35h3.61v10.40h-3.61zM335.16 469.35h3.61v10.40h-3.61zM338.42 469.35h3.61v10.40h-3.61zM341.68 469.35h3.61v10.40h-3.61zM344.94 469.35h3.61v10.40h-3.61zM348.20 469.35h3.61v10.40h-3.61zM351.46 368.85h3.61v10.40h-3.61zM351.46 469.35h3.61v10.40h-3.61zM354.72 368.85h3.61v10.40h-3.61zM354.72 469.35h3.61v10.40h-3.61zM357.98 469.35h3.61v10.40h-3.61zM361.24 469.35h3.61v10.40h-3.61zM364.50 368.85h3.61v10.40h-3.61zM364.50 469.35h3.61v10.40h-3.61zM367.76 469.35h3.61v10.40h-3.61zM371.02 469.35h3.61v10.40h-3.61zM374.28 469.35h3.61v10.40h-3.61zM377.54 469.35h3.61v10.40h-3.61zM380.80 469.35h3.61v10.40h-3.61zM384.06 368.85h3.61v10.40h-3.61zM384.06 469.35h3.61v10.40h-3.61zM387.32 368.85h3.61v10.40h-3.61zM387.32 469.35h3.61v10.40h-3.61zM390.58 469.35h3.61v10.40h-3.61zM393.84 469.35h3.61v10.40h-3.61zM397.10 469.35h3.61v10.40h-3.61zM400.36 469.35h3.61v10.40h-3.61zM403.62 469.35h3.61v10.40h-3.61zM406.88 469.35h3.61v10.40h-3.61zM410.14 469.35h3.61v10.40h-3.61zM413.40 469.35h3.61v10.40h-3.61zM416.66 358.80h3.61v10.40h-3.61zM416.66 459.30h3.61v10.40h-3.61zM416.66 469.35h3.61v10.40h-3.61zM419.92 469.35h3.61v10.40h-3.61zM423.18 469.35h3.61v10.40h-3.61zM426.44 469.35h3.61v10.40h-3.61zM429.70 459.30h3.61v10.40h-3.61zM429.70 469.35h3.61v10.40h-3.61zM432.96 469.35h3.61v10.40h-3.61zM436.22 469.35h3.61v10.40h-3.61zM439.48 469.35h3.61v10.40h-3.61zM442.74 469.35h3.61v10.40h-3.61zM446.00 469.35h3.61v10.40h-3.61zM449.26 459.30h3.61v10.40h-3.61zM449.26 469.35h3.61v10.40h-3.61zM452.52 469.35h3.61v10.40h-3.61zM455.78 459.30h3.61v10.40h-3.61zM455.78 469.35h3.61v10.40h-3.61zM459.04 469.35h3.61v10.40h-3.61zM462.30 459.30h3.61v10.40h-3.61zM462.30 469.35h3.61v10.40h-3.61zM465.56 469.35h3.61v10.40h-3.61zM468.82 459.30h3.61v10.40h-3.61zM468.82 469.35h3.61v10.40h-3.61zM472.08 459.30h3.61v10.40h-3.61zM472.08 469.35h3.61v10.40h-3.61zM475.34 459.30h3.61v10.40h-3.61zM475.34 469.35h3.61v10.40h-3.61zM478.60 459.30h3.61v10.40h-3.61zM478.60 469.35h3.61v10.40h-3.61zM481.86 459.30h3.61v10.40h-3.61zM481.86 469.35h3.61v10.40h-3.61zM485.12 459.30h3.61v10.40h-3.61zM485.12 469.35h3.61v10.40h-3.61zM488.38 459.30h3.61v10.40h-3.61zM488.38 469.35h3.61v10.40h-3.61zM491.64 459.30h3.61v10.40h-3.61zM491.64 469.35h3.61v10.40h-3.61zM494.90 469.35h3.61v10.40h-3.61zM498.16 439.20h3.61v10.40h-3.61zM498.16 449.25h3.61v10.40h-3.61zM498.16 469.35h3.61v10.40h-3.61zM501.42 429.15h3.61v10.40h-3.61zM501.42 439.20h3.61v10.40h-3.61zM501.42 449.25h3.61v10.40h-3.61zM501.42 469.35h3.61v10.40h-3.61zM504.68 469.35h3.61v10.40h-3.61zM507.94 409.05h3.61v10.40h-3.61zM507.94 469.35h3.61v10.40h-3.61zM511.20 409.05h3.61v10.40h-3.61zM511.20 469.35h3.61v10.40h-3.61zM514.46 358.80h3.61v10.40h-3.61zM514.46 409.05h3.61v10.40h-3.61zM514.46 469.35h3.61v10.40h-3.61zM517.72 409.05h3.61v10.40h-3.61zM517.72 469.35h3.61v10.40h-3.61zM520.98 409.05h3.61v10.40h-3.61zM527.50 409.05h3.61v10.40h-3.61zM537.28 409.05h3.61v10.40h-3.61zM547.06 368.85h3.61v10.40h-3.61zM563.36 378.90h3.61v10.40h-3.61zM566.62 399.00h3.61v10.40h-3.61zM569.88 399.00h3.61v10.40h-3.61zM573.14 399.00h3.61v10.40h-3.61zM576.40 399.00h3.61v10.40h-3.61zM579.66 399.00h3.61v10.40h-3.61zM582.92 399.00h3.61v10.40h-3.61zM599.22 378.90h3.61v10.40h-3.61zM602.48 378.90h3.61v10.40h-3.61zM605.74 378.90h3.61v10.40h-3.61zM609.00 378.90h3.61v10.40h-3.61zM612.26 378.90h3.61v10.40h-3.61zM615.52 378.90h3.61v10.40h-3.61z"/>
<path fill="#ea9f9f" d="M87.40 358.80h3.61v10.40h-3.61zM168.90 358.80h3.61v10.40h-3.61zM168.90 368.85h3.61v10.40h-3.61zM185.20 388.95h3.61v10.40h-3.61zM217.80 358.80h3.61v10.40h-3.61zM217.80 368.85h3.61v10.40h-3.61zM325.38 368.85h3.61v10.40h-3.61zM328.64 368.85h3.61v10.40h-3.61zM367.76 368.85h3.61v10.40h-3.61zM374.28 368.85h3.61v10.40h-3.61z"/>
<path fill="#f9dede" d="M87.40 388.95h3.61v10.40h-3.61zM90.66 378.90h3.61v10.40h-3.61zM524.24 429.15h3.61v10.40h-3.61zM524.24 439.20h3.61v10.40h-3.61zM550.32 459.30h3.61v10.40h-3.61zM569.88 368.85h3.61v10.40h-3.61zM592.70 459.30h3.61v10.40h-3.61zM602.48 368.85h3.61v10.40h-3.61zM602.48 459.30h3.61v10.40h-3.61zM609.00 459.30h3.61v10.40h-3.61zM635.08 459.30h3.61v10.40h-3.61zM638.34 459.30h3.61v10.40h-3.61z"/>
<path fill="#f3f0f6" d="M87.40 399.00h3.61v10.40h-3.61zM93.92 439.20h3.61v10.40h-3.61zM100.44 439.20h3.61v10.40h-3.61zM106.96 439.20h3.61v10.40h-3.61zM136.30 399.00h3.61v10.40h-3.61zM136.30 459.30h3.61v10.40h-3.61zM146.08 449.25h3.61v10.40h-3.61zM159.12 459.30h3.61v10.40h-3.61zM168.90 399.00h3.61v10.40h-3.61zM429.70 409.05h3.61v10.40h-3.61zM449.26 409.05h3.61v10.40h-3.61zM455.78 409.05h3.61v10.40h-3.61zM478.60 439.20h3.61v10.40h-3.61zM478.60 449.25h3.61v10.40h-3.61zM498.16 429.15h3.61v10.40h-3.61zM504.68 358.80h3.61v10.40h-3.61zM547.06 399.00h3.61v10.40h-3.61zM550.32 399.00h3.61v10.40h-3.61zM592.70 388.95h3.61v10.40h-3.61zM595.96 388.95h3.61v10.40h-3.61zM599.22 388.95h3.61v10.40h-3.61zM602.48 388.95h3.61v10.40h-3.61zM605.74 388.95h3.61v10.40h-3.61zM612.26 388.95h3.61v10.40h-3.61zM615.52 399.00h3.61v10.40h-3.61z"/>
<path fill="#d5d8f0" d="M87.40 419.10h3.61v10.40h-3.61zM136.30 419.10h3.61v10.40h-3.61zM136.30 429.15h3.61v10.40h-3.61zM152.60 409.05h3.61v10.40h-3.61zM159.12 419.10h3.61v10.40h-3.61zM159.12 429.15h3.61v10.40h-3.61zM211.28 459.30h3.61v10.40h-3.61zM214.54 459.30h3.61v10.40h-3.61zM273.22 459.30h3.61v10.40h-3.61zM292.78 459.30h3.61v10.40h-3.61zM335.16 459.30h3.61v10.40h-3.61zM344.94 459.30h3.61v10.40h-3.61zM400.36 449.25h3.61v10.40h-3.61zM403.62 449.25h3.61v10.40h-3.61zM423.18 419.10h3.61v10.40h-3.61zM429.70 368.85h3.61v10.40h-3.61zM436.22 429.15h3.61v10.40h-3.61zM442.74 419.10h3.61v10.40h-3.61zM511.20 368.85h3.61v10.40h-3.61z"/>
<path fill="#d8dbf0" d="M87.40 429.15h3.61v10.40h-3.61zM123.26 419.10h3.61v10.40h-3.61zM149.34 419.10h3.61v10.40h-3.61zM149.34 429.15h3.61v10.40h-3.61zM152.60 439.20h3.61v10.40h-3.61zM155.86 449.25h3.61v10.40h-3.61zM165.64 459.30h3.61v10.40h-3.61zM168.90 409.05h3.61v10.40h-3.61zM168.90 439.20h3.61v10.40h-3.61zM172.16 459.30h3.61v10.40h-3.61zM175.42 449.25h3.61v10.40h-3.61zM198.24 459.30h3.61v10.40h-3.61zM250.40 459.30h3.61v10.40h-3.61zM253.66 459.30h3.61v10.40h-3.61zM260.18 409.05h3.61v10.40h-3.61zM260.18 419.10h3.61v10.40h-3.61zM260.18 429.15h3.61v10.40h-3.61zM263.44 459.30h3.61v10.40h-3.61zM266.70 459.30h3.61v10.40h-3.61zM276.48 459.30h3.61v10.40h-3.61zM289.52 459.30h3.61v10.40h-3.61zM302.56 409.05h3.61v10.40h-3.61zM302.56 419.10h3.61v10.40h-3.61zM322.12 459.30h3.61v10.40h-3.61zM325.38 459.30h3.61v10.40h-3.61zM328.64 459.30h3.61v10.40h-3.61zM354.72 459.30h3.61v10.40h-3.61zM361.24 459.30h3.61v10.40h-3.61zM380.80 459.30h3.61v10.40h-3.61zM393.84 449.25h3.61v10.40h-3.61zM449.26 368.85h3.61v10.40h-3.61zM462.30 419.10h3.61v10.40h-3.61zM472.08 429.15h3.61v10.40h-3.61zM498.16 409.05h3.61v10.40h-3.61zM514.46 399.00h3.61v10.40h-3.61z"/>
<path fill="#e4e4f3" d="M87.40 439.20h3.61v10.40h-3.61zM103.70 409.05h3.61v10.40h-3.61zM113.48 429.15h3.61v10.40h-3.61zM116.74 409.05h3.61v10.40h-3.61zM123.26 439.20h3.61v10.40h-3.61zM139.56 409.05h3.61v10.40h-3.61zM142.82 409.05h3.61v10.40h-3.61zM152.60 449.25h3.61v10.40h-3.61zM279.74 459.30h3.61v10.40h-3.61zM305.82 459.30h3.61v10.40h-3.61zM309.08 459.30h3.61v10.40h-3.61zM318.86 459.30h3.61v10.40h-3.61zM384.06 459.30h3.61v10.40h-3.61zM390.58 459.30h3.61v10.40h-3.61zM406.88 459.30h3.61v10.40h-3.61zM432.96 449.25h3.61v10.40h-3.61zM446.00 439.20h3.61v10.40h-3.61zM452.52 439.20h3.61v10.40h-3.61zM459.04 439.20h3.61v10.40h-3.61zM462.30 358.80h3.61v10.40h-3.61zM462.30 429.15h3.61v10.40h-3.61zM475.34 358.80h3.61v10.40h-3.61zM485.12 439.20h3.61v10.40h-3.61zM534.02 378.90h3.61v10.40h-3.61zM534.02 388.95h3.61v10.40h-3.61zM540.54 388.95h3.61v10.40h-3.61z"/>
<path fill="#ededf6" d="M87.40 449.25h3.61v10.40h-3.61zM90.66 409.05h3.61v10.40h-3.61zM93.92 419.10h3.61v10.40h-3.61zM97.18 449.25h3.61v10.40h-3.61zM100.44 419.10h3.61v10.40h-3.61zM100.44 429.15h3.61v10.40h-3.61zM106.96 419.10h3.61v10.40h-3.61zM106.96 429.15h3.61v10.40h-3.61zM110.22 449.25h3.61v10.40h-3.61zM120.00 449.25h3.61v10.40h-3.61zM126.52 449.25h3.61v10.40h-3.61zM129.78 449.25h3.61v10.40h-3.61zM133.04 449.25h3.61v10.40h-3.61zM139.56 449.25h3.61v10.40h-3.61zM142.82 449.25h3.61v10.40h-3.61zM146.08 439.20h3.61v10.40h-3.61zM152.60 399.00h3.61v10.40h-3.61zM168.90 459.30h3.61v10.40h-3.61zM178.68 399.00h3.61v10.40h-3.61zM201.50 449.25h3.61v10.40h-3.61zM260.18 449.25h3.61v10.40h-3.61zM302.56 449.25h3.61v10.40h-3.61zM367.76 439.20h3.61v10.40h-3.61zM371.02 439.20h3.61v10.40h-3.61zM423.18 439.20h3.61v10.40h-3.61zM423.18 449.25h3.61v10.40h-3.61zM442.74 439.20h3.61v10.40h-3.61zM442.74 449.25h3.61v10.40h-3.61zM462.30 439.20h3.61v10.40h-3.61zM465.56 449.25h3.61v10.40h-3.61zM468.82 449.25h3.61v10.40h-3.61zM475.34 449.25h3.61v10.40h-3.61zM498.16 358.80h3.61v10.40h-3.61zM540.54 399.00h3.61v10.40h-3.61zM547.06 378.90h3.61v10.40h-3.61zM560.10 388.95h3.61v10.40h-3.61zM618.78 388.95h3.61v10.40h-3.61zM631.82 388.95h3.61v10.40h-3.61zM635.08 388.95h3.61v10.40h-3.61zM635.08 399.00h3.61v10.40h-3.61zM638.34 388.95h3.61v10.40h-3.61zM638.34 399.00h3.61v10.40h-3.61z"/>
<path fill="#f9f6f9" d="M90.66 399.00h3.61v10.40h-3.61zM90.66 459.30h3.61v10.40h-3.61zM93.92 399.00h3.61v10.40h-3.61zM93.92 459.30h3.61v10.40h-3.61zM100.44 399.00h3.61v10.40h-3.61zM100.44 459.30h3.61v10.40h-3.61zM106.96 399.00h3.61v10.40h-3.61zM106.96 459.30h3.61v10.40h-3.61zM201.50 399.00h3.61v10.40h-3.61zM367.76 459.30h3.61v10.40h-3.61zM371.02 459.30h3.61v10.40h-3.61zM416.66 449.25h3.61v10.40h-3.61zM423.18 459.30h3.61v10.40h-3.61zM426.44 459.30h3.61v10.40h-3.61zM429.70 439.20h3.61v10.40h-3.61zM429.70 449.25h3.61v10.40h-3.61zM432.96 459.30h3.61v10.40h-3.61zM436.22 459.30h3.61v10.40h-3.61zM439.48 459.30h3.61v10.40h-3.61zM446.00 459.30h3.61v10.40h-3.61zM449.26 439.20h3.61v10.40h-3.61zM449.26 449.25h3.61v10.40h-3.61zM452.52 459.30h3.61v10.40h-3.61zM455.78 439.20h3.61v10.40h-3.61zM459.04 459.30h3.61v10.40h-3.61zM501.42 419.10h3.61v10.40h-3.61zM507.94 358.80h3.61v10.40h-3.61zM511.20 358.80h3.61v10.40h-3.61zM560.10 378.90h3.61v10.40h-3.61zM563.36 399.00h3.61v10.40h-3.61zM586.18 399.00h3.61v10.40h-3.61zM589.44 399.00h3.61v10.40h-3.61zM592.70 399.00h3.61v10.40h-3.61zM618.78 378.90h3.61v10.40h-3.61zM628.56 378.90h3.61v10.40h-3.61z"/>
<path fill="#f0edf6" d="M93.92 429.15h3.61v10.40h-3.61zM103.70 449.25h3.61v10.40h-3.61zM116.74 449.25h3.61v10.40h-3.61zM416.66 419.10h3.61v10.40h-3.61zM488.38 439.20h3.61v10.40h-3.61zM488.38 449.25h3.61v10.40h-3.61zM540.54 368.85h3.61v10.40h-3.61zM553.58 388.95h3.61v10.40h-3.61zM556.84 388.95h3.61v10.40h-3.61zM615.52 388.95h3.61v10.40h-3.61zM644.86 388.95h0.49v10.40h-0.49zM644.86 399.00h0.49v10.40h-0.49z"/>
<path fill="#f3f3f9" d="M97.18 399.00h3.61v10.40h-3.61zM120.00 399.00h3.61v10.40h-3.61zM123.26 399.00h3.61v10.40h-3.61zM123.26 459.30h3.61v10.40h-3.61zM133.04 399.00h3.61v10.40h-3.61zM139.56 399.00h3.61v10.40h-3.61zM149.34 459.30h3.61v10.40h-3.61zM237.36 459.30h3.61v10.40h-3.61zM367.76 449.25h3.61v10.40h-3.61zM371.02 449.25h3.61v10.40h-3.61zM501.42 409.05h3.61v10.40h-3.61zM576.40 388.95h3.61v10.40h-3.61zM582.92 388.95h3.61v10.40h-3.61zM589.44 388.95h3.61v10.40h-3.61zM609.00 399.00h3.61v10.40h-3.61z"/>
<path fill="#dbdef0" d="M97.18 419.10h3.61v10.40h-3.61zM110.22 419.10h3.61v10.40h-3.61zM120.00 429.15h3.61v10.40h-3.61zM123.26 429.15h3.61v10.40h-3.61zM133.04 419.10h3.61v10.40h-3.61zM136.30 409.05h3.61v10.40h-3.61zM159.12 409.05h3.61v10.40h-3.61zM181.94 388.95h3.61v10.40h-3.61zM208.02 459.30h3.61v10.40h-3.61zM214.54 399.00h3.61v10.40h-3.61zM237.36 419.10h3.61v10.40h-3.61zM237.36 429.15h3.61v10.40h-3.61zM260.18 439.20h3.61v10.40h-3.61zM269.96 449.25h3.61v10.40h-3.61zM302.56 429.15h3.61v10.40h-3.61zM367.76 409.05h3.61v10.40h-3.61zM371.02 409.05h3.61v10.40h-3.61zM426.44 429.15h3.61v10.40h-3.61zM439.48 429.15h3.61v10.40h-3.61zM465.56 429.15h3.61v10.40h-3.61zM475.34 429.15h3.61v10.40h-3.61zM501.42 368.85h3.61v10.40h-3.61zM507.94 368.85h3.61v10.40h-3.61zM517.72 399.00h3.61v10.40h-3.61z"/>
<path fill="#dedef3" d="M97.18 429.15h3.61v10.40h-3.61zM103.70 419.10h3.61v10.40h-3.61zM123.26 409.05h3.61v10.40h-3.61zM133.04 429.15h3.61v10.40h-3.61zM191.72 459.30h3.61v10.40h-3.61zM211.28 399.00h3.61v10.40h-3.61zM446.00 358.80h3.61v10.40h-3.61zM452.52 358.80h3.61v10.40h-3.61zM459.04 358.80h3.61v10.40h-3.61zM524.24 399.00h3.61v10.40h-3.61zM527.50 378.90h3.61v10.40h-3.61zM527.50 388.95h3.61v10.40h-3.61z"/>
<path fill="#e7e7f3" d="M97.18 439.20h3.61v10.40h-3.61zM103.70 439.20h3.61v10.40h-3.61zM110.22 439.20h3.61v10.40h-3.61zM113.48 409.05h3.61v10.40h-3.61zM126.52 439.20h3.61v10.40h-3.61zM129.78 439.20h3.61v10.40h-3.61zM133.04 439.20h3.61v10.40h-3.61zM139.56 439.20h3.61v10.40h-3.61zM142.82 439.20h3.61v10.40h-3.61zM146.08 419.10h3.61v10.40h-3.61zM146.08 429.15h3.61v10.40h-3.61zM159.12 449.25h3.61v10.40h-3.61zM178.68 459.30h3.61v10.40h-3.61zM185.20 399.00h3.61v10.40h-3.61zM191.72 399.00h3.61v10.40h-3.61zM315.60 358.80h3.61v10.40h-3.61zM351.46 358.80h3.61v10.40h-3.61zM367.76 358.80h3.61v10.40h-3.61zM387.32 459.30h3.61v10.40h-3.61zM397.10 459.30h3.61v10.40h-3.61zM400.36 358.80h3.61v10.40h-3.61zM423.18 358.80h3.61v10.40h-3.61zM436.22 439.20h3.61v10.40h-3.61zM436.22 449.25h3.61v10.40h-3.61zM446.00 449.25h3.61v10.40h-3.61zM452.52 449.25h3.61v10.40h-3.61zM459.04 449.25h3.61v10.40h-3.61zM472.08 439.20h3.61v10.40h-3.61zM478.60 358.80h3.61v10.40h-3.61zM478.60 429.15h3.61v10.40h-3.61zM481.86 439.20h3.61v10.40h-3.61zM481.86 449.25h3.61v10.40h-3.61zM488.38 358.80h3.61v10.40h-3.61zM491.64 358.80h3.61v10.40h-3.61zM498.16 419.10h3.61v10.40h-3.61zM527.50 399.00h3.61v10.40h-3.61zM530.76 399.00h3.61v10.40h-3.61zM543.80 388.95h3.61v10.40h-3.61z"/>
<path fill="#f3c3c3" d="M116.74 368.85h3.61v10.40h-3.61zM201.50 358.80h3.61v10.40h-3.61zM201.50 368.85h3.61v10.40h-3.61zM573.14 358.80h3.61v10.40h-3.61zM579.66 358.80h3.61v10.40h-3.61zM595.96 449.25h3.61v10.40h-3.61zM599.22 429.15h3.61v10.40h-3.61zM599.22 439.20h3.61v10.40h-3.61zM615.52 419.10h3.61v10.40h-3.61zM635.08 358.80h3.61v10.40h-3.61z"/>
<path fill="#e1e1f3" d="M116.74 419.10h3.61v10.40h-3.61zM126.52 429.15h3.61v10.40h-3.61zM129.78 429.15h3.61v10.40h-3.61zM133.04 409.05h3.61v10.40h-3.61zM136.30 439.20h3.61v10.40h-3.61zM165.64 399.00h3.61v10.40h-3.61zM377.54 459.30h3.61v10.40h-3.61zM410.14 449.25h3.61v10.40h-3.61zM423.18 429.15h3.61v10.40h-3.61zM439.48 358.80h3.61v10.40h-3.61zM442.74 429.15h3.61v10.40h-3.61zM481.86 358.80h3.61v10.40h-3.61zM485.12 358.80h3.61v10.40h-3.61zM488.38 429.15h3.61v10.40h-3.61zM491.64 429.15h3.61v10.40h-3.61zM517.72 368.85h3.61v10.40h-3.61z"/>
<path fill="#dbdbf0" d="M120.00 419.10h3.61v10.40h-3.61zM455.78 368.85h3.61v10.40h-3.61z"/>
<path fill="#eda8a8" d="M123.26 358.80h3.61v10.40h-3.61zM168.90 378.90h3.61v10.40h-3.61zM217.80 378.90h3.61v10.40h-3.61z"/>
<path fill="#f9e1e1" d="M123.26 388.95h3.61v10.40h-3.61zM136.30 388.95h3.61v10.40h-3.61zM146.08 378.90h3.61v10.40h-3.61zM155.86 388.95h3.61v10.40h-3.61zM159.12 378.90h3.61v10.40h-3.61zM198.24 388.95h3.61v10.40h-3.61zM211.28 358.80h3.61v10.40h-3.61zM211.28 368.85h3.61v10.40h-3.61zM318.86 358.80h3.61v10.40h-3.61zM348.20 358.80h3.61v10.40h-3.61zM524.24 449.25h3.61v10.40h-3.61zM560.10 368.85h3.61v10.40h-3.61zM566.62 368.85h3.61v10.40h-3.61zM582.92 459.30h3.61v10.40h-3.61zM609.00 368.85h3.61v10.40h-3.61zM618.78 368.85h3.61v10.40h-3.61zM631.82 459.30h3.61v10.40h-3.61zM641.60 419.10h3.61v10.40h-3.61zM641.60 429.15h3.61v10.40h-3.61zM641.60 439.20h3.61v10.40h-3.61zM644.86 419.10h0.49v10.40h-0.49zM644.86 429.15h0.49v10.40h-0.49zM644.86 439.20h0.49v10.40h-0.49z"/>
<path fill="#f0c0c0" d="M126.52 368.85h3.61v10.40h-3.61zM129.78 368.85h3.61v10.40h-3.61zM149.34 368.85h3.61v10.40h-3.61zM191.72 388.95h3.61v10.40h-3.61zM560.10 358.80h3.61v10.40h-3.61zM563.36 358.80h3.61v10.40h-3.61zM586.18 419.10h3.61v10.40h-3.61zM592.70 358.80h3.61v10.40h-3.61zM595.96 429.15h3.61v10.40h-3.61zM595.96 439.20h3.61v10.40h-3.61zM599.22 358.80h3.61v10.40h-3.61z"/>
<path fill="#f0b1b1" d="M133.04 358.80h3.61v10.40h-3.61zM576.40 429.15h3.61v10.40h-3.61zM576.40 439.20h3.61v10.40h-3.61z"/>
<path fill="#eda2a2" d="M136.30 358.80h3.61v10.40h-3.61z"/>
<path fill="#f3f3f6" d="M142.82 399.00h3.61v10.40h-3.61zM237.36 399.00h3.61v10.40h-3.61zM416.66 429.15h3.61v10.40h-3.61zM501.42 358.80h3.61v10.40h-3.61zM586.18 388.95h3.61v10.40h-3.61zM622.04 399.00h3.61v10.40h-3.61zM625.30 388.95h3.61v10.40h-3.61z"/>
<path fill="#eda5a5" d="M152.60 358.80h3.61v10.40h-3.61z"/>
<path fill="#ccd2ed" d="M152.60 419.10h3.61v10.40h-3.61zM152.60 429.15h3.61v10.40h-3.61zM283.00 459.30h3.61v10.40h-3.61zM331.90 459.30h3.61v10.40h-3.61zM439.48 419.10h3.61v10.40h-3.61zM462.30 368.85h3.61v10.40h-3.61zM465.56 419.10h3.61v10.40h-3.61zM468.82 419.10h3.61v10.40h-3.61zM491.64 368.85h3.61v10.40h-3.61zM501.42 399.00h3.61v10.40h-3.61zM511.20 399.00h3.61v10.40h-3.61z"/>
<path fill="#ea9999" d="M155.86 358.80h3.61v10.40h-3.61z"/>
<path fill="#c3c9ea" d="M155.86 409.05h3.61v10.40h-3.61zM204.76 459.30h3.61v10.40h-3.61zM309.08 449.25h3.61v10.40h-3.61zM338.42 459.30h3.61v10.40h-3.61zM406.88 449.25h3.61v10.40h-3.61zM423.18 409.05h3.61v10.40h-3.61zM426.44 368.85h3.61v10.40h-3.61zM436.22 419.10h3.61v10.40h-3.61zM439.48 368.85h3.61v10.40h-3.61zM442.74 409.05h3.61v10.40h-3.61zM459.04 368.85h3.61v10.40h-3.61zM472.08 419.10h3.61v10.40h-3.61zM481.86 368.85h3.61v10.40h-3.61zM501.42 378.90h3.61v10.40h-3.61zM501.42 388.95h3.61v10.40h-3.61zM507.94 378.90h3.61v10.40h-3.61zM507.94 388.95h3.61v10.40h-3.61z"/>
<path fill="#bac0e7" d="M155.86 419.10h3.61v10.40h-3.61zM155.86 429.15h3.61v10.40h-3.61zM221.06 399.00h3.61v10.40h-3.61zM432.96 368.85h3.61v10.40h-3.61zM439.48 409.05h3.61v10.40h-3.61zM446.00 419.10h3.61v10.40h-3.61zM465.56 409.05h3.61v10.40h-3.61zM468.82 409.05h3.61v10.40h-3.61zM481.86 419.10h3.61v10.40h-3.61zM511.20 378.90h3.61v10.40h-3.61zM511.20 388.95h3.61v10.40h-3.61z"/>
<path fill="#c9cfed" d="M155.86 439.20h3.61v10.40h-3.61zM175.42 419.10h3.61v10.40h-3.61zM175.42 429.15h3.61v10.40h-3.61zM341.68 459.30h3.61v10.40h-3.61zM410.14 439.20h3.61v10.40h-3.61zM413.40 439.20h3.61v10.40h-3.61zM465.56 368.85h3.61v10.40h-3.61zM468.82 368.85h3.61v10.40h-3.61zM475.34 368.85h3.61v10.40h-3.61z"/>
<path fill="#78181e" d="M162.38 358.80h3.61v10.40h-3.61zM162.38 368.85h3.61v10.40h-3.61zM172.16 378.90h3.61v10.40h-3.61zM224.32 358.80h3.61v10.40h-3.61zM224.32 368.85h3.61v10.40h-3.61z"/>
<path fill="#81181e" d="M162.38 378.90h3.61v10.40h-3.61zM221.06 358.80h3.61v10.40h-3.61zM221.06 368.85h3.61v10.40h-3.61zM224.32 378.90h3.61v10.40h-3.61zM230.84 358.80h3.61v10.40h-3.61zM230.84 368.85h3.61v10.40h-3.61z"/>
<path fill="#a81e21" d="M162.38 388.95h3.61v10.40h-3.61zM224.32 388.95h3.61v10.40h-3.61z"/>
<path fill="#db3636" d="M162.38 399.00h3.61v10.40h-3.61zM172.16 399.00h3.61v10.40h-3.61zM188.46 358.80h3.61v10.40h-3.61zM188.46 368.85h3.61v10.40h-3.61zM224.32 399.00h3.61v10.40h-3.61zM328.64 358.80h3.61v10.40h-3.61zM361.24 358.80h3.61v10.40h-3.61zM374.28 358.80h3.61v10.40h-3.61zM380.80 358.80h3.61v10.40h-3.61zM413.40 358.80h3.61v10.40h-3.61z"/>
<path fill="#c6cced" d="M162.38 409.05h3.61v10.40h-3.61zM162.38 439.20h3.61v10.40h-3.61zM227.58 459.30h3.61v10.40h-3.61zM230.84 459.30h3.61v10.40h-3.61zM472.08 368.85h3.61v10.40h-3.61zM514.46 378.90h3.61v10.40h-3.61zM514.46 388.95h3.61v10.40h-3.61z"/>
<path fill="#c0c6ea" d="M162.38 419.10h3.61v10.40h-3.61zM162.38 429.15h3.61v10.40h-3.61zM194.98 388.95h3.61v10.40h-3.61zM230.84 399.00h3.61v10.40h-3.61zM256.92 459.30h3.61v10.40h-3.61zM286.26 449.25h3.61v10.40h-3.61zM305.82 449.25h3.61v10.40h-3.61zM318.86 449.25h3.61v10.40h-3.61zM423.18 368.85h3.61v10.40h-3.61zM436.22 368.85h3.61v10.40h-3.61zM452.52 368.85h3.61v10.40h-3.61zM488.38 409.05h3.61v10.40h-3.61zM504.68 399.00h3.61v10.40h-3.61z"/>
<path fill="#d2d8f0" d="M162.38 449.25h3.61v10.40h-3.61zM181.94 378.90h3.61v10.40h-3.61zM478.60 368.85h3.61v10.40h-3.61zM478.60 409.05h3.61v10.40h-3.61zM507.94 399.00h3.61v10.40h-3.61z"/>
<path fill="#e7eaf6" d="M162.38 459.30h3.61v10.40h-3.61zM527.50 368.85h3.61v10.40h-3.61z"/>
<path fill="#de4b4b" d="M165.64 358.80h3.61v10.40h-3.61zM165.64 368.85h3.61v10.40h-3.61z"/>
<path fill="#e15d5d" d="M165.64 378.90h3.61v10.40h-3.61zM178.68 388.95h3.61v10.40h-3.61zM214.54 388.95h3.61v10.40h-3.61z"/>
<path fill="#e77878" d="M165.64 388.95h3.61v10.40h-3.61z"/>
<path fill="#96a2db" d="M165.64 409.05h3.61v10.40h-3.61zM165.64 439.20h3.61v10.40h-3.61zM393.84 429.15h3.61v10.40h-3.61zM423.18 378.90h3.61v10.40h-3.61zM439.48 378.90h3.61v10.40h-3.61zM439.48 388.95h3.61v10.40h-3.61zM439.48 399.00h3.61v10.40h-3.61z"/>
<path fill="#8d99d8" d="M165.64 419.10h3.61v10.40h-3.61zM165.64 429.15h3.61v10.40h-3.61zM172.16 419.10h3.61v10.40h-3.61zM172.16 429.15h3.61v10.40h-3.61zM266.70 449.25h3.61v10.40h-3.61zM276.48 449.25h3.61v10.40h-3.61zM309.08 429.15h3.61v10.40h-3.61zM364.50 439.20h3.61v10.40h-3.61zM446.00 378.90h3.61v10.40h-3.61zM446.00 388.95h3.61v10.40h-3.61zM446.00 399.00h3.61v10.40h-3.61z"/>
<path fill="#a8b1e4" d="M165.64 449.25h3.61v10.40h-3.61zM172.16 449.25h3.61v10.40h-3.61zM269.96 409.05h3.61v10.40h-3.61zM269.96 419.10h3.61v10.40h-3.61zM269.96 429.15h3.61v10.40h-3.61zM380.80 449.25h3.61v10.40h-3.61zM494.90 378.90h3.61v10.40h-3.61zM494.90 388.95h3.61v10.40h-3.61zM498.16 378.90h3.61v10.40h-3.61zM498.16 388.95h3.61v10.40h-3.61z"/>
<path fill="#d2d5f0" d="M168.90 419.10h3.61v10.40h-3.61zM168.90 429.15h3.61v10.40h-3.61zM181.94 459.30h3.61v10.40h-3.61zM315.60 459.30h3.61v10.40h-3.61zM357.98 449.25h3.61v10.40h-3.61zM452.52 429.15h3.61v10.40h-3.61zM459.04 429.15h3.61v10.40h-3.61zM488.38 419.10h3.61v10.40h-3.61zM520.98 378.90h3.61v10.40h-3.61zM520.98 388.95h3.61v10.40h-3.61z"/>
<path fill="#6f181e" d="M172.16 358.80h3.61v10.40h-3.61zM172.16 368.85h3.61v10.40h-3.61z"/>
<path fill="#961b21" d="M172.16 388.95h3.61v10.40h-3.61z"/>
<path fill="#969fdb" d="M172.16 409.05h3.61v10.40h-3.61zM172.16 439.20h3.61v10.40h-3.61zM351.46 449.25h3.61v10.40h-3.61zM406.88 439.20h3.61v10.40h-3.61zM423.18 388.95h3.61v10.40h-3.61zM423.18 399.00h3.61v10.40h-3.61zM426.44 378.90h3.61v10.40h-3.61zM426.44 388.95h3.61v10.40h-3.61zM426.44 399.00h3.61v10.40h-3.61zM481.86 378.90h3.61v10.40h-3.61zM481.86 388.95h3.61v10.40h-3.61zM481.86 399.00h3.61v10.40h-3.61z"/>
<path fill="#e46c6c" d="M175.42 358.80h3.61v10.40h-3.61zM175.42 368.85h3.61v10.40h-3.61zM237.36 358.80h3.61v10.40h-3.61zM237.36 368.85h3.61v10.40h-3.61z"/>
<path fill="#e77b7b" d="M175.42 378.90h3.61v10.40h-3.61zM185.20 358.80h3.61v10.40h-3.61zM185.20 368.85h3.61v10.40h-3.61zM237.36 378.90h3.61v10.40h-3.61z"/>
<path fill="#ea9090" d="M175.42 388.95h3.61v10.40h-3.61zM237.36 388.95h3.61v10.40h-3.61z"/>
<path fill="#cfd2ed" d="M175.42 409.05h3.61v10.40h-3.61zM175.42 439.20h3.61v10.40h-3.61zM181.94 358.80h3.61v10.40h-3.61zM181.94 368.85h3.61v10.40h-3.61zM351.46 459.30h3.61v10.40h-3.61zM387.32 449.25h3.61v10.40h-3.61zM426.44 419.10h3.61v10.40h-3.61zM446.00 429.15h3.61v10.40h-3.61zM488.38 368.85h3.61v10.40h-3.61zM494.90 368.85h3.61v10.40h-3.61zM494.90 409.05h3.61v10.40h-3.61zM498.16 368.85h3.61v10.40h-3.61zM504.68 368.85h3.61v10.40h-3.61zM517.72 378.90h3.61v10.40h-3.61zM517.72 388.95h3.61v10.40h-3.61z"/>
<path fill="#edeaf6" d="M175.42 459.30h3.61v10.40h-3.61zM534.02 368.85h3.61v10.40h-3.61z"/>
<path fill="#d83030" d="M178.68 358.80h3.61v10.40h-3.61zM178.68 368.85h3.61v10.40h-3.61zM214.54 358.80h3.61v10.40h-3.61zM214.54 368.85h3.61v10.40h-3.61zM305.82 368.85h3.61v10.40h-3.61zM338.42 368.85h3.61v10.40h-3.61zM390.58 368.85h3.61v10.40h-3.61zM419.92 368.85h3.61v10.40h-3.61zM419.92 409.05h3.61v10.40h-3.61zM419.92 419.10h3.61v10.40h-3.61zM419.92 429.15h3.61v10.40h-3.61zM419.92 439.20h3.61v10.40h-3.61z"/>
<path fill="#db4242" d="M178.68 378.90h3.61v10.40h-3.61zM214.54 378.90h3.61v10.40h-3.61z"/>
<path fill="#c3c6ea" d="M178.68 409.05h3.61v10.40h-3.61zM178.68 439.20h3.61v10.40h-3.61zM485.12 368.85h3.61v10.40h-3.61z"/>
<path fill="#bdc3ea" d="M178.68 419.10h3.61v10.40h-3.61zM178.68 429.15h3.61v10.40h-3.61zM188.46 449.25h3.61v10.40h-3.61zM217.80 399.00h3.61v10.40h-3.61zM377.54 449.25h3.61v10.40h-3.61zM426.44 409.05h3.61v10.40h-3.61zM446.00 368.85h3.61v10.40h-3.61zM452.52 419.10h3.61v10.40h-3.61zM459.04 419.10h3.61v10.40h-3.61zM491.64 409.05h3.61v10.40h-3.61z"/>
<path fill="#cfd5ed" d="M178.68 449.25h3.61v10.40h-3.61zM348.20 459.30h3.61v10.40h-3.61zM397.10 449.25h3.61v10.40h-3.61zM491.64 419.10h3.61v10.40h-3.61zM524.24 378.90h3.61v10.40h-3.61zM524.24 388.95h3.61v10.40h-3.61z"/>
<path fill="#8a96d8" d="M181.94 409.05h3.61v10.40h-3.61zM181.94 439.20h3.61v10.40h-3.61zM292.78 449.25h3.61v10.40h-3.61zM305.82 429.15h3.61v10.40h-3.61zM312.34 449.25h3.61v10.40h-3.61zM410.14 419.10h3.61v10.40h-3.61zM432.96 378.90h3.61v10.40h-3.61zM432.96 388.95h3.61v10.40h-3.61zM432.96 399.00h3.61v10.40h-3.61z"/>
<path fill="#818dd5" d="M181.94 419.10h3.61v10.40h-3.61zM181.94 429.15h3.61v10.40h-3.61zM194.98 409.05h3.61v10.40h-3.61zM194.98 439.20h3.61v10.40h-3.61zM338.42 449.25h3.61v10.40h-3.61z"/>
<path fill="#9fa8e1" d="M181.94 449.25h3.61v10.40h-3.61zM305.82 439.20h3.61v10.40h-3.61zM432.96 409.05h3.61v10.40h-3.61z"/>
<path fill="#e78a8a" d="M185.20 378.90h3.61v10.40h-3.61z"/>
<path fill="#a2abe1" d="M185.20 409.05h3.61v10.40h-3.61zM185.20 439.20h3.61v10.40h-3.61zM247.14 449.25h3.61v10.40h-3.61zM309.08 439.20h3.61v10.40h-3.61zM325.38 449.25h3.61v10.40h-3.61zM354.72 449.25h3.61v10.40h-3.61zM446.00 409.05h3.61v10.40h-3.61zM462.30 378.90h3.61v10.40h-3.61zM462.30 388.95h3.61v10.40h-3.61zM462.30 399.00h3.61v10.40h-3.61zM481.86 409.05h3.61v10.40h-3.61zM491.64 378.90h3.61v10.40h-3.61zM491.64 388.95h3.61v10.40h-3.61z"/>
<path fill="#9ca5de" d="M185.20 419.10h3.61v10.40h-3.61zM185.20 429.15h3.61v10.40h-3.61zM315.60 449.25h3.61v10.40h-3.61zM322.12 368.85h3.61v10.40h-3.61zM344.94 368.85h3.61v10.40h-3.61zM344.94 449.25h3.61v10.40h-3.61zM357.98 429.15h3.61v10.40h-3.61zM390.58 439.20h3.61v10.40h-3.61zM442.74 378.90h3.61v10.40h-3.61zM442.74 388.95h3.61v10.40h-3.61zM442.74 399.00h3.61v10.40h-3.61zM465.56 378.90h3.61v10.40h-3.61zM465.56 388.95h3.61v10.40h-3.61zM465.56 399.00h3.61v10.40h-3.61zM468.82 378.90h3.61v10.40h-3.61zM468.82 388.95h3.61v10.40h-3.61zM468.82 399.00h3.61v10.40h-3.61zM475.34 378.90h3.61v10.40h-3.61zM475.34 388.95h3.61v10.40h-3.61zM475.34 399.00h3.61v10.40h-3.61z"/>
<path fill="#b4bde7" d="M185.20 449.25h3.61v10.40h-3.61zM296.04 449.25h3.61v10.40h-3.61zM449.26 378.90h3.61v10.40h-3.61zM449.26 388.95h3.61v10.40h-3.61zM449.26 399.00h3.61v10.40h-3.61z"/>
<path fill="#de4848" d="M188.46 378.90h3.61v10.40h-3.61z"/>
<path fill="#e46666" d="M188.46 388.95h3.61v10.40h-3.61z"/>
<path fill="#abb1e4" d="M188.46 409.05h3.61v10.40h-3.61zM188.46 439.20h3.61v10.40h-3.61zM194.98 358.80h3.61v10.40h-3.61zM194.98 368.85h3.61v10.40h-3.61zM312.34 358.80h3.61v10.40h-3.61zM357.98 358.80h3.61v10.40h-3.61zM364.50 358.80h3.61v10.40h-3.61zM384.06 358.80h3.61v10.40h-3.61zM387.32 358.80h3.61v10.40h-3.61zM413.40 429.15h3.61v10.40h-3.61zM478.60 378.90h3.61v10.40h-3.61zM478.60 388.95h3.61v10.40h-3.61zM478.60 399.00h3.61v10.40h-3.61z"/>
<path fill="#a5aee1" d="M188.46 419.10h3.61v10.40h-3.61zM188.46 429.15h3.61v10.40h-3.61zM322.12 449.25h3.61v10.40h-3.61zM328.64 449.25h3.61v10.40h-3.61zM361.24 449.25h3.61v10.40h-3.61zM459.04 409.05h3.61v10.40h-3.61zM488.38 378.90h3.61v10.40h-3.61zM488.38 388.95h3.61v10.40h-3.61zM488.38 399.00h3.61v10.40h-3.61zM491.64 399.00h3.61v10.40h-3.61z"/>
<path fill="#9fa8de" d="M191.72 409.05h3.61v10.40h-3.61zM191.72 439.20h3.61v10.40h-3.61zM198.24 449.25h3.61v10.40h-3.61zM318.86 439.20h3.61v10.40h-3.61z"/>
<path fill="#99a2de" d="M191.72 419.10h3.61v10.40h-3.61zM191.72 429.15h3.61v10.40h-3.61zM194.98 449.25h3.61v10.40h-3.61zM208.02 449.25h3.61v10.40h-3.61zM384.06 439.20h3.61v10.40h-3.61zM472.08 378.90h3.61v10.40h-3.61zM472.08 388.95h3.61v10.40h-3.61zM472.08 399.00h3.61v10.40h-3.61zM485.12 409.05h3.61v10.40h-3.61z"/>
<path fill="#b1bae7" d="M191.72 449.25h3.61v10.40h-3.61zM357.98 439.20h3.61v10.40h-3.61zM429.70 378.90h3.61v10.40h-3.61zM429.70 388.95h3.61v10.40h-3.61zM429.70 399.00h3.61v10.40h-3.61zM498.16 399.00h3.61v10.40h-3.61z"/>
<path fill="#b4bae7" d="M194.98 378.90h3.61v10.40h-3.61zM416.66 368.85h3.61v10.40h-3.61z"/>
<path fill="#7b87d2" d="M194.98 419.10h3.61v10.40h-3.61zM194.98 429.15h3.61v10.40h-3.61zM328.64 439.20h3.61v10.40h-3.61zM384.06 429.15h3.61v10.40h-3.61z"/>
<path fill="#d2d5ed" d="M194.98 459.30h3.61v10.40h-3.61zM204.76 399.00h3.61v10.40h-3.61zM481.86 429.15h3.61v10.40h-3.61z"/>
<path fill="#8793d5" d="M198.24 409.05h3.61v10.40h-3.61zM198.24 439.20h3.61v10.40h-3.61zM211.28 449.25h3.61v10.40h-3.61zM273.22 449.25h3.61v10.40h-3.61zM318.86 429.15h3.61v10.40h-3.61z"/>
<path fill="#818dd2" d="M198.24 419.10h3.61v10.40h-3.61zM198.24 429.15h3.61v10.40h-3.61zM286.26 439.20h3.61v10.40h-3.61z"/>
<path fill="#e7e7f6" d="M201.50 419.10h3.61v10.40h-3.61zM201.50 429.15h3.61v10.40h-3.61z"/>
<path fill="#b41e24" d="M204.76 358.80h3.61v10.40h-3.61zM204.76 368.85h3.61v10.40h-3.61z"/>
<path fill="#c32124" d="M204.76 378.90h3.61v10.40h-3.61z"/>
<path fill="#d82d2d" d="M204.76 388.95h3.61v10.40h-3.61z"/>
<path fill="#5163c0" d="M204.76 409.05h3.61v10.40h-3.61zM204.76 439.20h3.61v10.40h-3.61zM380.80 429.15h3.61v10.40h-3.61zM393.84 409.05h3.61v10.40h-3.61z"/>
<path fill="#485dba" d="M204.76 419.10h3.61v10.40h-3.61zM204.76 429.15h3.61v10.40h-3.61z"/>
<path fill="#6978c9" d="M204.76 449.25h3.61v10.40h-3.61zM211.28 409.05h3.61v10.40h-3.61zM211.28 439.20h3.61v10.40h-3.61zM371.02 378.90h3.61v10.40h-3.61zM406.88 429.15h3.61v10.40h-3.61z"/>
<path fill="#394bb1" d="M208.02 358.80h3.61v10.40h-3.61zM208.02 368.85h3.61v10.40h-3.61zM221.06 409.05h3.61v10.40h-3.61zM221.06 439.20h3.61v10.40h-3.61zM266.70 409.05h3.61v10.40h-3.61zM266.70 419.10h3.61v10.40h-3.61zM266.70 429.15h3.61v10.40h-3.61zM273.22 439.20h3.61v10.40h-3.61zM276.48 409.05h3.61v10.40h-3.61zM276.48 419.10h3.61v10.40h-3.61zM276.48 429.15h3.61v10.40h-3.61zM312.34 378.90h3.61v10.40h-3.61zM318.86 399.00h3.61v10.40h-3.61zM325.38 409.05h3.61v10.40h-3.61zM344.94 419.10h3.61v10.40h-3.61zM390.58 409.05h3.61v10.40h-3.61zM400.36 388.95h3.61v10.40h-3.61zM403.62 388.95h3.61v10.40h-3.61z"/>
<path fill="#4254b7" d="M208.02 378.90h3.61v10.40h-3.61zM224.32 449.25h3.61v10.40h-3.61zM234.10 449.25h3.61v10.40h-3.61zM312.34 429.15h3.61v10.40h-3.61zM315.60 419.10h3.61v10.40h-3.61zM397.10 409.05h3.61v10.40h-3.61zM406.88 419.10h3.61v10.40h-3.61z"/>
<path fill="#5466c0" d="M208.02 388.95h3.61v10.40h-3.61zM247.14 439.20h3.61v10.40h-3.61zM302.56 368.85h3.61v10.40h-3.61zM315.60 368.85h3.61v10.40h-3.61zM318.86 368.85h3.61v10.40h-3.61zM331.90 368.85h3.61v10.40h-3.61zM341.68 368.85h3.61v10.40h-3.61zM348.20 368.85h3.61v10.40h-3.61zM354.72 429.15h3.61v10.40h-3.61zM357.98 368.85h3.61v10.40h-3.61zM361.24 368.85h3.61v10.40h-3.61zM367.76 399.00h3.61v10.40h-3.61zM371.02 368.85h3.61v10.40h-3.61zM371.02 399.00h3.61v10.40h-3.61zM380.80 368.85h3.61v10.40h-3.61zM384.06 419.10h3.61v10.40h-3.61zM397.10 368.85h3.61v10.40h-3.61zM403.62 368.85h3.61v10.40h-3.61zM406.88 368.85h3.61v10.40h-3.61z"/>
<path fill="#7e8ad2" d="M208.02 409.05h3.61v10.40h-3.61zM208.02 439.20h3.61v10.40h-3.61z"/>
<path fill="#7584cf" d="M208.02 419.10h3.61v10.40h-3.61zM208.02 429.15h3.61v10.40h-3.61zM305.82 419.10h3.61v10.40h-3.61z"/>
<path fill="#606fc6" d="M211.28 419.10h3.61v10.40h-3.61zM211.28 429.15h3.61v10.40h-3.61zM227.58 449.25h3.61v10.40h-3.61zM230.84 449.25h3.61v10.40h-3.61zM256.92 449.25h3.61v10.40h-3.61zM318.86 409.05h3.61v10.40h-3.61zM322.12 429.15h3.61v10.40h-3.61zM331.90 439.20h3.61v10.40h-3.61zM351.46 439.20h3.61v10.40h-3.61z"/>
<path fill="#6675c9" d="M214.54 409.05h3.61v10.40h-3.61zM214.54 439.20h3.61v10.40h-3.61zM305.82 409.05h3.61v10.40h-3.61zM357.98 409.05h3.61v10.40h-3.61zM374.28 429.15h3.61v10.40h-3.61zM400.36 419.10h3.61v10.40h-3.61zM410.14 409.05h3.61v10.40h-3.61zM413.40 409.05h3.61v10.40h-3.61z"/>
<path fill="#5d6fc6" d="M214.54 419.10h3.61v10.40h-3.61zM214.54 429.15h3.61v10.40h-3.61zM328.64 429.15h3.61v10.40h-3.61zM413.40 378.90h3.61v10.40h-3.61z"/>
<path fill="#8490d5" d="M214.54 449.25h3.61v10.40h-3.61z"/>
<path fill="#394bae" d="M217.80 409.05h3.61v10.40h-3.61zM217.80 439.20h3.61v10.40h-3.61zM331.90 378.90h3.61v10.40h-3.61zM338.42 429.15h3.61v10.40h-3.61zM344.94 378.90h3.61v10.40h-3.61zM354.72 378.90h3.61v10.40h-3.61zM361.24 378.90h3.61v10.40h-3.61zM377.54 409.05h3.61v10.40h-3.61zM393.84 399.00h3.61v10.40h-3.61zM400.36 399.00h3.61v10.40h-3.61zM403.62 399.00h3.61v10.40h-3.61z"/>
<path fill="#3345a8" d="M217.80 419.10h3.61v10.40h-3.61zM217.80 429.15h3.61v10.40h-3.61zM224.32 409.05h3.61v10.40h-3.61zM224.32 439.20h3.61v10.40h-3.61zM243.88 409.05h3.61v10.40h-3.61zM243.88 439.20h3.61v10.40h-3.61zM315.60 388.95h3.61v10.40h-3.61zM322.12 399.00h3.61v10.40h-3.61zM325.38 388.95h3.61v10.40h-3.61zM328.64 388.95h3.61v10.40h-3.61zM335.16 409.05h3.61v10.40h-3.61zM364.50 388.95h3.61v10.40h-3.61zM377.54 388.95h3.61v10.40h-3.61zM384.06 399.00h3.61v10.40h-3.61zM390.58 388.95h3.61v10.40h-3.61z"/>
<path fill="#4e5dbd" d="M217.80 449.25h3.61v10.40h-3.61z"/>
<path fill="#b7bde7" d="M217.80 459.30h3.61v10.40h-3.61zM221.06 459.30h3.61v10.40h-3.61zM374.28 449.25h3.61v10.40h-3.61zM432.96 419.10h3.61v10.40h-3.61zM455.78 378.90h3.61v10.40h-3.61zM455.78 388.95h3.61v10.40h-3.61zM455.78 399.00h3.61v10.40h-3.61zM475.34 409.05h3.61v10.40h-3.61z"/>
<path fill="#991b21" d="M221.06 378.90h3.61v10.40h-3.61zM230.84 378.90h3.61v10.40h-3.61z"/>
<path fill="#ba2124" d="M221.06 388.95h3.61v10.40h-3.61zM230.84 388.95h3.61v10.40h-3.61z"/>
<path fill="#3645ab" d="M221.06 419.10h3.61v10.40h-3.61zM221.06 429.15h3.61v10.40h-3.61zM331.90 419.10h3.61v10.40h-3.61zM341.68 378.90h3.61v10.40h-3.61zM374.28 409.05h3.61v10.40h-3.61zM380.80 419.10h3.61v10.40h-3.61z"/>
<path fill="#4e60bd" d="M221.06 449.25h3.61v10.40h-3.61zM230.84 409.05h3.61v10.40h-3.61zM230.84 439.20h3.61v10.40h-3.61zM247.14 409.05h3.61v10.40h-3.61zM247.14 419.10h3.61v10.40h-3.61zM247.14 429.15h3.61v10.40h-3.61zM318.86 378.90h3.61v10.40h-3.61zM338.42 439.20h3.61v10.40h-3.61zM357.98 378.90h3.61v10.40h-3.61zM364.50 419.10h3.61v10.40h-3.61zM377.54 419.10h3.61v10.40h-3.61z"/>
<path fill="#303fa5" d="M224.32 419.10h3.61v10.40h-3.61zM224.32 429.15h3.61v10.40h-3.61zM354.72 409.05h3.61v10.40h-3.61zM374.28 399.00h3.61v10.40h-3.61z"/>
<path fill="#b1b7e7" d="M224.32 459.30h3.61v10.40h-3.61zM234.10 459.30h3.61v10.40h-3.61zM393.84 439.20h3.61v10.40h-3.61zM485.12 419.10h3.61v10.40h-3.61z"/>
<path fill="#1e246f" d="M227.58 358.80h3.61v10.40h-3.61zM227.58 368.85h3.61v10.40h-3.61zM234.10 358.80h3.61v10.40h-3.61zM234.10 368.85h3.61v10.40h-3.61zM243.88 358.80h3.61v10.40h-3.61zM243.88 368.85h3.61v10.40h-3.61zM296.04 358.80h3.61v10.40h-3.61zM296.04 368.85h3.61v10.40h-3.61zM296.04 378.90h3.61v10.40h-3.61zM296.04 388.95h3.61v10.40h-3.61zM296.04 399.00h3.61v10.40h-3.61z"/>
<path fill="#212a7e" d="M227.58 378.90h3.61v10.40h-3.61zM234.10 378.90h3.61v10.40h-3.61zM243.88 378.90h3.61v10.40h-3.61z"/>
<path fill="#273693" d="M227.58 388.95h3.61v10.40h-3.61zM234.10 388.95h3.61v10.40h-3.61zM240.62 358.80h3.61v10.40h-3.61zM240.62 368.85h3.61v10.40h-3.61zM243.88 388.95h3.61v10.40h-3.61zM338.42 399.00h3.61v10.40h-3.61zM380.80 409.05h3.61v10.40h-3.61z"/>
<path fill="#242d87" d="M227.58 399.00h3.61v10.40h-3.61zM234.10 399.00h3.61v10.40h-3.61zM240.62 399.00h3.61v10.40h-3.61zM243.88 399.00h3.61v10.40h-3.61z"/>
<path fill="#4b5dbd" d="M227.58 409.05h3.61v10.40h-3.61zM227.58 439.20h3.61v10.40h-3.61zM322.12 419.10h3.61v10.40h-3.61z"/>
<path fill="#4557b7" d="M227.58 419.10h3.61v10.40h-3.61zM227.58 429.15h3.61v10.40h-3.61zM289.52 439.20h3.61v10.40h-3.61zM351.46 429.15h3.61v10.40h-3.61z"/>
<path fill="#4557ba" d="M230.84 419.10h3.61v10.40h-3.61zM230.84 429.15h3.61v10.40h-3.61zM331.90 429.15h3.61v10.40h-3.61z"/>
<path fill="#3648ab" d="M234.10 409.05h3.61v10.40h-3.61zM234.10 439.20h3.61v10.40h-3.61zM273.22 409.05h3.61v10.40h-3.61zM273.22 419.10h3.61v10.40h-3.61zM273.22 429.15h3.61v10.40h-3.61zM312.34 419.10h3.61v10.40h-3.61zM322.12 388.95h3.61v10.40h-3.61zM348.20 378.90h3.61v10.40h-3.61zM351.46 378.90h3.61v10.40h-3.61zM387.32 399.00h3.61v10.40h-3.61zM397.10 399.00h3.61v10.40h-3.61z"/>
<path fill="#3042a5" d="M234.10 419.10h3.61v10.40h-3.61zM234.10 429.15h3.61v10.40h-3.61zM283.00 439.20h3.61v10.40h-3.61zM299.30 439.20h3.61v10.40h-3.61zM315.60 399.00h3.61v10.40h-3.61zM335.16 388.95h3.61v10.40h-3.61zM406.88 388.95h3.61v10.40h-3.61zM406.88 399.00h3.61v10.40h-3.61z"/>
<path fill="#dedef0" d="M237.36 409.05h3.61v10.40h-3.61zM237.36 439.20h3.61v10.40h-3.61zM432.96 358.80h3.61v10.40h-3.61zM468.82 429.15h3.61v10.40h-3.61zM514.46 368.85h3.61v10.40h-3.61z"/>
<path fill="#2d3c9f" d="M240.62 378.90h3.61v10.40h-3.61zM299.30 409.05h3.61v10.40h-3.61zM299.30 419.10h3.61v10.40h-3.61zM299.30 429.15h3.61v10.40h-3.61zM302.56 388.95h3.61v10.40h-3.61zM302.56 399.00h3.61v10.40h-3.61zM312.34 399.00h3.61v10.40h-3.61zM331.90 399.00h3.61v10.40h-3.61zM331.90 409.05h3.61v10.40h-3.61zM344.94 399.00h3.61v10.40h-3.61zM348.20 388.95h3.61v10.40h-3.61zM361.24 399.00h3.61v10.40h-3.61z"/>
<path fill="#3648ae" d="M240.62 388.95h3.61v10.40h-3.61zM292.78 409.05h3.61v10.40h-3.61zM292.78 419.10h3.61v10.40h-3.61zM292.78 429.15h3.61v10.40h-3.61zM397.10 388.95h3.61v10.40h-3.61z"/>
<path fill="#3342a8" d="M240.62 409.05h3.61v10.40h-3.61zM240.62 439.20h3.61v10.40h-3.61zM328.64 399.00h3.61v10.40h-3.61zM351.46 419.10h3.61v10.40h-3.61zM364.50 399.00h3.61v10.40h-3.61zM390.58 399.00h3.61v10.40h-3.61z"/>
<path fill="#303fa2" d="M240.62 419.10h3.61v10.40h-3.61zM240.62 429.15h3.61v10.40h-3.61zM243.88 419.10h3.61v10.40h-3.61zM243.88 429.15h3.61v10.40h-3.61zM312.34 388.95h3.61v10.40h-3.61zM335.16 399.00h3.61v10.40h-3.61zM341.68 419.10h3.61v10.40h-3.61zM344.94 388.95h3.61v10.40h-3.61zM344.94 409.05h3.61v10.40h-3.61zM354.72 388.95h3.61v10.40h-3.61zM361.24 388.95h3.61v10.40h-3.61zM361.24 409.05h3.61v10.40h-3.61zM406.88 409.05h3.61v10.40h-3.61z"/>
<path fill="#3c51b4" d="M240.62 449.25h3.61v10.40h-3.61zM243.88 449.25h3.61v10.40h-3.61zM266.70 439.20h3.61v10.40h-3.61zM276.48 439.20h3.61v10.40h-3.61zM289.52 409.05h3.61v10.40h-3.61zM289.52 419.10h3.61v10.40h-3.61zM289.52 429.15h3.61v10.40h-3.61zM305.82 388.95h3.61v10.40h-3.61zM309.08 388.95h3.61v10.40h-3.61zM315.60 378.90h3.61v10.40h-3.61zM322.12 409.05h3.61v10.40h-3.61zM341.68 429.15h3.61v10.40h-3.61zM357.98 388.95h3.61v10.40h-3.61zM364.50 378.90h3.61v10.40h-3.61zM384.06 378.90h3.61v10.40h-3.61z"/>
<path fill="#aeb4e4" d="M240.62 459.30h3.61v10.40h-3.61zM243.88 459.30h3.61v10.40h-3.61zM436.22 409.05h3.61v10.40h-3.61zM472.08 409.05h3.61v10.40h-3.61zM494.90 399.00h3.61v10.40h-3.61z"/>
<path fill="#1e2166" d="M247.14 358.80h3.61v10.40h-3.61zM247.14 368.85h3.61v10.40h-3.61zM247.14 378.90h3.61v10.40h-3.61zM247.14 388.95h3.61v10.40h-3.61zM247.14 399.00h3.61v10.40h-3.61z"/>
<path fill="#1b1e5a" d="M250.40 358.80h3.61v10.40h-3.61zM250.40 368.85h3.61v10.40h-3.61zM250.40 378.90h3.61v10.40h-3.61zM250.40 388.95h3.61v10.40h-3.61zM250.40 399.00h3.61v10.40h-3.61z"/>
<path fill="#394eb1" d="M250.40 409.05h3.61v10.40h-3.61zM250.40 419.10h3.61v10.40h-3.61zM250.40 429.15h3.61v10.40h-3.61zM263.44 409.05h3.61v10.40h-3.61zM263.44 419.10h3.61v10.40h-3.61zM263.44 429.15h3.61v10.40h-3.61zM292.78 439.20h3.61v10.40h-3.61zM305.82 399.00h3.61v10.40h-3.61zM309.08 399.00h3.61v10.40h-3.61zM328.64 409.05h3.61v10.40h-3.61zM335.16 378.90h3.61v10.40h-3.61zM354.72 419.10h3.61v10.40h-3.61zM357.98 399.00h3.61v10.40h-3.61zM361.24 419.10h3.61v10.40h-3.61zM364.50 409.05h3.61v10.40h-3.61zM374.28 378.90h3.61v10.40h-3.61zM384.06 409.05h3.61v10.40h-3.61zM393.84 388.95h3.61v10.40h-3.61zM406.88 378.90h3.61v10.40h-3.61z"/>
<path fill="#3f54b4" d="M250.40 439.20h3.61v10.40h-3.61z"/>
<path fill="#909cdb" d="M250.40 449.25h3.61v10.40h-3.61zM263.44 449.25h3.61v10.40h-3.61zM331.90 449.25h3.61v10.40h-3.61zM377.54 439.20h3.61v10.40h-3.61zM436.22 378.90h3.61v10.40h-3.61zM436.22 388.95h3.61v10.40h-3.61zM436.22 399.00h3.61v10.40h-3.61zM452.52 378.90h3.61v10.40h-3.61zM452.52 388.95h3.61v10.40h-3.61zM452.52 399.00h3.61v10.40h-3.61zM459.04 378.90h3.61v10.40h-3.61zM459.04 388.95h3.61v10.40h-3.61zM459.04 399.00h3.61v10.40h-3.61zM485.12 378.90h3.61v10.40h-3.61zM485.12 388.95h3.61v10.40h-3.61zM485.12 399.00h3.61v10.40h-3.61z"/>
<path fill="#1b1e5d" d="M253.66 358.80h3.61v10.40h-3.61zM253.66 368.85h3.61v10.40h-3.61zM253.66 378.90h3.61v10.40h-3.61zM253.66 388.95h3.61v10.40h-3.61zM253.66 399.00h3.61v10.40h-3.61zM263.44 358.80h3.61v10.40h-3.61zM263.44 368.85h3.61v10.40h-3.61zM263.44 378.90h3.61v10.40h-3.61zM263.44 388.95h3.61v10.40h-3.61zM263.44 399.00h3.61v10.40h-3.61zM289.52 358.80h3.61v10.40h-3.61zM289.52 368.85h3.61v10.40h-3.61zM289.52 378.90h3.61v10.40h-3.61zM289.52 388.95h3.61v10.40h-3.61zM289.52 399.00h3.61v10.40h-3.61z"/>
<path fill="#3c4eb1" d="M253.66 409.05h3.61v10.40h-3.61zM253.66 419.10h3.61v10.40h-3.61zM253.66 429.15h3.61v10.40h-3.61zM318.86 388.95h3.61v10.40h-3.61zM335.16 419.10h3.61v10.40h-3.61z"/>
<path fill="#3f54b7" d="M253.66 439.20h3.61v10.40h-3.61zM263.44 439.20h3.61v10.40h-3.61zM322.12 378.90h3.61v10.40h-3.61z"/>
<path fill="#939cdb" d="M253.66 449.25h3.61v10.40h-3.61zM400.36 429.15h3.61v10.40h-3.61z"/>
<path fill="#181851" d="M256.92 358.80h3.61v10.40h-3.61zM256.92 368.85h3.61v10.40h-3.61zM256.92 378.90h3.61v10.40h-3.61zM256.92 388.95h3.61v10.40h-3.61zM256.92 399.00h3.61v10.40h-3.61zM283.00 358.80h3.61v10.40h-3.61zM283.00 368.85h3.61v10.40h-3.61zM283.00 378.90h3.61v10.40h-3.61zM283.00 388.95h3.61v10.40h-3.61zM283.00 399.00h3.61v10.40h-3.61zM299.30 358.80h3.61v10.40h-3.61zM299.30 368.85h3.61v10.40h-3.61zM299.30 378.90h3.61v10.40h-3.61zM299.30 388.95h3.61v10.40h-3.61zM299.30 399.00h3.61v10.40h-3.61z"/>
<path fill="#24308a" d="M256.92 409.05h3.61v10.40h-3.61zM256.92 419.10h3.61v10.40h-3.61zM256.92 429.15h3.61v10.40h-3.61z"/>
<path fill="#273393" d="M256.92 439.20h3.61v10.40h-3.61zM341.68 409.05h3.61v10.40h-3.61z"/>
<path fill="#273390" d="M260.18 358.80h3.61v10.40h-3.61zM260.18 368.85h3.61v10.40h-3.61zM260.18 378.90h3.61v10.40h-3.61zM260.18 388.95h3.61v10.40h-3.61zM260.18 399.00h3.61v10.40h-3.61z"/>
<path fill="#1b1b5a" d="M266.70 358.80h3.61v10.40h-3.61zM266.70 368.85h3.61v10.40h-3.61zM266.70 378.90h3.61v10.40h-3.61zM266.70 388.95h3.61v10.40h-3.61zM266.70 399.00h3.61v10.40h-3.61zM276.48 358.80h3.61v10.40h-3.61zM276.48 368.85h3.61v10.40h-3.61zM276.48 378.90h3.61v10.40h-3.61zM276.48 388.95h3.61v10.40h-3.61zM276.48 399.00h3.61v10.40h-3.61z"/>
<path fill="#242d84" d="M269.96 358.80h3.61v10.40h-3.61zM269.96 368.85h3.61v10.40h-3.61zM269.96 378.90h3.61v10.40h-3.61zM269.96 388.95h3.61v10.40h-3.61zM269.96 399.00h3.61v10.40h-3.61z"/>
<path fill="#aeb7e4" d="M269.96 439.20h3.61v10.40h-3.61zM279.74 449.25h3.61v10.40h-3.61zM400.36 439.20h3.61v10.40h-3.61zM403.62 439.20h3.61v10.40h-3.61z"/>
<path fill="#1b1b57" d="M273.22 358.80h3.61v10.40h-3.61zM273.22 368.85h3.61v10.40h-3.61zM273.22 378.90h3.61v10.40h-3.61zM273.22 388.95h3.61v10.40h-3.61zM273.22 399.00h3.61v10.40h-3.61zM292.78 358.80h3.61v10.40h-3.61zM292.78 368.85h3.61v10.40h-3.61zM292.78 378.90h3.61v10.40h-3.61zM292.78 388.95h3.61v10.40h-3.61zM292.78 399.00h3.61v10.40h-3.61z"/>
<path fill="#1e216c" d="M279.74 358.80h3.61v10.40h-3.61zM279.74 368.85h3.61v10.40h-3.61zM279.74 378.90h3.61v10.40h-3.61zM279.74 388.95h3.61v10.40h-3.61zM279.74 399.00h3.61v10.40h-3.61z"/>
<path fill="#5d6cc6" d="M279.74 409.05h3.61v10.40h-3.61zM279.74 419.10h3.61v10.40h-3.61zM279.74 429.15h3.61v10.40h-3.61zM397.10 419.10h3.61v10.40h-3.61z"/>
<path fill="#6372c6" d="M279.74 439.20h3.61v10.40h-3.61zM348.20 439.20h3.61v10.40h-3.61z"/>
<path fill="#2d3ca2" d="M283.00 409.05h3.61v10.40h-3.61zM283.00 419.10h3.61v10.40h-3.61zM283.00 429.15h3.61v10.40h-3.61zM312.34 409.05h3.61v10.40h-3.61zM331.90 388.95h3.61v10.40h-3.61zM354.72 399.00h3.61v10.40h-3.61z"/>
<path fill="#7884cf" d="M283.00 449.25h3.61v10.40h-3.61zM309.08 419.10h3.61v10.40h-3.61zM325.38 439.20h3.61v10.40h-3.61z"/>
<path fill="#212775" d="M286.26 358.80h3.61v10.40h-3.61zM286.26 368.85h3.61v10.40h-3.61zM286.26 378.90h3.61v10.40h-3.61zM286.26 388.95h3.61v10.40h-3.61zM286.26 399.00h3.61v10.40h-3.61z"/>
<path fill="#7887cf" d="M286.26 409.05h3.61v10.40h-3.61zM286.26 419.10h3.61v10.40h-3.61zM286.26 429.15h3.61v10.40h-3.61z"/>
<path fill="#939fdb" d="M289.52 449.25h3.61v10.40h-3.61z"/>
<path fill="#6372c9" d="M296.04 409.05h3.61v10.40h-3.61zM296.04 419.10h3.61v10.40h-3.61zM296.04 429.15h3.61v10.40h-3.61zM309.08 358.80h3.61v10.40h-3.61zM344.94 358.80h3.61v10.40h-3.61zM371.02 358.80h3.61v10.40h-3.61zM397.10 358.80h3.61v10.40h-3.61zM403.62 358.80h3.61v10.40h-3.61z"/>
<path fill="#6c7bcc" d="M296.04 439.20h3.61v10.40h-3.61zM335.16 439.20h3.61v10.40h-3.61zM364.50 429.15h3.61v10.40h-3.61zM393.84 419.10h3.61v10.40h-3.61z"/>
<path fill="#7581cf" d="M299.30 449.25h3.61v10.40h-3.61zM361.24 439.20h3.61v10.40h-3.61z"/>
<path fill="#cccfed" d="M299.30 459.30h3.61v10.40h-3.61zM432.96 429.15h3.61v10.40h-3.61zM475.34 419.10h3.61v10.40h-3.61zM485.12 429.15h3.61v10.40h-3.61z"/>
<path fill="#2d3fa2" d="M302.56 378.90h3.61v10.40h-3.61z"/>
<path fill="#c92427" d="M305.82 358.80h3.61v10.40h-3.61zM338.42 358.80h3.61v10.40h-3.61zM390.58 358.80h3.61v10.40h-3.61zM419.92 358.80h3.61v10.40h-3.61z"/>
<path fill="#5163bd" d="M309.08 378.90h3.61v10.40h-3.61zM344.94 429.15h3.61v10.40h-3.61zM413.40 388.95h3.61v10.40h-3.61zM413.40 399.00h3.61v10.40h-3.61z"/>
<path fill="#6975c9" d="M309.08 409.05h3.61v10.40h-3.61zM367.76 378.90h3.61v10.40h-3.61z"/>
<path fill="#5a69c3" d="M312.34 439.20h3.61v10.40h-3.61zM341.68 439.20h3.61v10.40h-3.61zM410.14 378.90h3.61v10.40h-3.61z"/>
<path fill="#c9cced" d="M312.34 459.30h3.61v10.40h-3.61zM390.58 449.25h3.61v10.40h-3.61zM442.74 368.85h3.61v10.40h-3.61zM462.30 409.05h3.61v10.40h-3.61z"/>
<path fill="#364bae" d="M315.60 409.05h3.61v10.40h-3.61zM387.32 388.95h3.61v10.40h-3.61z"/>
<path fill="#5766c0" d="M315.60 429.15h3.61v10.40h-3.61zM361.24 429.15h3.61v10.40h-3.61z"/>
<path fill="#6f7bcc" d="M315.60 439.20h3.61v10.40h-3.61z"/>
<path fill="#6f7ecc" d="M318.86 419.10h3.61v10.40h-3.61zM377.54 429.15h3.61v10.40h-3.61zM380.80 439.20h3.61v10.40h-3.61z"/>
<path fill="#e78484" d="M322.12 358.80h3.61v10.40h-3.61zM325.38 358.80h3.61v10.40h-3.61zM331.90 358.80h3.61v10.40h-3.61zM335.16 358.80h3.61v10.40h-3.61zM377.54 358.80h3.61v10.40h-3.61zM393.84 358.80h3.61v10.40h-3.61zM406.88 358.80h3.61v10.40h-3.61zM410.14 358.80h3.61v10.40h-3.61zM419.92 449.25h3.61v10.40h-3.61z"/>
<path fill="#7b8ad2" d="M322.12 439.20h3.61v10.40h-3.61zM390.58 429.15h3.61v10.40h-3.61z"/>
<path fill="#3f51b4" d="M325.38 378.90h3.61v10.40h-3.61zM328.64 378.90h3.61v10.40h-3.61z"/>
<path fill="#3342a5" d="M325.38 399.00h3.61v10.40h-3.61zM374.28 388.95h3.61v10.40h-3.61zM377.54 399.00h3.61v10.40h-3.61z"/>
<path fill="#455aba" d="M325.38 419.10h3.61v10.40h-3.61zM374.28 419.10h3.61v10.40h-3.61zM403.62 409.05h3.61v10.40h-3.61z"/>
<path fill="#5d6cc3" d="M325.38 429.15h3.61v10.40h-3.61z"/>
<path fill="#485aba" d="M328.64 419.10h3.61v10.40h-3.61zM348.20 429.15h3.61v10.40h-3.61zM387.32 409.05h3.61v10.40h-3.61zM393.84 378.90h3.61v10.40h-3.61zM400.36 378.90h3.61v10.40h-3.61zM403.62 378.90h3.61v10.40h-3.61z"/>
<path fill="#5463c0" d="M335.16 429.15h3.61v10.40h-3.61zM390.58 419.10h3.61v10.40h-3.61z"/>
<path fill="#9ca8de" d="M335.16 449.25h3.61v10.40h-3.61z"/>
<path fill="#2a3696" d="M338.42 388.95h3.61v10.40h-3.61zM351.46 409.05h3.61v10.40h-3.61z"/>
<path fill="#242d8a" d="M338.42 409.05h3.61v10.40h-3.61z"/>
<path fill="#2a399c" d="M338.42 419.10h3.61v10.40h-3.61zM341.68 388.95h3.61v10.40h-3.61zM348.20 399.00h3.61v10.40h-3.61zM348.20 409.05h3.61v10.40h-3.61z"/>
<path fill="#2a3699" d="M341.68 399.00h3.61v10.40h-3.61z"/>
<path fill="#8d96d8" d="M341.68 449.25h3.61v10.40h-3.61zM387.32 429.15h3.61v10.40h-3.61zM416.66 388.95h3.61v10.40h-3.61zM416.66 399.00h3.61v10.40h-3.61z"/>
<path fill="#6c78cc" d="M344.94 439.20h3.61v10.40h-3.61z"/>
<path fill="#3345ab" d="M348.20 419.10h3.61v10.40h-3.61zM380.80 378.90h3.61v10.40h-3.61zM384.06 388.95h3.61v10.40h-3.61z"/>
<path fill="#96a2de" d="M348.20 449.25h3.61v10.40h-3.61zM416.66 378.90h3.61v10.40h-3.61z"/>
<path fill="#2d399c" d="M351.46 388.95h3.61v10.40h-3.61zM380.80 388.95h3.61v10.40h-3.61z"/>
<path fill="#2a3999" d="M351.46 399.00h3.61v10.40h-3.61zM380.80 399.00h3.61v10.40h-3.61z"/>
<path fill="#7281cf" d="M354.72 439.20h3.61v10.40h-3.61z"/>
<path fill="#7e8dd2" d="M357.98 419.10h3.61v10.40h-3.61z"/>
<path fill="#b7c0e7" d="M364.50 449.25h3.61v10.40h-3.61z"/>
<path fill="#5769c3" d="M367.76 388.95h3.61v10.40h-3.61zM371.02 388.95h3.61v10.40h-3.61z"/>
<path fill="#8793d8" d="M374.28 439.20h3.61v10.40h-3.61z"/>
<path fill="#3c4eb4" d="M377.54 378.90h3.61v10.40h-3.61z"/>
<path fill="#c6c9ea" d="M384.06 449.25h3.61v10.40h-3.61z"/>
<path fill="#4257b7" d="M387.32 378.90h3.61v10.40h-3.61zM397.10 378.90h3.61v10.40h-3.61z"/>
<path fill="#6072c6" d="M387.32 419.10h3.61v10.40h-3.61zM403.62 419.10h3.61v10.40h-3.61z"/>
<path fill="#a5aee4" d="M387.32 439.20h3.61v10.40h-3.61zM397.10 439.20h3.61v10.40h-3.61z"/>
<path fill="#8a93d8" d="M397.10 429.15h3.61v10.40h-3.61zM413.40 419.10h3.61v10.40h-3.61z"/>
<path fill="#4b5dba" d="M400.36 409.05h3.61v10.40h-3.61zM410.14 388.95h3.61v10.40h-3.61zM410.14 399.00h3.61v10.40h-3.61z"/>
<path fill="#9099d8" d="M403.62 429.15h3.61v10.40h-3.61z"/>
<path fill="#abb4e4" d="M410.14 429.15h3.61v10.40h-3.61zM504.68 378.90h3.61v10.40h-3.61zM504.68 388.95h3.61v10.40h-3.61z"/>
<path fill="#f9f9f9" d="M442.74 459.30h3.61v10.40h-3.61zM455.78 449.25h3.61v10.40h-3.61zM465.56 459.30h3.61v10.40h-3.61zM622.04 378.90h3.61v10.40h-3.61zM625.30 378.90h3.61v10.40h-3.61z"/>
<path fill="#a8aee4" d="M452.52 409.05h3.61v10.40h-3.61z"/>
<path fill="#fcf6f6" d="M494.90 459.30h3.61v10.40h-3.61zM498.16 459.30h3.61v10.40h-3.61zM501.42 459.30h3.61v10.40h-3.61zM517.72 358.80h3.61v10.40h-3.61zM520.98 469.35h3.61v10.40h-3.61zM524.24 409.05h3.61v10.40h-3.61zM524.24 469.35h3.61v10.40h-3.61zM527.50 469.35h3.61v10.40h-3.61zM530.76 409.05h3.61v10.40h-3.61zM530.76 469.35h3.61v10.40h-3.61zM534.02 409.05h3.61v10.40h-3.61zM534.02 469.35h3.61v10.40h-3.61zM537.28 469.35h3.61v10.40h-3.61zM540.54 469.35h3.61v10.40h-3.61zM543.80 469.35h3.61v10.40h-3.61zM547.06 469.35h3.61v10.40h-3.61zM550.32 368.85h3.61v10.40h-3.61zM550.32 469.35h3.61v10.40h-3.61zM566.62 378.90h3.61v10.40h-3.61zM566.62 409.05h3.61v10.40h-3.61zM569.88 378.90h3.61v10.40h-3.61zM569.88 409.05h3.61v10.40h-3.61zM582.92 378.90h3.61v10.40h-3.61zM586.18 378.90h3.61v10.40h-3.61zM589.44 378.90h3.61v10.40h-3.61zM592.70 378.90h3.61v10.40h-3.61zM595.96 378.90h3.61v10.40h-3.61zM618.78 469.35h3.61v10.40h-3.61zM622.04 469.35h3.61v10.40h-3.61zM625.30 409.05h3.61v10.40h-3.61zM625.30 469.35h3.61v10.40h-3.61zM628.56 469.35h3.61v10.40h-3.61zM631.82 469.35h3.61v10.40h-3.61zM635.08 469.35h3.61v10.40h-3.61zM638.34 469.35h3.61v10.40h-3.61zM641.60 469.35h3.61v10.40h-3.61zM644.86 469.35h0.49v10.40h-0.49z"/>
<rect x="38.50" y="206.30" width="45.20" height="120.20" fill="rgb(200,60,70)" fill-opacity="0.45"/>
<rect x="246.70" y="206.30" width="56.80" height="120.20" fill="rgb(60,58,165)" fill-opacity="0.43"/>
<rect x="572.70" y="206.30" width="44.60" height="120.20" fill="rgb(200,60,70)" fill-opacity="0.45"/>
<rect x="38.50" y="358.80" width="45.20" height="120.60" fill="rgb(200,60,70)" fill-opacity="0.45"/>
<rect x="246.70" y="358.80" width="56.80" height="120.60" fill="rgb(60,58,165)" fill-opacity="0.43"/>
<rect x="572.70" y="358.80" width="44.60" height="120.60" fill="rgb(200,60,70)" fill-opacity="0.45"/>
<polygon points="38.5,479.4 83.7,479.4 83.7,496 208.2,532 38.5,532" fill="rgb(197,44,55)" fill-opacity="0.45"/>
<polygon points="246.7,479.4 303.5,479.4 303.5,496 429.2,532 259.5,532" fill="rgb(71,71,166)" fill-opacity="0.45"/>
<polygon points="572.7,479.4 617.3,479.4 617.3,496 650.2,532 480.4,532 572.7,496" fill="rgb(197,44,55)" fill-opacity="0.45"/>
<rect x="645" y="206.30" width="6" height="120.20" fill="url(#cbb)"/>
<rect x="645" y="358.80" width="6" height="120.60" fill="url(#cbc)"/>
<polyline fill="none" stroke="#4c72b0" stroke-width="1.8" stroke-linejoin="round" points="38.5,147.8 70.4,142.0 71.3,138.3 93.3,136.6 94.2,124.8 101.9,125.2 102.6,118.8 114.0,119.9 114.9,111.7 127.0,112.9 127.8,105.8 135.0,106.9 135.8,98.3 143.1,99.8 143.9,92.2 157.3,96.0 158.1,84.2 165.3,85.9 169.7,84.6 178.8,88.5 179.5,76.7 199.4,83.1 200.2,72.4 208.7,74.9 209.4,70.2 222.2,74.0 223.2,63.7 242.2,70.1 243.0,62.0 255.5,66.9 268.5,70.5 300.0,74.0 330.0,77.0 370.0,83.0 417.1,90.7 417.8,86.6 434.0,94.4 449.5,98.5 470.0,101.5 490.9,104.2 520.0,109.0 556.0,114.4 595.2,120.6 622.1,124.0 650.2,125.9"/>
<polyline fill="none" stroke="#4c72b0" stroke-width="2.0" stroke-linejoin="round" points="38.5,158.2 39.3,158.1 40.1,158.4 40.9,157.8 41.7,158.1 42.5,157.9 43.3,158.4 44.1,157.6 44.9,158.0 45.7,158.2 46.5,158.4 47.3,158.2 48.1,158.6 48.9,157.7 49.7,158.2 50.5,157.8 51.3,157.5 52.1,157.7 52.9,157.4 53.7,156.9 54.5,157.5 55.3,157.2 56.1,157.6 56.9,157.8 57.7,157.9 58.5,158.2 59.3,157.9 60.1,157.4 60.9,157.5 61.7,157.4 62.5,157.5 63.3,158.1 64.1,157.7 64.9,157.4 65.7,158.3 66.5,158.1 67.3,158.3 67.8,167.2 68.0,158.2 68.1,158.3 68.9,158.3 69.7,158.1 70.5,158.4 71.3,158.3 72.1,158.2 72.9,158.3 73.7,157.8 74.5,158.1 75.3,158.3 76.1,158.5 76.9,157.9 77.7,158.8 78.5,158.4 79.3,158.0 80.1,158.0 80.9,158.2 81.7,158.2 82.5,158.3 83.3,158.5 84.1,158.2 84.9,158.5 85.7,158.1 86.5,158.2 87.3,158.3 88.1,158.6 88.9,157.8 89.7,158.1 90.5,157.9 91.3,158.2 92.1,157.9 92.9,157.9 93.7,158.0 94.5,157.7 95.3,157.7 96.1,158.0 96.9,157.6 97.7,157.7 98.5,158.1 99.3,158.5 100.1,158.4 100.6,167.2 100.8,158.2 100.9,157.8 101.7,158.1 102.5,158.4 103.3,158.4 104.1,158.2 104.9,157.8 105.7,158.2 106.5,158.0 107.3,157.9 108.1,158.0 108.9,158.6 109.7,158.4 110.5,158.7 111.3,158.4 112.1,158.7 112.9,158.1 113.7,158.3 114.5,158.7 115.3,158.1 116.1,157.7 116.9,157.7 117.7,157.7 118.5,158.3 119.3,157.8 120.1,157.5 120.9,158.1 121.7,158.3 122.5,158.4 123.3,158.6 124.1,158.2 124.9,158.5 125.7,158.0 126.5,158.4 127.3,158.7 128.1,158.3 128.9,158.2 129.7,158.0 130.5,158.5 131.3,157.9 132.1,158.1 132.9,158.2 133.0,167.2 133.2,158.2 133.7,158.4 134.5,157.9 135.3,158.0 136.1,157.8 136.9,157.7 137.7,157.7 138.5,157.4 139.3,157.7 140.1,158.1 140.9,157.8 141.7,157.9 142.5,158.2 143.3,157.8 144.1,158.4 144.9,158.0 145.7,158.6 146.5,158.9 147.3,158.7 148.1,158.4 148.9,158.4 149.7,158.1 150.5,158.1 151.3,158.4 152.1,157.6 152.9,158.4 153.7,158.0 154.5,158.5 155.3,158.2 156.1,158.0 156.9,158.2 157.7,158.4 158.5,158.1 159.3,158.2 160.1,157.9 160.9,157.3 161.7,158.1 162.5,158.2 163.3,158.1 164.1,157.9 164.9,158.2 165.7,158.0 165.8,167.2 166.1,158.2 166.5,158.0 167.3,158.2 168.1,158.3 168.9,157.5 169.7,158.3 170.5,157.9 171.3,157.6 172.1,158.3 172.9,158.0 173.7,157.7 174.5,158.1 175.3,158.2 176.1,158.2 176.9,157.9 177.7,158.1 178.5,158.2 179.3,157.9 180.1,158.1 180.9,158.1 181.7,158.1 182.5,158.0 183.3,158.2 184.1,158.1 184.9,158.1 185.7,158.2 186.5,158.7 187.3,158.4 188.1,158.4 188.9,158.6 189.7,158.6 190.5,158.9 191.3,158.1 192.1,158.5 192.9,158.4 193.7,159.1 194.5,159.0 195.3,158.1 196.1,158.2 196.9,158.7 197.7,158.7 197.7,167.2 197.9,158.2 198.5,116.0 199.3,116.0 200.1,116.7 200.9,116.0 201.7,117.2 202.5,117.5 203.3,116.3 204.1,116.7 204.9,116.0 205.7,115.7 206.5,115.1 207.3,115.5 208.1,115.6 208.9,115.5 209.7,115.5 210.5,114.9 211.3,115.3 212.1,116.0 212.9,115.8 213.7,115.0 214.5,115.5 215.3,116.3 216.1,116.8 216.9,117.2 217.7,117.4 218.5,117.2 219.3,117.6 220.1,117.7 220.9,117.7 221.7,117.6 222.5,118.6 223.3,119.1 224.1,119.4 224.9,119.7 225.7,120.1 226.5,120.5 227.3,119.9 228.1,120.5 228.9,119.9 229.7,120.8 230.5,123.0 230.7,131.6 230.9,124.7 231.3,124.2 232.1,124.6 232.9,125.2 233.7,124.6 234.5,124.3 235.3,123.7 236.1,122.5 236.9,122.9 237.7,122.6 238.5,123.3 239.3,123.5 240.1,124.5 240.9,125.4 241.7,126.4 242.5,126.1 243.3,125.6 244.1,125.8 244.9,126.0 245.7,126.7 246.5,127.0 247.3,126.0 248.1,126.6 248.9,125.9 249.7,126.6 250.5,125.8 251.3,125.7 252.1,125.8 252.9,126.0 253.7,125.9 254.5,126.5 255.3,125.8 256.1,126.7 256.9,126.7 257.7,126.2 258.5,126.4 259.3,126.4 260.1,125.1 260.9,125.3 261.7,125.3 262.5,124.9 263.1,134.5 263.4,127.6 263.3,127.4 264.1,127.3 264.9,126.9 265.7,127.6 266.5,128.2 267.3,127.7 268.1,126.6 268.9,126.7 269.7,126.9 270.5,127.4 271.3,126.7 272.1,126.8 272.9,127.3 273.7,127.7 274.5,126.9 275.3,126.4 276.1,126.4 276.9,126.6 277.7,126.1 278.5,126.6 279.3,126.2 280.1,126.9 280.9,127.4 281.7,126.8 282.5,126.0 283.3,126.2 284.1,126.4 284.9,126.3 285.7,125.7 286.5,125.7 287.3,125.2 288.1,126.1 288.9,125.0 289.7,125.3 290.5,125.0 291.3,125.4 292.1,125.3 292.9,125.6 293.7,125.8 294.5,126.5 295.3,125.6 295.9,134.5 296.1,127.6 296.1,128.0 296.9,127.4 297.7,127.4 298.5,127.2 299.3,127.0 300.1,126.9 300.9,127.3 301.7,126.8 302.5,126.5 303.3,127.1 304.1,126.7 304.9,125.5 305.7,125.7 306.5,126.5 307.3,126.8 308.1,126.6 308.9,126.9 309.7,127.6 310.5,127.3 311.3,127.3 312.1,126.9 312.9,126.2 313.7,126.5 314.5,126.4 315.3,125.9 316.1,125.5 316.9,125.7 317.7,126.5 318.5,126.2 319.3,125.9 320.1,125.7 320.9,125.8 321.7,125.9 322.5,126.1 323.3,126.2 324.1,126.0 324.9,127.0 325.7,126.8 326.5,126.7 327.3,126.3 328.1,126.3 328.7,134.5 328.9,127.6 328.9,127.5 329.7,126.6 330.5,126.2 331.3,125.6 332.1,125.0 332.9,125.3 333.7,124.7 334.5,125.4 335.3,126.2 336.1,126.4 336.9,125.7 337.7,125.6 338.5,126.4 339.3,126.1 340.1,126.1 340.9,125.8 341.7,125.6 342.5,124.9 343.3,125.1 344.1,125.7 344.9,126.1 345.7,125.7 346.5,126.0 347.3,126.2 348.1,126.1 348.9,125.9 349.7,125.3 350.5,125.2 351.3,124.7 352.1,124.7 352.9,124.8 353.7,125.3 354.5,125.1 355.3,124.8 356.1,125.2 356.9,124.9 357.7,125.0 358.5,125.6 359.3,125.2 360.1,125.1 360.7,134.0 360.9,127.1 360.9,126.8 361.7,126.9 362.5,126.9 363.3,126.1 364.1,126.1 364.9,125.7 365.7,126.5 366.5,127.2 367.3,125.9 368.1,125.9 368.9,127.1 369.7,126.5 370.5,126.6 371.3,126.2 372.1,126.4 372.9,125.9 373.7,125.7 374.5,125.6 375.3,125.2 376.1,125.1 376.9,125.5 377.7,125.3 378.5,125.6 379.3,125.3 380.1,125.3 380.9,125.6 381.7,125.0 382.5,124.9 383.3,124.5 384.1,124.3 384.9,124.6 385.7,124.3 386.5,124.5 387.3,124.5 388.1,124.4 388.9,124.1 389.7,124.9 390.5,125.0 391.3,125.4 392.1,125.6 392.9,125.4 393.3,134.0 393.6,127.1 393.7,127.0 394.5,126.8 395.3,126.9 396.1,126.7 396.9,126.5 397.7,126.9 398.5,126.0 399.3,125.6 400.1,125.9 400.9,125.7 401.7,125.5 402.5,125.9 403.3,125.2 404.1,125.2 404.9,125.4 405.7,125.0 406.5,124.3 407.3,124.7 408.1,124.4 408.9,124.7 409.7,124.4 410.5,124.5 411.3,125.1 412.1,124.9 412.9,124.4 413.7,124.8 414.5,124.3 415.3,125.0 416.1,125.1 416.9,124.5 417.7,124.6 418.5,124.9 419.3,124.5 420.1,124.2 420.9,123.9 421.7,124.1 422.5,124.6 423.3,125.6 424.1,124.7 424.9,123.6 425.7,123.7 425.7,132.8 425.9,125.9 426.5,124.9 427.3,124.7 428.1,125.1 428.9,124.4 429.7,123.8 430.5,123.9 431.3,125.2 432.1,124.1 432.9,123.8 433.7,123.6 434.5,124.1 435.3,123.9 436.1,124.2 436.9,123.1 437.7,123.4 438.5,123.9 439.3,124.6 440.1,123.8 440.9,124.1 441.7,123.5 442.5,124.5 443.3,123.9 444.1,124.0 444.9,123.4 445.7,123.1 446.5,123.6 447.3,124.1 448.1,124.6 448.9,124.9 449.7,124.7 450.5,124.5 451.3,125.0 452.1,124.9 452.9,124.9 453.7,124.3 454.5,123.7 455.3,124.0 456.1,123.8 456.9,123.5 457.7,123.7 458.5,123.6 458.6,132.8 458.9,125.9 459.3,125.6 460.1,125.0 460.9,125.1 461.7,124.9 462.5,125.0 463.3,124.4 464.1,124.3 464.9,124.0 465.7,123.9 466.5,124.0 467.3,123.1 468.1,123.2 468.9,124.0 469.7,123.1 470.5,123.8 471.3,123.5 472.1,123.6 472.9,124.2 473.7,123.8 474.5,123.9 475.3,123.0 476.1,123.9 476.9,123.6 477.7,124.1 478.5,123.9 479.3,123.5 480.1,123.5 480.9,124.2 481.7,124.5 482.5,124.2 483.3,124.4 484.1,123.9 484.9,124.4 485.7,125.1 486.5,124.6 487.3,124.6 488.1,123.7 488.9,124.4 489.7,125.3 490.5,126.9 490.9,134.5 491.1,127.6 491.3,128.4 492.1,127.5 492.9,127.2 493.7,128.0 494.5,126.4 495.3,126.4 496.1,125.7 496.9,125.4 497.7,125.4 498.5,125.4 499.3,125.0 500.1,125.6 500.9,126.3 501.7,126.9 502.5,127.0 503.3,127.1 504.1,126.6 504.9,126.1 505.7,126.3 506.5,125.8 507.3,125.8 508.1,126.2 508.9,126.4 509.7,125.8 510.5,126.4 511.3,126.9 512.1,126.7 512.9,126.8 513.7,126.9 514.5,126.7 515.3,126.3 516.1,125.6 516.9,126.0 517.7,125.7 518.5,125.2 519.3,124.9 520.1,125.1 520.9,125.2 521.7,125.1 522.5,124.7 523.3,124.6 523.8,134.5 524.0,127.6 524.1,125.7 524.9,126.4 525.7,126.4 526.5,126.2 527.3,126.1 528.1,126.3 528.9,126.6 529.7,126.6 530.5,125.7 531.3,127.4 532.1,126.7 532.9,127.1 533.7,127.9 534.5,128.1 535.3,127.5 536.1,127.0 536.9,127.2 537.7,127.0 538.5,126.4 539.3,127.7 540.1,127.0 540.9,127.7 541.7,127.0 542.5,127.8 543.3,127.0 544.1,127.0 544.9,126.5 545.7,126.4 546.5,126.5 547.3,125.6 548.1,125.1 548.9,125.9 549.7,125.5 550.5,125.3 551.3,125.4 552.1,125.8 552.9,126.2 553.7,125.9 554.5,126.4 555.3,126.0 556.0,134.5 556.2,127.6 556.1,128.4 556.9,128.1 557.7,127.0 558.5,127.0 559.3,126.6 560.1,126.7 560.9,127.1 561.7,125.9 562.5,126.4 563.3,126.1 564.1,126.2 564.9,126.1 565.7,126.5 566.5,126.9 567.3,127.3 568.1,127.4 568.9,127.9 569.7,127.4 570.5,128.3 571.3,128.2 572.1,127.6 572.9,127.1 573.7,126.3 574.5,126.1 575.3,125.3 576.1,124.8 576.9,124.7 577.7,125.1 578.5,124.8 579.3,125.0 580.1,125.5 580.9,125.4 581.7,126.0 582.5,125.6 583.3,126.1 584.1,126.1 584.9,126.1 585.7,125.7 586.5,126.0 587.3,125.0 588.1,126.0 588.9,125.7 589.1,134.5 589.4,127.6 589.7,126.5 590.5,127.1 591.3,126.6 592.1,126.7 592.9,127.2 593.7,127.1 594.5,127.1 595.3,127.6 596.1,127.9 596.9,128.2 597.7,127.7 598.5,127.7 599.3,127.6 600.1,127.8 600.9,127.0 601.7,127.7 602.5,127.4 603.3,127.4 604.1,127.3 604.9,126.7 605.7,127.2 606.5,126.6 607.3,126.1 608.1,126.0 608.9,125.3 609.7,125.9 610.5,125.9 611.3,125.8 612.1,125.2 612.9,124.8 613.7,124.6 614.5,125.3 615.3,125.5 616.1,126.4 616.9,126.6 617.7,126.5 618.5,126.1 619.3,126.3 620.1,125.6 620.9,125.4 621.6,134.5 621.9,127.6 621.7,126.9 622.5,125.6 623.3,125.8 624.1,125.5 624.9,125.7 625.7,125.7 626.5,126.3 627.3,125.9 628.1,126.6 628.9,126.0 629.7,126.1 630.5,125.5 631.3,126.2 632.1,127.3 632.9,126.6 633.7,127.5 634.5,127.6 635.3,128.1 636.1,128.2 636.9,127.8 637.7,126.6 638.5,126.6 639.3,125.9 640.1,126.1 640.9,125.4 641.7,125.4 642.5,126.1 643.3,126.3 644.1,125.7 644.9,126.8 645.7,126.8 646.5,126.7 647.3,126.5 648.1,126.2 648.9,126.3 649.7,126.4 650.5,125.7"/>
<rect x="38.50" y="53.50" width="612.50" height="120.70" fill="none" stroke="#262626" stroke-width="1"/>
<rect x="38.50" y="206.30" width="606.50" height="120.20" fill="none" stroke="#262626" stroke-width="1"/>
<rect x="38.50" y="358.80" width="606.50" height="120.60" fill="none" stroke="#262626" stroke-width="1"/>
<rect x="645" y="206.30" width="6" height="120.20" fill="none" stroke="#262626" stroke-width="1"/>
<rect x="645" y="358.80" width="6" height="120.60" fill="none" stroke="#262626" stroke-width="1"/>
<line x1="165.20" y1="53.50" x2="165.20" y2="479.40" stroke="#111" stroke-width="1.4" stroke-dasharray="4.2 4.2"/>
<line x1="491.20" y1="53.50" x2="491.20" y2="479.40" stroke="#111" stroke-width="1.4" stroke-dasharray="4.2 4.2"/>
<path d="M35.00 174.20L38.50 174.20M35.00 150.14L38.50 150.14M35.00 126.08L38.50 126.08M35.00 102.02L38.50 102.02M35.00 77.96L38.50 77.96M35.00 53.90L38.50 53.90M651.00 167.20L654.50 167.20M651.00 138.90L654.50 138.90M651.00 110.60L654.50 110.60M651.00 82.30L654.50 82.30M651.00 54.00L654.50 54.00M83.70 174.20L83.70 177.70M83.70 326.50L83.70 330.00M83.70 479.40L83.70 482.90M165.20 174.20L165.20 177.70M165.20 326.50L165.20 330.00M165.20 479.40L165.20 482.90M246.70 174.20L246.70 177.70M246.70 326.50L246.70 330.00M246.70 479.40L246.70 482.90M328.20 174.20L328.20 177.70M328.20 326.50L328.20 330.00M328.20 479.40L328.20 482.90M409.70 174.20L409.70 177.70M409.70 326.50L409.70 330.00M409.70 479.40L409.70 482.90M491.20 174.20L491.20 177.70M491.20 326.50L491.20 330.00M491.20 479.40L491.20 482.90M572.70 174.20L572.70 177.70M572.70 326.50L572.70 330.00M572.70 479.40L572.70 482.90M35.00 326.50L38.50 326.50M35.00 479.40L38.50 479.40M35.00 298.46L38.50 298.46M35.00 451.36L38.50 451.36M35.00 270.42L38.50 270.42M35.00 423.32L38.50 423.32M35.00 242.38L38.50 242.38M35.00 395.28L38.50 395.28M35.00 214.34L38.50 214.34M35.00 367.24L38.50 367.24M651.00 310.89L654.50 310.89M651.00 295.28L654.50 295.28M651.00 279.67L654.50 279.67M651.00 264.06L654.50 264.06M651.00 248.45L654.50 248.45M651.00 232.84L654.50 232.84M651.00 217.23L654.50 217.23M651.00 364.30L654.50 364.30M651.00 378.50L654.50 378.50M651.00 392.70L654.50 392.70M651.00 406.90L654.50 406.90M651.00 421.10L654.50 421.10M651.00 435.30L654.50 435.30M651.00 449.50L654.50 449.50M651.00 463.70L654.50 463.70M651.00 477.90L654.50 477.90" stroke="#262626" stroke-width="1" fill="none"/>
<polygon points="46.7,643.6 57.8,643.8 72.7,642.8 87.5,642.8 109.8,642.1 123.4,642.6 136.5,640.3 149.4,641.8 164.2,641.5 176.6,639.9 189.0,637.6 200.9,635.2 200.9,645.3 189.0,645.8 176.6,646.3 164.2,646.1 149.4,644.2 136.5,642.7 123.4,645.0 109.8,644.5 87.5,645.2 72.7,645.2 57.8,646.2 46.7,646.0" fill="#d9434f" fill-opacity="0.45"/>
<polyline points="46.7,644.8 57.8,645.0 72.7,644.0 87.5,644.0 109.8,643.3 123.4,643.8 136.5,641.5 149.4,643.0 164.2,644.0 176.6,643.5 189.0,642.3 200.9,641.0" fill="none" stroke="#c8232f" stroke-width="1.8" stroke-linejoin="round"/>
<polygon points="487.7,644.9 506.0,645.0 524.4,644.9 543.0,644.3 561.1,643.8 577.6,641.3 594.1,642.0 603.3,641.0 616.0,637.2 629.0,632.9 641.8,632.3 641.8,641.4 629.0,639.9 616.0,642.2 603.3,643.9 594.1,644.4 577.6,643.7 561.1,646.2 543.0,646.7 524.4,647.3 506.0,647.4 487.7,647.3" fill="#d9434f" fill-opacity="0.45"/>
<polyline points="487.7,646.1 506.0,646.2 524.4,646.1 543.0,645.5 561.1,645.0 577.6,642.5 594.1,643.2 603.3,642.5 616.0,640.0 629.0,637.0 641.8,637.7" fill="none" stroke="#c8232f" stroke-width="1.8" stroke-linejoin="round"/>
<polygon points="268.0,608.2 280.8,608.2 293.5,610.7 306.2,614.8 319.0,603.5 331.8,579.7 344.5,556.5 357.2,538.3 370.0,545.2 382.8,579.7 395.5,613.4 408.2,631.5 421.0,636.7 421.0,639.7 408.2,634.5 395.5,616.4 382.8,582.7 370.0,548.2 357.2,541.3 344.5,559.5 331.8,582.7 319.0,606.5 306.2,617.8 293.5,613.7 280.8,611.2 268.0,611.2" fill="#5560b8" fill-opacity="0.45"/>
<polygon points="268.0,640.2 280.8,640.2 293.5,637.7 306.2,636.9 319.0,636.0 331.8,636.4 344.5,636.0 357.2,636.2 370.0,636.5 382.8,635.2 395.5,635.2 408.2,640.2 421.0,641.6 421.0,647.6 408.2,646.2 395.5,641.2 382.8,641.2 370.0,642.5 357.2,642.2 344.5,642.0 331.8,642.4 319.0,642.0 306.2,642.9 293.5,643.7 280.8,646.2 268.0,646.2" fill="#9a9a9a" fill-opacity="0.45"/>
<polyline points="268.0,643.2 280.8,643.2 293.5,640.7 306.2,639.9 319.0,639.0 331.8,639.4 344.5,639.0 357.2,639.2 370.0,639.5 382.8,638.2 395.5,638.2 408.2,643.2 421.0,644.6" fill="none" stroke="#6e6e6e" stroke-width="1.6" stroke-dasharray="4.5 2.5"/>
<polyline points="268.0,609.7 280.8,609.7 293.5,612.2 306.2,616.3 319.0,605.0 331.8,581.2 344.5,558.0 357.2,539.8 370.0,546.7 382.8,581.2 395.5,614.9 408.2,633.0 421.0,638.2" fill="none" stroke="#3a44a6" stroke-width="2" stroke-linejoin="round"/>
<line x1="130.3" y1="537.1" x2="368" y2="537.1" stroke="#111" stroke-width="1.2" stroke-dasharray="4.3 4.2"/>
<polygon points="46.6,710.4 69.0,703.5 86.3,701.8 114.0,703.5 138.0,701.8 155.4,696.6 186.5,687.3 200.3,685.6 200.3,715.6 186.5,713.9 172.7,713.9 155.4,717.3 138.0,719.0 120.9,717.3 96.7,713.2 69.0,711.5 46.6,710.4" fill="#d9434f" fill-opacity="0.45"/>
<polyline points="46.6,710.4 62.2,707.0 79.4,706.3 103.6,707.7 120.9,709.4 145.0,710.4 162.3,708.0 186.5,701.1 200.3,700.4" fill="none" stroke="#c8232f" stroke-width="1.8" stroke-linejoin="round"/>
<polygon points="267.5,710.4 278.9,701.1 318.6,701.1 346.2,696.6 370.4,693.2 398.0,691.4 422.2,694.2 422.2,716.3 398.0,714.9 380.7,714.9 353.1,713.9 318.6,712.2 278.9,708.7 267.5,710.4" fill="#9a9a9a" fill-opacity="0.45"/>
<polyline points="267.5,710.4 278.9,705.2 294.4,704.6 318.6,706.0 353.1,704.6 380.7,703.5 398.0,702.8 422.2,704.6" fill="none" stroke="#6e6e6e" stroke-width="1.6" stroke-dasharray="4.5 2.5"/>
<polygon points="267.5,710.4 284.0,717.3 304.8,727.7 318.6,736.3 335.9,746.7 356.6,765.0 370.4,765.0 384.2,758.8 398.0,748.4 410.1,739.8 422.2,734.6 422.2,762.2 410.1,770.9 398.0,782.9 384.2,791.6 370.4,793.3 356.6,791.6 335.9,777.8 318.6,760.5 304.8,746.7 284.0,726.0 267.5,710.4" fill="#5560b8" fill-opacity="0.45"/>
<polyline points="267.5,710.4 284.0,722.5 304.8,734.6 318.6,745.0 335.9,760.5 356.6,781.2 370.4,785.4 384.2,780.5 398.0,770.9 410.1,762.2 422.2,756.4" fill="none" stroke="#3a44a6" stroke-width="1.8" stroke-linejoin="round"/>
<polygon points="488.5,710.4 506.8,707.0 527.5,702.5 551.7,702.5 575.9,705.2 600.0,704.2 617.3,700.1 631.1,696.6 643.2,694.9 643.2,720.8 631.1,720.8 617.3,720.8 600.0,721.8 575.9,718.4 551.7,713.2 527.5,711.5 506.8,711.5 488.5,710.4" fill="#d9434f" fill-opacity="0.45"/>
<polyline points="488.5,710.4 506.8,707.7 527.5,705.9 551.7,707.0 575.9,710.4 600.0,711.1 617.3,708.7 631.1,705.9 643.2,705.9" fill="none" stroke="#c8232f" stroke-width="1.8" stroke-linejoin="round"/>
<line x1="38.50" y1="710.4" x2="208.50" y2="710.4" stroke="#000" stroke-width="1.6"/>
<line x1="259.70" y1="710.4" x2="429.70" y2="710.4" stroke="#000" stroke-width="1.6"/>
<line x1="480.40" y1="710.4" x2="650.40" y2="710.4" stroke="#000" stroke-width="1.6"/>
<rect x="38.50" y="532.00" width="170.00" height="119.80" fill="none" stroke="#262626" stroke-width="1"/>
<rect x="38.50" y="680.50" width="170.00" height="120.30" fill="none" stroke="#262626" stroke-width="1"/>
<rect x="259.70" y="532.00" width="170.00" height="119.80" fill="none" stroke="#262626" stroke-width="1"/>
<rect x="259.70" y="680.50" width="170.00" height="120.30" fill="none" stroke="#262626" stroke-width="1"/>
<rect x="480.40" y="532.00" width="170.00" height="119.80" fill="none" stroke="#262626" stroke-width="1"/>
<rect x="480.40" y="680.50" width="170.00" height="120.30" fill="none" stroke="#262626" stroke-width="1"/>
<path d="M35.00 646.60L38.50 646.60M35.00 612.90L38.50 612.90M35.00 579.20L38.50 579.20M35.00 545.50L38.50 545.50M35.00 710.40L38.50 710.40M35.00 742.00L38.50 742.00M35.00 773.60L38.50 773.60M46.80 651.80L46.80 655.30M46.80 800.80L46.80 804.30M82.80 651.80L82.80 655.30M82.80 800.80L82.80 804.30M118.80 651.80L118.80 655.30M118.80 800.80L118.80 804.30M154.80 651.80L154.80 655.30M154.80 800.80L154.80 804.30M190.80 651.80L190.80 655.30M190.80 800.80L190.80 804.30M256.20 646.60L259.70 646.60M256.20 612.90L259.70 612.90M256.20 579.20L259.70 579.20M256.20 545.50L259.70 545.50M256.20 710.40L259.70 710.40M256.20 742.00L259.70 742.00M256.20 773.60L259.70 773.60M268.00 651.80L268.00 655.30M268.00 800.80L268.00 804.30M304.00 651.80L304.00 655.30M304.00 800.80L304.00 804.30M340.00 651.80L340.00 655.30M340.00 800.80L340.00 804.30M376.00 651.80L376.00 655.30M376.00 800.80L376.00 804.30M412.00 651.80L412.00 655.30M412.00 800.80L412.00 804.30M476.90 646.60L480.40 646.60M476.90 612.90L480.40 612.90M476.90 579.20L480.40 579.20M476.90 545.50L480.40 545.50M476.90 710.40L480.40 710.40M476.90 742.00L480.40 742.00M476.90 773.60L480.40 773.60M488.70 651.80L488.70 655.30M488.70 800.80L488.70 804.30M524.70 651.80L524.70 655.30M524.70 800.80L524.70 804.30M560.70 651.80L560.70 655.30M560.70 800.80L560.70 804.30M596.70 651.80L596.70 655.30M596.70 800.80L596.70 804.30M632.70 651.80L632.70 655.30M632.70 800.80L632.70 804.30" stroke="#262626" stroke-width="1" fill="none"/>
<line x1="136.4" y1="552" x2="136.4" y2="628" stroke="#000" stroke-width="2.7"/>
<polygon points="136.4,538.7 143.1,561.6 136.4,555.6 129.6,561.6" fill="#000"/>
<polygon points="136.4,641.5 143.1,618.9 136.4,624.9 129.6,618.9" fill="#000"/>
<path d="M128.4 216.2 Q162 236 186 270" fill="none" stroke="#000" stroke-width="3.8" stroke-linecap="round"/>
<polygon points="194.8,282.6 182.2,271.0 188,268.5 192.5,264.5" fill="#000"/>
<path d="M204.2 266.7 Q213 248.5 242 246.5" fill="none" stroke="#000" stroke-width="2.7" stroke-dasharray="5 2.6"/>
<polygon points="247.2,246.5 240.6,243.2 241.8,246.5 240.6,249.8" fill="#000"/>
<line x1="247" y1="246.4" x2="416" y2="246.4" stroke="#000" stroke-width="2.6" stroke-dasharray="6.8 4.2"/>
<g font-family='"Liberation Sans", sans-serif' fill="#111">
<text x="31.10" y="178.40" text-anchor="end" font-size="10.8">0.0</text>
<text x="31.10" y="154.34" text-anchor="end" font-size="10.8">0.2</text>
<text x="31.10" y="130.28" text-anchor="end" font-size="10.8">0.4</text>
<text x="31.10" y="106.22" text-anchor="end" font-size="10.8">0.6</text>
<text x="31.10" y="82.16" text-anchor="end" font-size="10.8">0.8</text>
<text x="31.10" y="58.10" text-anchor="end" font-size="10.8">1.0</text>
<text x="39.00" y="50.80" text-anchor="start" font-size="10.8">1e20</text>
<text x="658.20" y="171.40" text-anchor="start" font-size="10.8">2</text>
<text x="658.20" y="143.10" text-anchor="start" font-size="10.8">4</text>
<text x="658.20" y="114.80" text-anchor="start" font-size="10.8">6</text>
<text x="658.20" y="86.50" text-anchor="start" font-size="10.8">8</text>
<text x="658.20" y="58.20" text-anchor="start" font-size="10.8">10</text>
<text x="83.70" y="494.70" text-anchor="middle" font-size="10.8">1.25</text>
<text x="165.20" y="494.70" text-anchor="middle" font-size="10.8">1.50</text>
<text x="246.70" y="494.70" text-anchor="middle" font-size="10.8">1.75</text>
<text x="328.20" y="494.70" text-anchor="middle" font-size="10.8">2.00</text>
<text x="409.70" y="494.70" text-anchor="middle" font-size="10.8">2.25</text>
<text x="491.20" y="494.70" text-anchor="middle" font-size="10.8">2.50</text>
<text x="572.70" y="494.70" text-anchor="middle" font-size="10.8">2.75</text>
<text x="344.50" y="506.60" text-anchor="middle" font-size="10.8" textLength="39.0" lengthAdjust="spacingAndGlyphs">Time / s</text>
<text x="31.10" y="330.70" text-anchor="end" font-size="10.8">0.0</text>
<text x="31.10" y="483.60" text-anchor="end" font-size="10.8">0.0</text>
<text x="31.10" y="302.66" text-anchor="end" font-size="10.8">0.2</text>
<text x="31.10" y="455.56" text-anchor="end" font-size="10.8">0.2</text>
<text x="31.10" y="274.62" text-anchor="end" font-size="10.8">0.4</text>
<text x="31.10" y="427.52" text-anchor="end" font-size="10.8">0.4</text>
<text x="31.10" y="246.58" text-anchor="end" font-size="10.8">0.6</text>
<text x="31.10" y="399.48" text-anchor="end" font-size="10.8">0.6</text>
<text x="31.10" y="218.54" text-anchor="end" font-size="10.8">0.8</text>
<text x="31.10" y="371.44" text-anchor="end" font-size="10.8">0.8</text>
<text x="658.20" y="315.09" text-anchor="start" font-size="10.8">0.1</text>
<text x="658.20" y="299.48" text-anchor="start" font-size="10.8">0.2</text>
<text x="658.20" y="283.87" text-anchor="start" font-size="10.8">0.3</text>
<text x="658.20" y="268.26" text-anchor="start" font-size="10.8">0.4</text>
<text x="658.20" y="252.65" text-anchor="start" font-size="10.8">0.5</text>
<text x="658.20" y="237.04" text-anchor="start" font-size="10.8">0.6</text>
<text x="658.20" y="221.43" text-anchor="start" font-size="10.8">0.7</text>
<text x="658.20" y="368.50" text-anchor="start" font-size="10.8">12.5</text>
<text x="658.20" y="382.70" text-anchor="start" font-size="10.8">10.0</text>
<text x="658.20" y="396.90" text-anchor="start" font-size="10.8">7.5</text>
<text x="658.20" y="411.10" text-anchor="start" font-size="10.8">5.0</text>
<text x="658.20" y="425.30" text-anchor="start" font-size="10.8">2.5</text>
<text x="658.20" y="439.50" text-anchor="start" font-size="10.8">0.0</text>
<text x="658.20" y="453.70" text-anchor="start" font-size="10.8">−2.5</text>
<text x="658.20" y="467.90" text-anchor="start" font-size="10.8">−5.0</text>
<text x="658.20" y="482.10" text-anchor="start" font-size="10.8">−7.5</text>
<text x="271.3" y="47" font-size="12.4" textLength="146.4" lengthAdjust="spacingAndGlyphs">a) <tspan font-style="italic">P</tspan><tspan font-style="italic" font-size="8.9" dy="2.5">ECRH</tspan><tspan dy="-2.5"> | </tspan><tspan font-style="italic">n</tspan><tspan font-style="italic" font-size="8.9" dy="2.5">e</tspan><tspan dy="-2.5"> Time Traces</tspan></text>
<text x="266.30" y="199.60" font-size="12.4" textLength="156.3" lengthAdjust="spacingAndGlyphs">b) Ar<tspan font-size="8.9" dy="3.2">16+</tspan><tspan dy="-3.2"> Density Evolution</tspan></text>
<text x="275.80" y="352.00" font-size="12.4" textLength="136.2" lengthAdjust="spacingAndGlyphs">c) Ar<tspan font-size="8.9" dy="3.2">16+</tspan><tspan dy="-3.2"> Flux Evolution</tspan></text>
<text transform="translate(9.80 135.30) rotate(-90)" x="0" y="0" font-size="10.8" textLength="40.1" lengthAdjust="spacingAndGlyphs"><tspan font-style="italic">n</tspan><tspan font-style="italic" font-size="7.8" dy="2">e</tspan><tspan dy="-2"> / m</tspan><tspan font-size="7.8" dy="-4">−3</tspan></text>
<text transform="translate(682.60 140.20) rotate(-90)" x="0" y="0" font-size="10.8" textLength="52.0" lengthAdjust="spacingAndGlyphs"><tspan font-style="italic">P</tspan><tspan font-style="italic" font-size="7.8" dy="2">ECRH</tspan><tspan dy="-2"> / MW</tspan></text>
<text transform="translate(9.6 267.00) rotate(-90)" text-anchor="middle" font-size="11.8" font-style="italic">ρ</text>
<text transform="translate(9.6 419.70) rotate(-90)" text-anchor="middle" font-size="11.8" font-style="italic">ρ</text>
<text transform="translate(686.20 296.70) rotate(-90)" x="0" y="0" font-size="10.8" textLength="59.3" lengthAdjust="spacingAndGlyphs"><tspan font-style="italic">n</tspan><tspan font-size="7.8" dy="-4">Ar16+</tspan><tspan dy="4"> / a.u.</tspan></text>
<text transform="translate(692.30 459.00) rotate(-90)" x="0" y="0" font-size="10.8" textLength="79.4" lengthAdjust="spacingAndGlyphs">Ar<tspan font-size="7.8" dy="2.4">16+</tspan><tspan dy="-2.4"> Flux / a.u.</tspan></text>
<text x="31.10" y="650.80" text-anchor="end" font-size="10.8">0.0</text>
<text x="31.10" y="617.10" text-anchor="end" font-size="10.8">0.2</text>
<text x="31.10" y="583.40" text-anchor="end" font-size="10.8">0.4</text>
<text x="31.10" y="549.70" text-anchor="end" font-size="10.8">0.6</text>
<text x="31.10" y="714.60" text-anchor="end" font-size="10.8">0</text>
<text x="31.10" y="746.20" text-anchor="end" font-size="10.8">−2</text>
<text x="31.10" y="777.80" text-anchor="end" font-size="10.8">−4</text>
<text x="46.80" y="816.20" text-anchor="middle" font-size="10.8">0.0</text>
<text x="82.80" y="816.20" text-anchor="middle" font-size="10.8">0.2</text>
<text x="118.80" y="816.20" text-anchor="middle" font-size="10.8">0.4</text>
<text x="154.80" y="816.20" text-anchor="middle" font-size="10.8">0.6</text>
<text x="190.80" y="816.20" text-anchor="middle" font-size="10.8">0.8</text>
<text x="123.00" y="828.50" text-anchor="middle" font-size="10.8" font-style="italic">ρ</text>
<text transform="translate(9.20 623.60) rotate(-90)" x="0" y="0" font-size="10.8" textLength="62.2" lengthAdjust="spacingAndGlyphs"><tspan font-style="italic">n</tspan><tspan font-size="7.2" dy="-4">Ar16+</tspan><tspan dy="4"> / a.u.</tspan></text>
<text transform="translate(10.50 781.20) rotate(-90)" x="0" y="0" font-size="10.8" textLength="79.4" lengthAdjust="spacingAndGlyphs">Ar<tspan font-size="7.8" dy="3">16+</tspan><tspan dy="-3"> Flux / a.u.</tspan></text>
<text x="252.30" y="650.80" text-anchor="end" font-size="10.8">0.0</text>
<text x="252.30" y="617.10" text-anchor="end" font-size="10.8">0.2</text>
<text x="252.30" y="583.40" text-anchor="end" font-size="10.8">0.4</text>
<text x="252.30" y="549.70" text-anchor="end" font-size="10.8">0.6</text>
<text x="252.30" y="714.60" text-anchor="end" font-size="10.8">0</text>
<text x="252.30" y="746.20" text-anchor="end" font-size="10.8">−2</text>
<text x="252.30" y="777.80" text-anchor="end" font-size="10.8">−4</text>
<text x="268.00" y="816.20" text-anchor="middle" font-size="10.8">0.0</text>
<text x="304.00" y="816.20" text-anchor="middle" font-size="10.8">0.2</text>
<text x="340.00" y="816.20" text-anchor="middle" font-size="10.8">0.4</text>
<text x="376.00" y="816.20" text-anchor="middle" font-size="10.8">0.6</text>
<text x="412.00" y="816.20" text-anchor="middle" font-size="10.8">0.8</text>
<text x="344.20" y="828.50" text-anchor="middle" font-size="10.8" font-style="italic">ρ</text>
<text transform="translate(230.40 623.60) rotate(-90)" x="0" y="0" font-size="10.8" textLength="62.2" lengthAdjust="spacingAndGlyphs"><tspan font-style="italic">n</tspan><tspan font-size="7.2" dy="-4">Ar16+</tspan><tspan dy="4"> / a.u.</tspan></text>
<text transform="translate(231.70 781.20) rotate(-90)" x="0" y="0" font-size="10.8" textLength="79.4" lengthAdjust="spacingAndGlyphs">Ar<tspan font-size="7.8" dy="3">16+</tspan><tspan dy="-3"> Flux / a.u.</tspan></text>
<text x="473.00" y="650.80" text-anchor="end" font-size="10.8">0.0</text>
<text x="473.00" y="617.10" text-anchor="end" font-size="10.8">0.2</text>
<text x="473.00" y="583.40" text-anchor="end" font-size="10.8">0.4</text>
<text x="473.00" y="549.70" text-anchor="end" font-size="10.8">0.6</text>
<text x="473.00" y="714.60" text-anchor="end" font-size="10.8">0</text>
<text x="473.00" y="746.20" text-anchor="end" font-size="10.8">−2</text>
<text x="473.00" y="777.80" text-anchor="end" font-size="10.8">−4</text>
<text x="488.70" y="816.20" text-anchor="middle" font-size="10.8">0.0</text>
<text x="524.70" y="816.20" text-anchor="middle" font-size="10.8">0.2</text>
<text x="560.70" y="816.20" text-anchor="middle" font-size="10.8">0.4</text>
<text x="596.70" y="816.20" text-anchor="middle" font-size="10.8">0.6</text>
<text x="632.70" y="816.20" text-anchor="middle" font-size="10.8">0.8</text>
<text x="564.90" y="828.50" text-anchor="middle" font-size="10.8" font-style="italic">ρ</text>
<text transform="translate(451.10 623.60) rotate(-90)" x="0" y="0" font-size="10.8" textLength="62.2" lengthAdjust="spacingAndGlyphs"><tspan font-style="italic">n</tspan><tspan font-size="7.2" dy="-4">Ar16+</tspan><tspan dy="4"> / a.u.</tspan></text>
<text transform="translate(452.40 781.20) rotate(-90)" x="0" y="0" font-size="10.8" textLength="79.4" lengthAdjust="spacingAndGlyphs">Ar<tspan font-size="7.8" dy="3">16+</tspan><tspan dy="-3"> Flux / a.u.</tspan></text>
<text x="56.00" y="525.90" font-size="12.4" textLength="134.3" lengthAdjust="spacingAndGlyphs">d) CERC Ar<tspan font-size="8.9" dy="3.2">16+</tspan><tspan dy="-3.2"> Density</tspan></text>
<text x="283.40" y="525.90" font-size="12.4" textLength="121.5" lengthAdjust="spacingAndGlyphs">e) IRC Ar<tspan font-size="8.9" dy="3.2">16+</tspan><tspan dy="-3.2"> Density</tspan></text>
<text x="498.80" y="525.90" font-size="12.4" textLength="132.8" lengthAdjust="spacingAndGlyphs">f) CERC Ar<tspan font-size="8.9" dy="3.2">16+</tspan><tspan dy="-3.2"> Density</tspan></text>
<text x="66.40" y="674.50" font-size="12.4" textLength="114.3" lengthAdjust="spacingAndGlyphs">g) CERC Ar<tspan font-size="8.9" dy="3.2">16+</tspan><tspan dy="-3.2"> Flux</tspan></text>
<text x="293.70" y="674.50" font-size="12.4" textLength="101.5" lengthAdjust="spacingAndGlyphs">h) IRC Ar<tspan font-size="8.9" dy="3.2">16+</tspan><tspan dy="-3.2"> Flux</tspan></text>
<text x="511.00" y="674.50" font-size="12.4" textLength="109.0" lengthAdjust="spacingAndGlyphs">i) CERC Ar<tspan font-size="8.9" dy="3.2">16+</tspan><tspan dy="-3.2"> Flux</tspan></text>
<text x="86.60" y="89.30" font-size="20.5" font-style="italic">n</text>
<text x="98.60" y="93.60" font-size="15.0" font-style="italic">e</text>
<text x="209.30" y="150.70" font-size="19.0" font-style="italic">P</text>
<text x="220.80" y="154.60" font-size="14.8" font-style="italic" textLength="39.3" lengthAdjust="spacingAndGlyphs">ECRH</text>
<text x="55.30" y="561.20" font-size="18.3" font-style="italic">n</text>
<text x="65.10" y="564.60" font-size="13.8" font-style="italic" textLength="16.8" lengthAdjust="spacingAndGlyphs">Ar</text>
<text x="82.10" y="554.70" font-size="11.6" font-style="italic" textLength="22.2" lengthAdjust="spacingAndGlyphs">16+</text>
<text x="273.70" y="561.20" font-size="18.3" font-style="italic">n</text>
<text x="283.50" y="564.60" font-size="13.8" font-style="italic" textLength="16.8" lengthAdjust="spacingAndGlyphs">Ar</text>
<text x="300.50" y="554.70" font-size="11.6" font-style="italic" textLength="22.2" lengthAdjust="spacingAndGlyphs">16+</text>
<text x="493.00" y="561.20" font-size="18.3" font-style="italic">n</text>
<text x="502.80" y="564.60" font-size="13.8" font-style="italic" textLength="16.8" lengthAdjust="spacingAndGlyphs">Ar</text>
<text x="519.80" y="554.70" font-size="11.6" font-style="italic" textLength="22.2" lengthAdjust="spacingAndGlyphs">16+</text>
<text x="54.20" y="781.6" font-size="16.5" font-family='"Liberation Serif", serif'>Γ</text>
<text x="63.00" y="784.60" font-size="13.8" font-style="italic" textLength="17.0" lengthAdjust="spacingAndGlyphs">Ar</text>
<text x="80.10" y="774.70" font-size="11.6" font-style="italic" textLength="22.2" lengthAdjust="spacingAndGlyphs">16+</text>
<text x="273.30" y="781.6" font-size="16.5" font-family='"Liberation Serif", serif'>Γ</text>
<text x="282.10" y="784.60" font-size="13.8" font-style="italic" textLength="17.0" lengthAdjust="spacingAndGlyphs">Ar</text>
<text x="299.20" y="774.70" font-size="11.6" font-style="italic" textLength="22.2" lengthAdjust="spacingAndGlyphs">16+</text>
<text x="496.40" y="781.6" font-size="16.5" font-family='"Liberation Serif", serif'>Γ</text>
<text x="505.20" y="784.60" font-size="13.8" font-style="italic" textLength="17.0" lengthAdjust="spacingAndGlyphs">Ar</text>
<text x="522.30" y="774.70" font-size="11.6" font-style="italic" textLength="22.2" lengthAdjust="spacingAndGlyphs">16+</text>
<text x="386.00" y="558.80" font-size="17.3" font-style="italic" textLength="31.6" lengthAdjust="spacingAndGlyphs">IRC</text>
<text x="271.30" y="634.00" font-size="17.2" font-style="italic" textLength="45.5" lengthAdjust="spacingAndGlyphs">CERC</text>
<text x="265.00" y="699.20" font-size="17.2" font-style="italic" textLength="45.9" lengthAdjust="spacingAndGlyphs">CERC</text>
<text x="365.60" y="743.80" font-size="17.3" font-style="italic" textLength="31.3" lengthAdjust="spacingAndGlyphs">IRC</text>
<text x="141.30" y="598.50" text-anchor="start" font-size="17.2" textLength="30.5" lengthAdjust="spacingAndGlyphs">x10</text>
</g>
</svg>
</body></html>
